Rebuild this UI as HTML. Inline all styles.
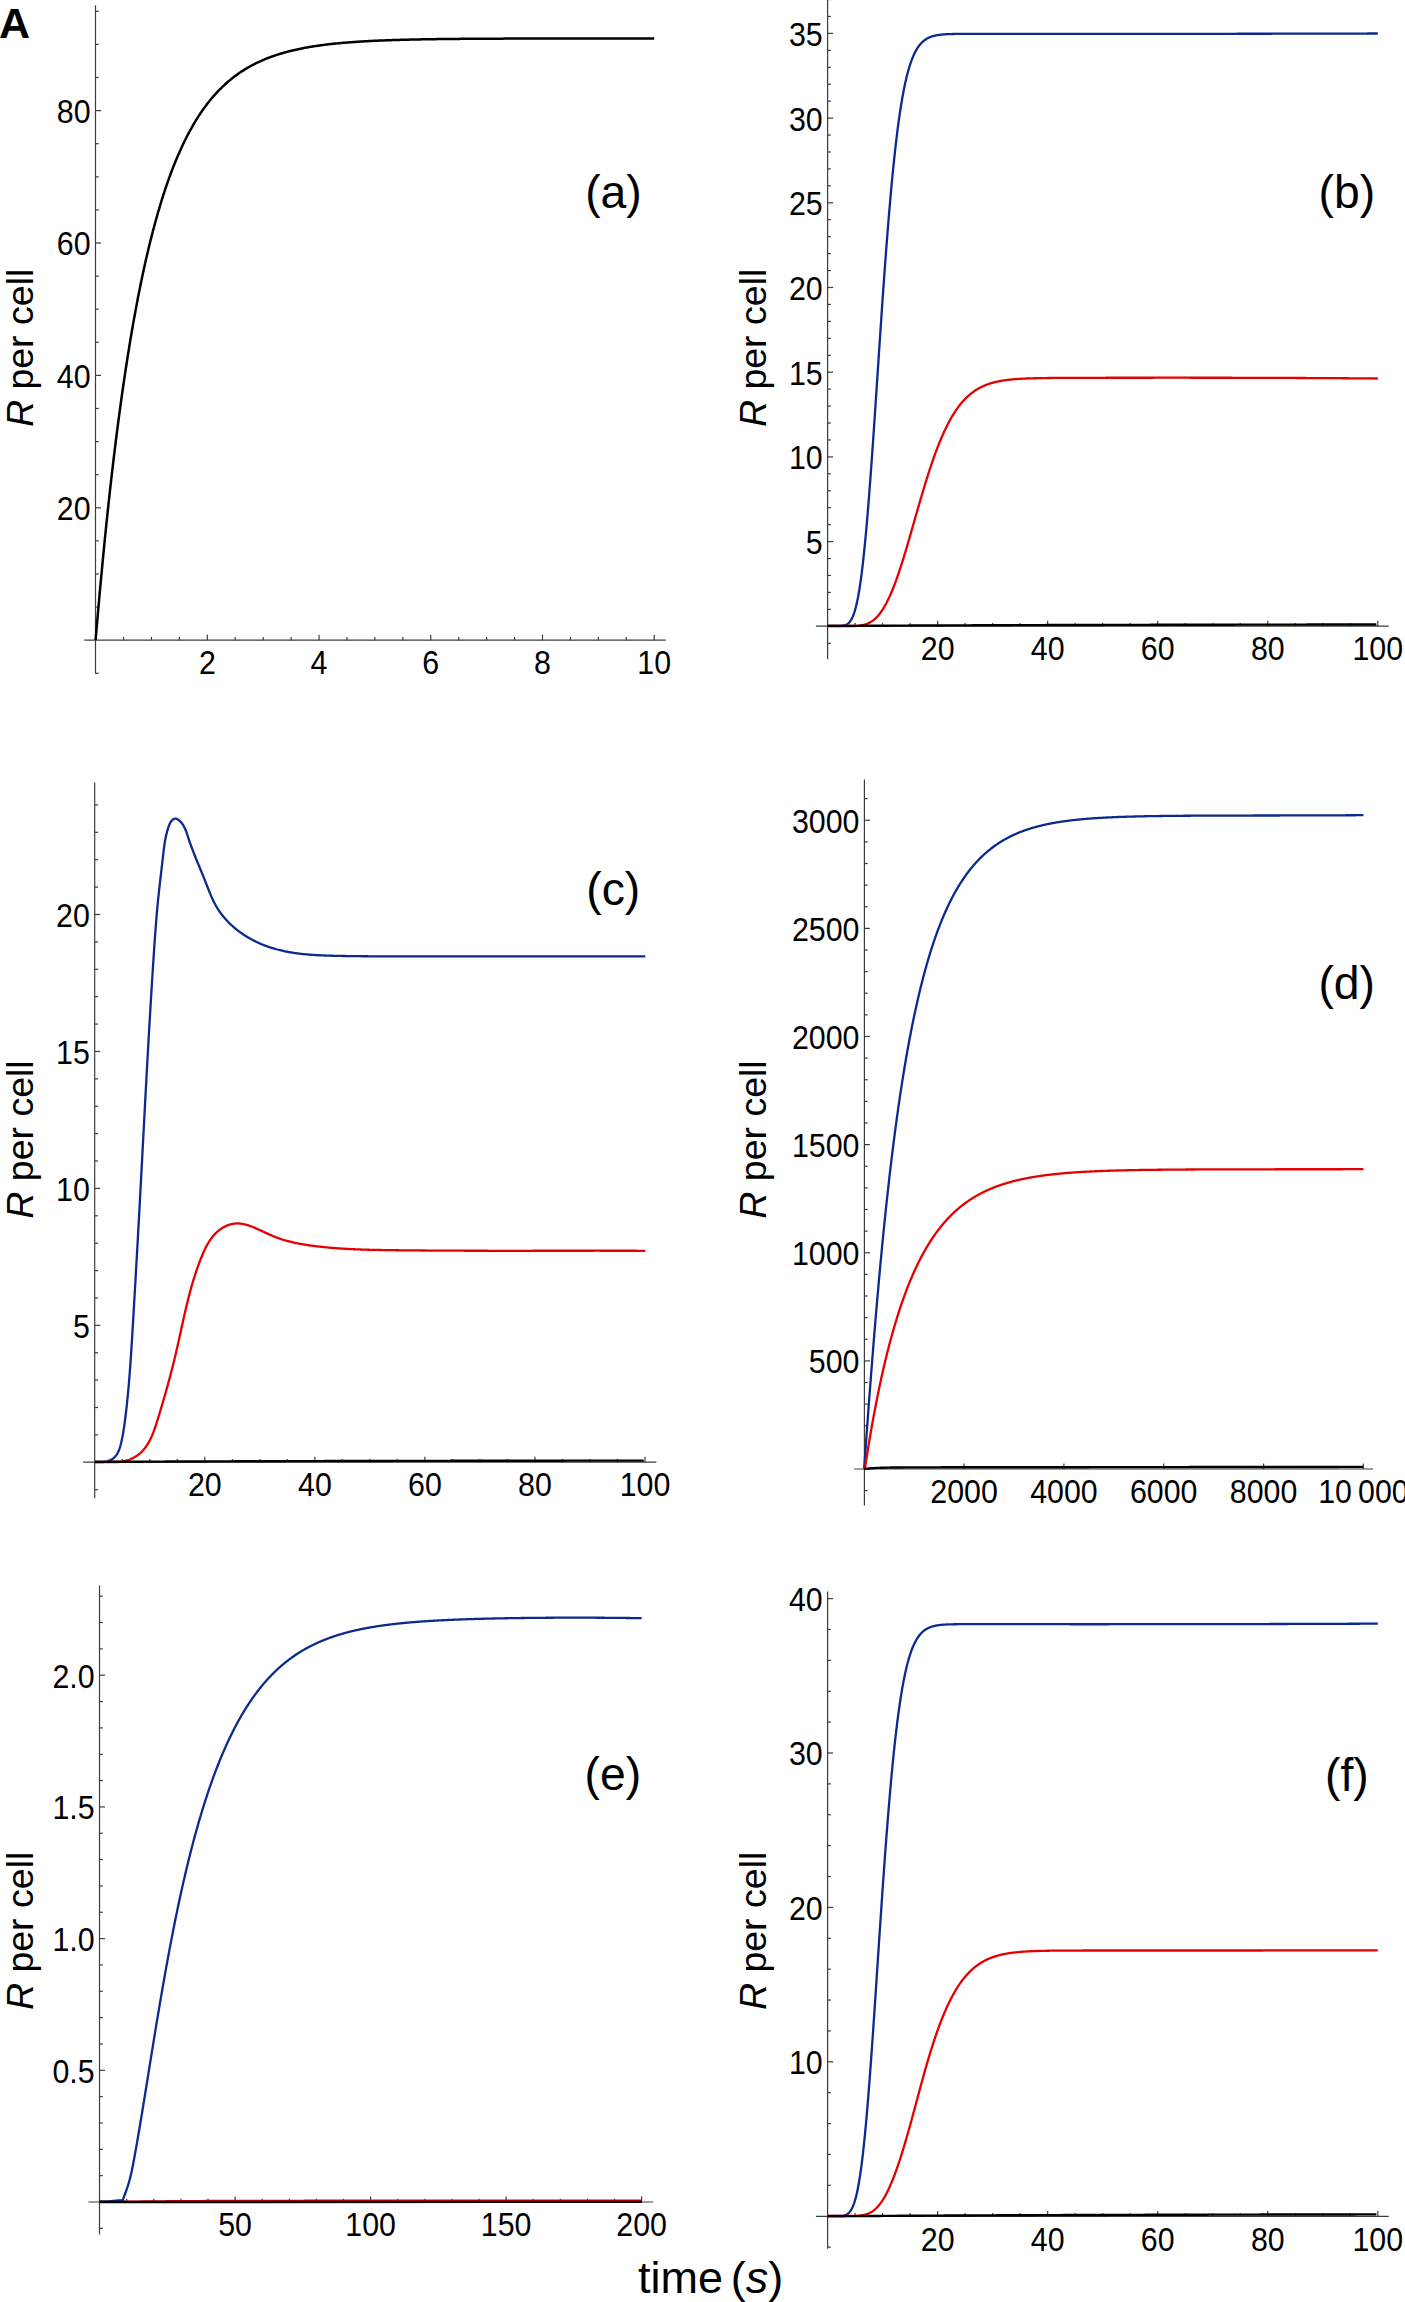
<!DOCTYPE html><html><head><meta charset="utf-8"><style>html,body{margin:0;padding:0;background:#fff;overflow:hidden}svg{display:block}text{fill:#000}</style></head><body><svg xmlns="http://www.w3.org/2000/svg" width="1405" height="2302" viewBox="0 0 1405 2302" font-family='"Liberation Sans", sans-serif'>
<rect width="1405" height="2302" fill="#fff"/>
<line x1="84.2" y1="640.2" x2="665.7" y2="640.2" stroke="#3c3c3c" stroke-width="1.2"/>
<line x1="95.5" y1="5.3" x2="95.5" y2="673.8" stroke="#3c3c3c" stroke-width="1.2"/>
<line x1="207.32" y1="640.2" x2="207.32" y2="634.7" stroke="#3c3c3c" stroke-width="1.2"/>
<line x1="319.04" y1="640.2" x2="319.04" y2="634.7" stroke="#3c3c3c" stroke-width="1.2"/>
<line x1="430.76" y1="640.2" x2="430.76" y2="634.7" stroke="#3c3c3c" stroke-width="1.2"/>
<line x1="542.48" y1="640.2" x2="542.48" y2="634.7" stroke="#3c3c3c" stroke-width="1.2"/>
<line x1="654.2" y1="640.2" x2="654.2" y2="634.7" stroke="#3c3c3c" stroke-width="1.2"/>
<line x1="123.53" y1="640.2" x2="123.53" y2="636.9" stroke="#3c3c3c" stroke-width="1.2"/>
<line x1="151.46" y1="640.2" x2="151.46" y2="636.9" stroke="#3c3c3c" stroke-width="1.2"/>
<line x1="179.39" y1="640.2" x2="179.39" y2="636.9" stroke="#3c3c3c" stroke-width="1.2"/>
<line x1="235.25" y1="640.2" x2="235.25" y2="636.9" stroke="#3c3c3c" stroke-width="1.2"/>
<line x1="263.18" y1="640.2" x2="263.18" y2="636.9" stroke="#3c3c3c" stroke-width="1.2"/>
<line x1="291.11" y1="640.2" x2="291.11" y2="636.9" stroke="#3c3c3c" stroke-width="1.2"/>
<line x1="346.97" y1="640.2" x2="346.97" y2="636.9" stroke="#3c3c3c" stroke-width="1.2"/>
<line x1="374.9" y1="640.2" x2="374.9" y2="636.9" stroke="#3c3c3c" stroke-width="1.2"/>
<line x1="402.83" y1="640.2" x2="402.83" y2="636.9" stroke="#3c3c3c" stroke-width="1.2"/>
<line x1="458.69" y1="640.2" x2="458.69" y2="636.9" stroke="#3c3c3c" stroke-width="1.2"/>
<line x1="486.62" y1="640.2" x2="486.62" y2="636.9" stroke="#3c3c3c" stroke-width="1.2"/>
<line x1="514.55" y1="640.2" x2="514.55" y2="636.9" stroke="#3c3c3c" stroke-width="1.2"/>
<line x1="570.41" y1="640.2" x2="570.41" y2="636.9" stroke="#3c3c3c" stroke-width="1.2"/>
<line x1="598.34" y1="640.2" x2="598.34" y2="636.9" stroke="#3c3c3c" stroke-width="1.2"/>
<line x1="626.27" y1="640.2" x2="626.27" y2="636.9" stroke="#3c3c3c" stroke-width="1.2"/>
<line x1="95.5" y1="507.8" x2="101" y2="507.8" stroke="#3c3c3c" stroke-width="1.2"/>
<line x1="95.5" y1="375.4" x2="101" y2="375.4" stroke="#3c3c3c" stroke-width="1.2"/>
<line x1="95.5" y1="243" x2="101" y2="243" stroke="#3c3c3c" stroke-width="1.2"/>
<line x1="95.5" y1="110.6" x2="101" y2="110.6" stroke="#3c3c3c" stroke-width="1.2"/>
<line x1="95.5" y1="673.3" x2="98.8" y2="673.3" stroke="#3c3c3c" stroke-width="1.2"/>
<line x1="95.5" y1="607.1" x2="98.8" y2="607.1" stroke="#3c3c3c" stroke-width="1.2"/>
<line x1="95.5" y1="574" x2="98.8" y2="574" stroke="#3c3c3c" stroke-width="1.2"/>
<line x1="95.5" y1="540.9" x2="98.8" y2="540.9" stroke="#3c3c3c" stroke-width="1.2"/>
<line x1="95.5" y1="474.7" x2="98.8" y2="474.7" stroke="#3c3c3c" stroke-width="1.2"/>
<line x1="95.5" y1="441.6" x2="98.8" y2="441.6" stroke="#3c3c3c" stroke-width="1.2"/>
<line x1="95.5" y1="408.5" x2="98.8" y2="408.5" stroke="#3c3c3c" stroke-width="1.2"/>
<line x1="95.5" y1="342.3" x2="98.8" y2="342.3" stroke="#3c3c3c" stroke-width="1.2"/>
<line x1="95.5" y1="309.2" x2="98.8" y2="309.2" stroke="#3c3c3c" stroke-width="1.2"/>
<line x1="95.5" y1="276.1" x2="98.8" y2="276.1" stroke="#3c3c3c" stroke-width="1.2"/>
<line x1="95.5" y1="209.9" x2="98.8" y2="209.9" stroke="#3c3c3c" stroke-width="1.2"/>
<line x1="95.5" y1="176.8" x2="98.8" y2="176.8" stroke="#3c3c3c" stroke-width="1.2"/>
<line x1="95.5" y1="143.7" x2="98.8" y2="143.7" stroke="#3c3c3c" stroke-width="1.2"/>
<line x1="95.5" y1="77.5" x2="98.8" y2="77.5" stroke="#3c3c3c" stroke-width="1.2"/>
<line x1="95.5" y1="44.4" x2="98.8" y2="44.4" stroke="#3c3c3c" stroke-width="1.2"/>
<line x1="95.5" y1="11.3" x2="98.8" y2="11.3" stroke="#3c3c3c" stroke-width="1.2"/>
<text transform="translate(207.32,674.3) scale(0.92,1)" font-size="33" text-anchor="middle">2</text>
<text transform="translate(319.04,674.3) scale(0.92,1)" font-size="33" text-anchor="middle">4</text>
<text transform="translate(430.76,674.3) scale(0.92,1)" font-size="33" text-anchor="middle">6</text>
<text transform="translate(542.48,674.3) scale(0.92,1)" font-size="33" text-anchor="middle">8</text>
<text transform="translate(654.2,674.3) scale(0.92,1)" font-size="33" text-anchor="middle">10</text>
<text transform="translate(90.6,520.2) scale(0.92,1)" font-size="33" text-anchor="end">20</text>
<text transform="translate(90.6,387.8) scale(0.92,1)" font-size="33" text-anchor="end">40</text>
<text transform="translate(90.6,255.4) scale(0.92,1)" font-size="33" text-anchor="end">60</text>
<text transform="translate(90.6,123) scale(0.92,1)" font-size="33" text-anchor="end">80</text>
<path d="M95.6,640.2 L96.72,626.96 L97.84,614.02 L98.96,601.35 L100.08,588.97 L101.2,576.86 L102.32,565.01 L103.44,553.43 L104.56,542.1 L105.67,531.02 L106.79,520.18 L107.91,509.59 L109.03,499.22 L110.15,489.09 L111.27,479.17 L112.39,469.48 L113.51,459.99 L114.63,450.72 L115.75,441.65 L116.87,432.78 L117.99,424.11 L119.11,415.62 L120.23,407.32 L121.35,399.21 L122.47,391.27 L123.59,383.51 L124.71,375.92 L125.82,368.5 L126.94,361.23 L128.06,354.13 L129.18,347.19 L130.3,340.4 L131.42,333.75 L132.54,327.26 L133.66,320.9 L134.78,314.69 L135.9,308.61 L137.02,302.67 L138.14,296.86 L139.26,291.17 L140.38,285.61 L141.5,280.17 L142.62,274.86 L143.74,269.66 L144.86,264.57 L145.97,259.59 L147.09,254.73 L148.21,249.97 L149.33,245.32 L150.45,240.77 L151.57,236.32 L152.69,231.96 L153.81,227.71 L154.93,223.54 L156.05,219.47 L157.17,215.49 L158.29,211.59 L159.41,207.78 L160.53,204.06 L161.65,200.42 L162.77,196.85 L163.89,193.37 L165.01,189.96 L166.12,186.63 L167.24,183.37 L168.36,180.18 L169.48,177.06 L170.6,174.01 L171.72,171.03 L172.84,168.11 L173.96,165.26 L175.08,162.47 L176.2,159.74 L177.32,157.07 L178.44,154.46 L179.56,151.91 L180.68,149.41 L181.8,146.97 L182.92,144.58 L184.04,142.25 L185.16,139.97 L186.27,137.73 L187.39,135.55 L188.51,133.41 L189.63,131.32 L190.75,129.28 L191.87,127.28 L192.99,125.33 L194.11,123.42 L195.23,121.55 L196.35,119.72 L197.47,117.93 L198.59,116.18 L199.71,114.47 L200.83,112.8 L201.95,111.16 L203.07,109.56 L204.19,108 L205.31,106.47 L206.42,104.97 L207.54,103.51 L208.66,102.08 L209.78,100.68 L210.9,99.31 L212.02,97.97 L213.14,96.66 L214.26,95.38 L215.38,94.13 L216.5,92.9 L217.62,91.7 L218.74,90.53 L219.86,89.39 L220.98,88.26 L222.1,87.17 L223.22,86.1 L224.34,85.05 L225.45,84.02 L226.57,83.02 L227.69,82.04 L228.81,81.08 L229.93,80.14 L231.05,79.23 L232.17,78.33 L233.29,77.45 L234.41,76.59 L235.53,75.75 L236.65,74.93 L237.77,74.13 L238.89,73.34 L240.01,72.58 L241.13,71.83 L242.25,71.09 L243.37,70.37 L244.49,69.67 L245.6,68.98 L246.72,68.31 L247.84,67.65 L248.96,67.01 L250.08,66.38 L251.2,65.77 L252.32,65.17 L253.44,64.58 L254.56,64 L255.68,63.44 L256.8,62.89 L257.92,62.35 L259.04,61.83 L260.16,61.31 L261.28,60.81 L262.4,60.32 L263.52,59.84 L264.64,59.37 L265.75,58.91 L266.87,58.46 L267.99,58.02 L269.11,57.59 L270.23,57.16 L271.35,56.75 L272.47,56.35 L273.59,55.96 L274.71,55.57 L275.83,55.19 L276.95,54.83 L278.07,54.46 L279.19,54.11 L280.31,53.77 L281.43,53.43 L282.55,53.1 L283.67,52.78 L284.79,52.46 L285.9,52.15 L287.02,51.85 L288.14,51.56 L289.26,51.27 L290.38,50.99 L291.5,50.71 L292.62,50.44 L293.74,50.18 L294.86,49.92 L295.98,49.67 L297.1,49.42 L298.22,49.18 L299.34,48.94 L300.46,48.71 L301.58,48.48 L302.7,48.26 L303.82,48.05 L304.94,47.84 L306.05,47.63 L307.17,47.43 L308.29,47.23 L309.41,47.04 L310.53,46.85 L311.65,46.66 L312.77,46.48 L313.89,46.31 L315.01,46.13 L316.13,45.96 L317.25,45.8 L318.37,45.64 L319.49,45.48 L320.61,45.32 L321.73,45.17 L322.85,45.02 L323.97,44.88 L325.08,44.74 L326.2,44.6 L327.32,44.46 L328.44,44.33 L329.56,44.2 L330.68,44.07 L331.8,43.95 L332.92,43.83 L334.04,43.71 L335.16,43.59 L336.28,43.48 L337.4,43.37 L338.52,43.26 L339.64,43.16 L340.76,43.05 L341.88,42.95 L343,42.85 L344.12,42.75 L345.23,42.66 L346.35,42.57 L347.47,42.48 L348.59,42.39 L349.71,42.3 L350.83,42.22 L351.95,42.13 L353.07,42.05 L354.19,41.97 L355.31,41.89 L356.43,41.82 L357.55,41.74 L358.67,41.67 L359.79,41.6 L360.91,41.53 L362.03,41.46 L363.15,41.4 L364.27,41.33 L365.38,41.27 L366.5,41.21 L367.62,41.15 L368.74,41.09 L369.86,41.03 L370.98,40.97 L372.1,40.92 L373.22,40.86 L374.34,40.81 L375.46,40.76 L376.58,40.7 L377.7,40.65 L378.82,40.61 L379.94,40.56 L381.06,40.51 L382.18,40.47 L383.3,40.42 L384.42,40.38 L385.53,40.34 L386.65,40.29 L387.77,40.25 L388.89,40.21 L390.01,40.17 L391.13,40.14 L392.25,40.1 L393.37,40.06 L394.49,40.03 L395.61,39.99 L396.73,39.96 L397.85,39.92 L398.97,39.89 L400.09,39.86 L401.21,39.83 L402.33,39.8 L403.45,39.77 L404.57,39.74 L405.68,39.71 L406.8,39.68 L407.92,39.66 L409.04,39.63 L410.16,39.6 L411.28,39.58 L412.4,39.55 L413.52,39.53 L414.64,39.5 L415.76,39.48 L416.88,39.46 L418,39.44 L419.12,39.41 L420.24,39.39 L421.36,39.37 L422.48,39.35 L423.6,39.33 L424.72,39.31 L425.83,39.29 L426.95,39.27 L428.07,39.26 L429.19,39.24 L430.31,39.22 L431.43,39.2 L432.55,39.19 L433.67,39.17 L434.79,39.15 L435.91,39.14 L437.03,39.12 L438.15,39.11 L439.27,39.09 L440.39,39.08 L441.51,39.06 L442.63,39.05 L443.75,39.04 L444.86,39.02 L445.98,39.01 L447.1,39 L448.22,38.99 L449.34,38.97 L450.46,38.96 L451.58,38.95 L452.7,38.94 L453.82,38.93 L454.94,38.92 L456.06,38.91 L457.18,38.9 L458.3,38.89 L459.42,38.88 L460.54,38.87 L461.66,38.86 L462.78,38.85 L463.9,38.84 L465.01,38.83 L466.13,38.82 L467.25,38.82 L468.37,38.81 L469.49,38.8 L470.61,38.79 L471.73,38.78 L472.85,38.78 L473.97,38.77 L475.09,38.76 L476.21,38.75 L477.33,38.75 L478.45,38.74 L479.57,38.73 L480.69,38.73 L481.81,38.72 L482.93,38.72 L484.05,38.71 L485.16,38.7 L486.28,38.7 L487.4,38.69 L488.52,38.69 L489.64,38.68 L490.76,38.68 L491.88,38.67 L493,38.67 L494.12,38.66 L495.24,38.66 L496.36,38.65 L497.48,38.65 L498.6,38.64 L499.72,38.64 L500.84,38.63 L501.96,38.63 L503.08,38.63 L504.2,38.62 L505.31,38.62 L506.43,38.61 L507.55,38.61 L508.67,38.61 L509.79,38.6 L510.91,38.6 L512.03,38.6 L513.15,38.59 L514.27,38.59 L515.39,38.59 L516.51,38.58 L517.63,38.58 L518.75,38.58 L519.87,38.57 L520.99,38.57 L522.11,38.57 L523.23,38.56 L524.35,38.56 L525.46,38.56 L526.58,38.56 L527.7,38.55 L528.82,38.55 L529.94,38.55 L531.06,38.55 L532.18,38.54 L533.3,38.54 L534.42,38.54 L535.54,38.54 L536.66,38.54 L537.78,38.53 L538.9,38.53 L540.02,38.53 L541.14,38.53 L542.26,38.53 L543.38,38.52 L544.49,38.52 L545.61,38.52 L546.73,38.52 L547.85,38.52 L548.97,38.52 L550.09,38.51 L551.21,38.51 L552.33,38.51 L553.45,38.51 L554.57,38.51 L555.69,38.51 L556.81,38.5 L557.93,38.5 L559.05,38.5 L560.17,38.5 L561.29,38.5 L562.41,38.5 L563.53,38.5 L564.64,38.5 L565.76,38.49 L566.88,38.49 L568,38.49 L569.12,38.49 L570.24,38.49 L571.36,38.49 L572.48,38.49 L573.6,38.49 L574.72,38.49 L575.84,38.49 L576.96,38.48 L578.08,38.48 L579.2,38.48 L580.32,38.48 L581.44,38.48 L582.56,38.48 L583.68,38.48 L584.79,38.48 L585.91,38.48 L587.03,38.48 L588.15,38.48 L589.27,38.48 L590.39,38.47 L591.51,38.47 L592.63,38.47 L593.75,38.47 L594.87,38.47 L595.99,38.47 L597.11,38.47 L598.23,38.47 L599.35,38.47 L600.47,38.47 L601.59,38.47 L602.71,38.47 L603.83,38.47 L604.94,38.47 L606.06,38.47 L607.18,38.47 L608.3,38.46 L609.42,38.46 L610.54,38.46 L611.66,38.46 L612.78,38.46 L613.9,38.46 L615.02,38.46 L616.14,38.46 L617.26,38.46 L618.38,38.46 L619.5,38.46 L620.62,38.46 L621.74,38.46 L622.86,38.46 L623.98,38.46 L625.09,38.46 L626.21,38.46 L627.33,38.46 L628.45,38.46 L629.57,38.46 L630.69,38.46 L631.81,38.46 L632.93,38.46 L634.05,38.46 L635.17,38.46 L636.29,38.45 L637.41,38.45 L638.53,38.45 L639.65,38.45 L640.77,38.45 L641.89,38.45 L643.01,38.45 L644.13,38.45 L645.24,38.45 L646.36,38.45 L647.48,38.45 L648.6,38.45 L649.72,38.45 L650.84,38.45 L651.96,38.45 L653.08,38.45 L654.2,38.45" fill="none" stroke="#000" stroke-width="2.5" stroke-linejoin="round" stroke-linecap="butt"/>
<text x="613.5" y="207.6" font-size="46.3" text-anchor="middle" >(a)</text>
<text transform="translate(32.5,347.9) rotate(-90)" font-size="37.5" text-anchor="middle"><tspan font-style="italic">R</tspan> per cell</text>
<line x1="815.9" y1="626.2" x2="1388.7" y2="626.2" stroke="#3c3c3c" stroke-width="1.2"/>
<line x1="827.6" y1="-1" x2="827.6" y2="659.2" stroke="#3c3c3c" stroke-width="1.2"/>
<line x1="937.64" y1="626.2" x2="937.64" y2="620.7" stroke="#3c3c3c" stroke-width="1.2"/>
<line x1="1047.68" y1="626.2" x2="1047.68" y2="620.7" stroke="#3c3c3c" stroke-width="1.2"/>
<line x1="1157.72" y1="626.2" x2="1157.72" y2="620.7" stroke="#3c3c3c" stroke-width="1.2"/>
<line x1="1267.76" y1="626.2" x2="1267.76" y2="620.7" stroke="#3c3c3c" stroke-width="1.2"/>
<line x1="1377.8" y1="626.2" x2="1377.8" y2="620.7" stroke="#3c3c3c" stroke-width="1.2"/>
<line x1="855.11" y1="626.2" x2="855.11" y2="622.9" stroke="#3c3c3c" stroke-width="1.2"/>
<line x1="882.62" y1="626.2" x2="882.62" y2="622.9" stroke="#3c3c3c" stroke-width="1.2"/>
<line x1="910.13" y1="626.2" x2="910.13" y2="622.9" stroke="#3c3c3c" stroke-width="1.2"/>
<line x1="965.15" y1="626.2" x2="965.15" y2="622.9" stroke="#3c3c3c" stroke-width="1.2"/>
<line x1="992.66" y1="626.2" x2="992.66" y2="622.9" stroke="#3c3c3c" stroke-width="1.2"/>
<line x1="1020.17" y1="626.2" x2="1020.17" y2="622.9" stroke="#3c3c3c" stroke-width="1.2"/>
<line x1="1075.19" y1="626.2" x2="1075.19" y2="622.9" stroke="#3c3c3c" stroke-width="1.2"/>
<line x1="1102.7" y1="626.2" x2="1102.7" y2="622.9" stroke="#3c3c3c" stroke-width="1.2"/>
<line x1="1130.21" y1="626.2" x2="1130.21" y2="622.9" stroke="#3c3c3c" stroke-width="1.2"/>
<line x1="1185.23" y1="626.2" x2="1185.23" y2="622.9" stroke="#3c3c3c" stroke-width="1.2"/>
<line x1="1212.74" y1="626.2" x2="1212.74" y2="622.9" stroke="#3c3c3c" stroke-width="1.2"/>
<line x1="1240.25" y1="626.2" x2="1240.25" y2="622.9" stroke="#3c3c3c" stroke-width="1.2"/>
<line x1="1295.27" y1="626.2" x2="1295.27" y2="622.9" stroke="#3c3c3c" stroke-width="1.2"/>
<line x1="1322.78" y1="626.2" x2="1322.78" y2="622.9" stroke="#3c3c3c" stroke-width="1.2"/>
<line x1="1350.29" y1="626.2" x2="1350.29" y2="622.9" stroke="#3c3c3c" stroke-width="1.2"/>
<line x1="827.6" y1="541.6" x2="833.1" y2="541.6" stroke="#3c3c3c" stroke-width="1.2"/>
<line x1="827.6" y1="456.9" x2="833.1" y2="456.9" stroke="#3c3c3c" stroke-width="1.2"/>
<line x1="827.6" y1="372.2" x2="833.1" y2="372.2" stroke="#3c3c3c" stroke-width="1.2"/>
<line x1="827.6" y1="287.5" x2="833.1" y2="287.5" stroke="#3c3c3c" stroke-width="1.2"/>
<line x1="827.6" y1="202.8" x2="833.1" y2="202.8" stroke="#3c3c3c" stroke-width="1.2"/>
<line x1="827.6" y1="118.1" x2="833.1" y2="118.1" stroke="#3c3c3c" stroke-width="1.2"/>
<line x1="827.6" y1="33.4" x2="833.1" y2="33.4" stroke="#3c3c3c" stroke-width="1.2"/>
<line x1="827.6" y1="643.24" x2="830.9" y2="643.24" stroke="#3c3c3c" stroke-width="1.2"/>
<line x1="827.6" y1="609.36" x2="830.9" y2="609.36" stroke="#3c3c3c" stroke-width="1.2"/>
<line x1="827.6" y1="592.42" x2="830.9" y2="592.42" stroke="#3c3c3c" stroke-width="1.2"/>
<line x1="827.6" y1="575.48" x2="830.9" y2="575.48" stroke="#3c3c3c" stroke-width="1.2"/>
<line x1="827.6" y1="558.54" x2="830.9" y2="558.54" stroke="#3c3c3c" stroke-width="1.2"/>
<line x1="827.6" y1="524.66" x2="830.9" y2="524.66" stroke="#3c3c3c" stroke-width="1.2"/>
<line x1="827.6" y1="507.72" x2="830.9" y2="507.72" stroke="#3c3c3c" stroke-width="1.2"/>
<line x1="827.6" y1="490.78" x2="830.9" y2="490.78" stroke="#3c3c3c" stroke-width="1.2"/>
<line x1="827.6" y1="473.84" x2="830.9" y2="473.84" stroke="#3c3c3c" stroke-width="1.2"/>
<line x1="827.6" y1="439.96" x2="830.9" y2="439.96" stroke="#3c3c3c" stroke-width="1.2"/>
<line x1="827.6" y1="423.02" x2="830.9" y2="423.02" stroke="#3c3c3c" stroke-width="1.2"/>
<line x1="827.6" y1="406.08" x2="830.9" y2="406.08" stroke="#3c3c3c" stroke-width="1.2"/>
<line x1="827.6" y1="389.14" x2="830.9" y2="389.14" stroke="#3c3c3c" stroke-width="1.2"/>
<line x1="827.6" y1="355.26" x2="830.9" y2="355.26" stroke="#3c3c3c" stroke-width="1.2"/>
<line x1="827.6" y1="338.32" x2="830.9" y2="338.32" stroke="#3c3c3c" stroke-width="1.2"/>
<line x1="827.6" y1="321.38" x2="830.9" y2="321.38" stroke="#3c3c3c" stroke-width="1.2"/>
<line x1="827.6" y1="304.44" x2="830.9" y2="304.44" stroke="#3c3c3c" stroke-width="1.2"/>
<line x1="827.6" y1="270.56" x2="830.9" y2="270.56" stroke="#3c3c3c" stroke-width="1.2"/>
<line x1="827.6" y1="253.62" x2="830.9" y2="253.62" stroke="#3c3c3c" stroke-width="1.2"/>
<line x1="827.6" y1="236.68" x2="830.9" y2="236.68" stroke="#3c3c3c" stroke-width="1.2"/>
<line x1="827.6" y1="219.74" x2="830.9" y2="219.74" stroke="#3c3c3c" stroke-width="1.2"/>
<line x1="827.6" y1="185.86" x2="830.9" y2="185.86" stroke="#3c3c3c" stroke-width="1.2"/>
<line x1="827.6" y1="168.92" x2="830.9" y2="168.92" stroke="#3c3c3c" stroke-width="1.2"/>
<line x1="827.6" y1="151.98" x2="830.9" y2="151.98" stroke="#3c3c3c" stroke-width="1.2"/>
<line x1="827.6" y1="135.04" x2="830.9" y2="135.04" stroke="#3c3c3c" stroke-width="1.2"/>
<line x1="827.6" y1="101.16" x2="830.9" y2="101.16" stroke="#3c3c3c" stroke-width="1.2"/>
<line x1="827.6" y1="84.22" x2="830.9" y2="84.22" stroke="#3c3c3c" stroke-width="1.2"/>
<line x1="827.6" y1="67.28" x2="830.9" y2="67.28" stroke="#3c3c3c" stroke-width="1.2"/>
<line x1="827.6" y1="50.34" x2="830.9" y2="50.34" stroke="#3c3c3c" stroke-width="1.2"/>
<line x1="827.6" y1="16.46" x2="830.9" y2="16.46" stroke="#3c3c3c" stroke-width="1.2"/>
<line x1="827.6" y1="-0.48" x2="830.9" y2="-0.48" stroke="#3c3c3c" stroke-width="1.2"/>
<text transform="translate(937.64,660.3) scale(0.92,1)" font-size="33" text-anchor="middle">20</text>
<text transform="translate(1047.68,660.3) scale(0.92,1)" font-size="33" text-anchor="middle">40</text>
<text transform="translate(1157.72,660.3) scale(0.92,1)" font-size="33" text-anchor="middle">60</text>
<text transform="translate(1267.76,660.3) scale(0.92,1)" font-size="33" text-anchor="middle">80</text>
<text transform="translate(1377.8,660.3) scale(0.92,1)" font-size="33" text-anchor="middle">100</text>
<text transform="translate(822.7,554) scale(0.92,1)" font-size="33" text-anchor="end">5</text>
<text transform="translate(822.7,469.3) scale(0.92,1)" font-size="33" text-anchor="end">10</text>
<text transform="translate(822.7,384.6) scale(0.92,1)" font-size="33" text-anchor="end">15</text>
<text transform="translate(822.7,299.9) scale(0.92,1)" font-size="33" text-anchor="end">20</text>
<text transform="translate(822.7,215.2) scale(0.92,1)" font-size="33" text-anchor="end">25</text>
<text transform="translate(822.7,130.5) scale(0.92,1)" font-size="33" text-anchor="end">30</text>
<text transform="translate(822.7,45.8) scale(0.92,1)" font-size="33" text-anchor="end">35</text>
<path d="M827.6,625.96 L827.97,625.96 L828.33,625.96 L828.7,625.96 L829.07,625.96 L829.44,625.96 L829.8,625.96 L830.17,625.96 L830.54,625.96 L830.9,625.96 L831.27,625.96 L831.64,625.96 L832,625.96 L832.37,625.96 L832.74,625.96 L833.11,625.96 L833.47,625.96 L833.84,625.96 L834.21,625.96 L834.57,625.96 L834.94,625.96 L835.31,625.96 L835.67,625.96 L836.04,625.95 L836.41,625.95 L836.77,625.95 L837.14,625.95 L837.51,625.94 L837.87,625.94 L838.24,625.93 L838.6,625.93 L838.97,625.92 L839.34,625.91 L839.7,625.9 L840.06,625.88 L840.43,625.86 L840.79,625.84 L841.16,625.82 L841.52,625.79 L841.88,625.76 L842.24,625.72 L842.6,625.68 L842.96,625.63 L843.32,625.57 L843.68,625.5 L844.04,625.43 L844.4,625.34 L844.76,625.24 L845.11,625.13 L845.47,625.01 L845.82,624.87 L846.17,624.72 L846.53,624.54 L846.88,624.35 L847.24,624.14 L847.59,623.9 L847.94,623.64 L848.3,623.36 L848.65,623.04 L849.01,622.69 L849.36,622.31 L849.72,621.89 L850.08,621.44 L850.44,620.94 L850.8,620.4 L851.16,619.82 L851.52,619.18 L851.88,618.5 L852.24,617.76 L852.61,616.97 L852.97,616.12 L853.33,615.21 L853.7,614.24 L854.06,613.2 L854.43,612.1 L854.79,610.93 L855.16,609.68 L855.52,608.36 L855.89,606.96 L856.25,605.48 L856.62,603.92 L856.98,602.28 L857.35,600.56 L857.72,598.74 L858.08,596.84 L858.45,594.85 L858.81,592.77 L859.18,590.59 L859.55,588.32 L859.91,585.96 L860.28,583.5 L860.65,580.94 L861.01,578.28 L861.38,575.53 L861.75,572.67 L862.11,569.72 L862.48,566.67 L862.85,563.52 L863.21,560.27 L863.58,556.92 L863.95,553.47 L864.31,549.93 L864.68,546.28 L865.05,542.55 L865.41,538.72 L865.78,534.79 L866.15,530.77 L866.52,526.67 L866.88,522.47 L867.25,518.19 L867.62,513.82 L867.99,509.37 L868.36,504.84 L868.73,500.23 L869.09,495.54 L869.46,490.78 L869.83,485.95 L870.2,481.05 L870.57,476.09 L870.94,471.06 L871.31,465.98 L871.68,460.83 L872.05,455.64 L872.42,450.39 L872.79,445.1 L873.16,439.76 L873.53,434.39 L873.9,428.97 L874.27,423.52 L874.64,418.04 L875.01,412.54 L875.38,407.01 L875.75,401.46 L876.12,395.89 L876.49,390.31 L876.86,384.72 L877.23,379.12 L877.6,373.52 L877.98,367.91 L878.35,362.31 L878.72,356.72 L879.09,351.13 L879.46,345.55 L879.83,339.99 L880.21,334.45 L880.58,328.93 L880.95,323.43 L881.32,317.96 L881.69,312.51 L882.06,307.1 L882.44,301.72 L882.81,296.37 L883.18,291.07 L883.55,285.8 L883.92,280.58 L884.3,275.4 L884.67,270.27 L885.04,265.18 L885.41,260.15 L885.78,255.17 L886.15,250.25 L886.53,245.38 L886.9,240.56 L887.27,235.8 L887.64,231.11 L888.01,226.47 L888.38,221.9 L888.75,217.39 L889.13,212.94 L889.5,208.56 L889.87,204.24 L890.24,199.99 L890.61,195.8 L890.98,191.68 L891.35,187.63 L891.72,183.65 L892.09,179.73 L892.46,175.89 L892.83,172.11 L893.21,168.4 L893.58,164.76 L893.95,161.19 L894.32,157.69 L894.69,154.25 L895.06,150.89 L895.43,147.59 L895.8,144.36 L896.17,141.2 L896.54,138.1 L896.91,135.07 L897.28,132.11 L897.64,129.22 L898.01,126.38 L898.38,123.62 L898.75,120.91 L899.12,118.27 L899.49,115.7 L899.86,113.18 L900.23,110.73 L900.6,108.33 L900.97,106 L901.34,103.72 L901.71,101.5 L902.07,99.34 L902.44,97.23 L902.81,95.18 L903.18,93.19 L903.55,91.25 L903.92,89.36 L904.29,87.52 L904.65,85.73 L905.02,83.99 L905.39,82.3 L905.76,80.66 L906.13,79.06 L906.5,77.52 L906.86,76.01 L907.23,74.55 L907.6,73.14 L907.97,71.76 L908.34,70.43 L908.7,69.14 L909.07,67.88 L909.44,66.67 L909.81,65.49 L910.18,64.35 L910.54,63.24 L910.91,62.17 L911.28,61.14 L911.65,60.14 L912.02,59.17 L912.38,58.23 L912.75,57.32 L913.12,56.44 L913.49,55.59 L913.85,54.77 L914.22,53.98 L914.59,53.21 L914.96,52.47 L915.32,51.76 L915.69,51.07 L916.06,50.4 L916.43,49.76 L916.79,49.14 L917.16,48.54 L917.53,47.96 L917.9,47.4 L918.26,46.87 L918.63,46.35 L919,45.85 L919.37,45.37 L919.73,44.91 L920.1,44.46 L920.47,44.03 L920.83,43.61 L921.2,43.22 L921.57,42.83 L921.94,42.46 L922.3,42.11 L922.67,41.77 L923.04,41.44 L923.4,41.12 L923.77,40.82 L924.14,40.52 L924.51,40.24 L924.87,39.97 L925.24,39.71 L925.61,39.46 L925.97,39.23 L926.34,39 L926.71,38.77 L927.08,38.56 L927.44,38.36 L927.81,38.16 L928.18,37.98 L928.54,37.8 L928.91,37.62 L929.28,37.46 L929.64,37.3 L930.01,37.15 L930.38,37 L930.74,36.86 L931.11,36.73 L931.48,36.6 L931.85,36.48 L932.21,36.36 L932.58,36.25 L932.95,36.14 L933.31,36.04 L933.68,35.94 L934.05,35.84 L934.41,35.75 L934.78,35.66 L935.15,35.58 L935.51,35.5 L935.88,35.43 L936.25,35.35 L936.62,35.28 L936.98,35.22 L937.35,35.15 L937.72,35.09 L938.08,35.04 L938.45,34.98 L938.82,34.93 L939.18,34.88 L939.55,34.83 L939.92,34.78 L940.29,34.74 L940.65,34.7 L941.02,34.66 L941.39,34.62 L941.75,34.58 L942.12,34.55 L942.49,34.51 L942.85,34.48 L943.22,34.45 L943.59,34.42 L943.95,34.39 L944.32,34.37 L944.69,34.34 L945.06,34.32 L945.42,34.3 L945.79,34.27 L946.16,34.25 L946.52,34.23 L946.89,34.22 L947.26,34.2 L947.62,34.18 L947.99,34.16 L948.36,34.15 L948.73,34.13 L949.09,34.12 L949.46,34.11 L949.83,34.09 L950.19,34.08 L950.56,34.07 L950.93,34.06 L951.29,34.05 L951.66,34.04 L952.03,34.03 L952.4,34.02 L952.76,34.01 L953.13,34.01 L953.5,34 L953.86,33.99 L954.23,33.98 L954.6,33.98 L954.96,33.97 L955.33,33.97 L955.7,33.96 L956.07,33.95 L956.43,33.95 L956.8,33.94 L957.17,33.94 L957.53,33.94 L957.9,33.93 L958.27,33.93 L958.64,33.92 L959,33.92 L959.37,33.92 L959.74,33.91 L960.1,33.91 L960.47,33.91 L960.84,33.91 L961.2,33.9 L961.57,33.9 L961.94,33.9 L962.31,33.9 L962.67,33.9 L963.04,33.89 L963.41,33.89 L963.77,33.89 L964.14,33.89 L964.51,33.89 L964.87,33.89 L965.24,33.88 L965.61,33.88 L965.98,33.88 L966.34,33.88 L966.71,33.88 L967.08,33.88 L967.44,33.88 L967.81,33.88 L968.18,33.88 L968.55,33.88 L968.91,33.87 L969.28,33.87 L969.65,33.87 L970.01,33.87 L970.38,33.87 L970.75,33.87 L971.11,33.87 L971.48,33.87 L971.85,33.87 L972.22,33.87 L972.58,33.87 L972.95,33.87 L973.32,33.87 L973.68,33.87 L974.05,33.87 L974.42,33.87 L974.78,33.87 L975.15,33.87 L975.52,33.87 L975.89,33.87 L976.25,33.87 L976.62,33.87 L976.99,33.87 L977.35,33.87 L977.72,33.87 L978.09,33.87 L978.46,33.87 L978.82,33.87 L979.19,33.87 L979.56,33.87 L979.92,33.87 L980.29,33.87 L980.66,33.87 L981.02,33.87 L981.39,33.87 L981.76,33.87 L982.13,33.87 L982.49,33.87 L982.86,33.87 L983.23,33.87 L983.59,33.87 L983.96,33.87 L984.33,33.87 L984.7,33.87 L985.06,33.87 L985.43,33.87 L985.8,33.87 L986.16,33.87 L986.53,33.87 L986.9,33.87 L987.26,33.87 L987.63,33.87 L988,33.87 L988.37,33.87 L988.73,33.87 L989.1,33.87 L989.47,33.87 L989.83,33.87 L990.2,33.87 L990.57,33.87 L990.93,33.87 L991.3,33.87 L991.67,33.87 L992.04,33.87 L992.4,33.87 L992.77,33.87 L993.14,33.87 L993.5,33.87 L993.87,33.87 L994.24,33.87 L994.61,33.87 L994.97,33.87 L995.34,33.87 L995.71,33.87 L996.07,33.87 L996.44,33.87 L996.81,33.87 L997.17,33.87 L997.54,33.87 L997.91,33.87 L998.28,33.87 L998.64,33.87 L999.01,33.87 L999.38,33.87 L999.74,33.87 L1000.11,33.87 L1000.48,33.87 L1000.85,33.87 L1001.21,33.87 L1001.58,33.87 L1001.95,33.87 L1002.31,33.87 L1002.68,33.87 L1003.05,33.87 L1003.41,33.87 L1003.78,33.87 L1004.15,33.87 L1004.52,33.87 L1004.88,33.87 L1005.25,33.87 L1005.62,33.87 L1005.98,33.87 L1006.35,33.87 L1006.72,33.87 L1007.08,33.87 L1007.45,33.87 L1007.82,33.87 L1008.19,33.87 L1008.55,33.87 L1008.92,33.87 L1009.29,33.87 L1009.65,33.87 L1010.02,33.87 L1010.39,33.87 L1010.76,33.87 L1011.12,33.87 L1011.49,33.87 L1011.86,33.88 L1012.22,33.88 L1012.59,33.88 L1012.96,33.88 L1013.32,33.88 L1013.69,33.88 L1014.06,33.88 L1014.43,33.88 L1014.79,33.88 L1015.16,33.88 L1015.53,33.88 L1015.89,33.88 L1016.26,33.88 L1016.63,33.88 L1017,33.88 L1017.36,33.88 L1017.73,33.88 L1018.1,33.88 L1018.46,33.88 L1018.83,33.88 L1019.2,33.88 L1019.56,33.88 L1019.93,33.88 L1020.3,33.88 L1020.67,33.88 L1021.03,33.88 L1021.4,33.88 L1021.77,33.88 L1022.13,33.88 L1022.5,33.88 L1022.87,33.88 L1023.23,33.88 L1023.6,33.88 L1023.97,33.88 L1024.34,33.88 L1024.7,33.88 L1025.07,33.88 L1025.44,33.88 L1025.8,33.88 L1026.17,33.88 L1026.54,33.88 L1026.91,33.88 L1027.27,33.88 L1027.64,33.88 L1028.01,33.88 L1028.37,33.88 L1028.74,33.88 L1029.11,33.88 L1029.47,33.88 L1029.84,33.88 L1030.21,33.88 L1030.58,33.88 L1030.94,33.88 L1031.31,33.88 L1031.68,33.88 L1032.04,33.88 L1032.41,33.88 L1032.78,33.88 L1033.15,33.88 L1033.51,33.88 L1033.88,33.88 L1034.25,33.88 L1034.61,33.88 L1034.98,33.88 L1035.35,33.88 L1035.71,33.88 L1036.08,33.88 L1036.45,33.88 L1036.82,33.88 L1037.18,33.88 L1037.55,33.88 L1037.92,33.88 L1038.28,33.88 L1038.65,33.88 L1039.02,33.88 L1039.38,33.88 L1039.75,33.88 L1040.12,33.88 L1040.49,33.88 L1040.85,33.88 L1041.22,33.88 L1041.59,33.88 L1041.95,33.88 L1042.32,33.88 L1042.69,33.88 L1043.06,33.88 L1043.42,33.88 L1043.79,33.88 L1044.16,33.88 L1044.52,33.88 L1044.89,33.88 L1045.26,33.88 L1045.62,33.88 L1045.99,33.88 L1046.36,33.88 L1046.73,33.88 L1047.09,33.88 L1047.46,33.88 L1047.83,33.88 L1048.19,33.88 L1048.56,33.88 L1048.93,33.88 L1049.29,33.88 L1049.66,33.88 L1050.03,33.88 L1050.4,33.88 L1050.76,33.88 L1051.13,33.88 L1051.5,33.88 L1051.86,33.88 L1052.23,33.88 L1052.6,33.88 L1052.97,33.88 L1053.33,33.88 L1053.7,33.88 L1054.07,33.88 L1054.43,33.88 L1054.8,33.88 L1055.17,33.88 L1055.53,33.88 L1055.9,33.88 L1056.27,33.88 L1056.64,33.88 L1057,33.88 L1057.37,33.88 L1057.74,33.88 L1058.1,33.88 L1058.47,33.88 L1058.84,33.88 L1059.21,33.88 L1059.57,33.88 L1059.94,33.88 L1060.31,33.88 L1060.67,33.88 L1061.04,33.88 L1061.41,33.88 L1061.77,33.88 L1062.14,33.88 L1062.51,33.88 L1062.88,33.88 L1063.24,33.88 L1063.61,33.88 L1063.98,33.88 L1064.34,33.88 L1064.71,33.88 L1065.08,33.88 L1065.44,33.88 L1065.81,33.88 L1066.18,33.88 L1066.55,33.88 L1066.91,33.88 L1067.28,33.88 L1067.65,33.88 L1068.01,33.88 L1068.38,33.88 L1068.75,33.88 L1069.12,33.88 L1069.48,33.88 L1069.85,33.88 L1070.22,33.88 L1070.58,33.88 L1070.95,33.88 L1071.32,33.88 L1071.68,33.88 L1072.05,33.88 L1072.42,33.88 L1072.79,33.88 L1073.15,33.88 L1073.52,33.88 L1073.89,33.88 L1074.25,33.88 L1074.62,33.88 L1074.99,33.88 L1075.36,33.88 L1075.72,33.88 L1076.09,33.88 L1076.46,33.88 L1076.82,33.88 L1077.19,33.88 L1077.56,33.88 L1077.92,33.88 L1078.29,33.88 L1078.66,33.88 L1079.03,33.88 L1079.39,33.88 L1079.76,33.88 L1080.13,33.88 L1080.49,33.88 L1080.86,33.88 L1081.23,33.88 L1081.59,33.88 L1081.96,33.88 L1082.33,33.88 L1082.7,33.88 L1083.06,33.88 L1083.43,33.88 L1083.8,33.88 L1084.16,33.88 L1084.53,33.88 L1084.9,33.88 L1085.27,33.88 L1085.63,33.88 L1086,33.88 L1086.37,33.88 L1086.73,33.88 L1087.1,33.88 L1087.47,33.88 L1087.83,33.88 L1088.2,33.88 L1088.57,33.88 L1088.94,33.88 L1089.3,33.88 L1089.67,33.88 L1090.04,33.88 L1090.4,33.88 L1090.77,33.88 L1091.14,33.88 L1091.51,33.88 L1091.87,33.88 L1092.24,33.88 L1092.61,33.88 L1092.97,33.88 L1093.34,33.88 L1093.71,33.88 L1094.07,33.88 L1094.44,33.88 L1094.81,33.88 L1095.18,33.88 L1095.54,33.88 L1095.91,33.88 L1096.28,33.88 L1096.64,33.88 L1097.01,33.88 L1097.38,33.88 L1097.74,33.88 L1098.11,33.88 L1098.48,33.88 L1098.85,33.88 L1099.21,33.88 L1099.58,33.88 L1099.95,33.88 L1100.31,33.88 L1100.68,33.88 L1101.05,33.88 L1101.42,33.88 L1101.78,33.88 L1102.15,33.88 L1102.52,33.88 L1102.88,33.88 L1103.25,33.88 L1103.62,33.88 L1103.98,33.88 L1104.35,33.88 L1104.72,33.88 L1105.09,33.87 L1105.45,33.87 L1105.82,33.87 L1106.19,33.87 L1106.55,33.87 L1106.92,33.87 L1107.29,33.87 L1107.66,33.87 L1108.02,33.87 L1108.39,33.87 L1108.76,33.87 L1109.12,33.87 L1109.49,33.87 L1109.86,33.87 L1110.22,33.87 L1110.59,33.87 L1110.96,33.87 L1111.33,33.87 L1111.69,33.87 L1112.06,33.87 L1112.43,33.87 L1112.79,33.87 L1113.16,33.87 L1113.53,33.87 L1113.89,33.87 L1114.26,33.87 L1114.63,33.87 L1115,33.87 L1115.36,33.87 L1115.73,33.87 L1116.1,33.87 L1116.46,33.87 L1116.83,33.87 L1117.2,33.87 L1117.57,33.87 L1117.93,33.87 L1118.3,33.87 L1118.67,33.87 L1119.03,33.87 L1119.4,33.87 L1119.77,33.87 L1120.13,33.87 L1120.5,33.87 L1120.87,33.87 L1121.24,33.87 L1121.6,33.87 L1121.97,33.87 L1122.34,33.87 L1122.7,33.87 L1123.07,33.87 L1123.44,33.87 L1123.81,33.87 L1124.17,33.87 L1124.54,33.87 L1124.91,33.87 L1125.27,33.87 L1125.64,33.87 L1126.01,33.87 L1126.37,33.87 L1126.74,33.87 L1127.11,33.87 L1127.48,33.87 L1127.84,33.87 L1128.21,33.87 L1128.58,33.87 L1128.94,33.87 L1129.31,33.87 L1129.68,33.87 L1130.04,33.87 L1130.41,33.87 L1130.78,33.87 L1131.15,33.87 L1131.51,33.87 L1131.88,33.87 L1132.25,33.86 L1132.61,33.86 L1132.98,33.86 L1133.35,33.86 L1133.72,33.86 L1134.08,33.86 L1134.45,33.86 L1134.82,33.86 L1135.18,33.86 L1135.55,33.86 L1135.92,33.86 L1136.28,33.86 L1136.65,33.86 L1137.02,33.86 L1137.39,33.86 L1137.75,33.86 L1138.12,33.86 L1138.49,33.86 L1138.85,33.86 L1139.22,33.86 L1139.59,33.86 L1139.96,33.86 L1140.32,33.86 L1140.69,33.86 L1141.06,33.86 L1141.42,33.86 L1141.79,33.86 L1142.16,33.86 L1142.52,33.86 L1142.89,33.86 L1143.26,33.86 L1143.63,33.86 L1143.99,33.86 L1144.36,33.86 L1144.73,33.86 L1145.09,33.86 L1145.46,33.86 L1145.83,33.86 L1146.19,33.86 L1146.56,33.86 L1146.93,33.86 L1147.3,33.86 L1147.66,33.86 L1148.03,33.86 L1148.4,33.86 L1148.76,33.86 L1149.13,33.86 L1149.5,33.86 L1149.87,33.86 L1150.23,33.86 L1150.6,33.86 L1150.97,33.85 L1151.33,33.85 L1151.7,33.85 L1152.07,33.85 L1152.43,33.85 L1152.8,33.85 L1153.17,33.85 L1153.54,33.85 L1153.9,33.85 L1154.27,33.85 L1154.64,33.85 L1155,33.85 L1155.37,33.85 L1155.74,33.85 L1156.11,33.85 L1156.47,33.85 L1156.84,33.85 L1157.21,33.85 L1157.57,33.85 L1157.94,33.85 L1158.31,33.85 L1158.67,33.85 L1159.04,33.85 L1159.41,33.85 L1159.78,33.85 L1160.14,33.85 L1160.51,33.85 L1160.88,33.85 L1161.24,33.85 L1161.61,33.85 L1161.98,33.85 L1162.34,33.85 L1162.71,33.85 L1163.08,33.85 L1163.45,33.85 L1163.81,33.85 L1164.18,33.85 L1164.55,33.85 L1164.91,33.85 L1165.28,33.85 L1165.65,33.85 L1166.02,33.85 L1166.38,33.84 L1166.75,33.84 L1167.12,33.84 L1167.48,33.84 L1167.85,33.84 L1168.22,33.84 L1168.58,33.84 L1168.95,33.84 L1169.32,33.84 L1169.69,33.84 L1170.05,33.84 L1170.42,33.84 L1170.79,33.84 L1171.15,33.84 L1171.52,33.84 L1171.89,33.84 L1172.25,33.84 L1172.62,33.84 L1172.99,33.84 L1173.36,33.84 L1173.72,33.84 L1174.09,33.84 L1174.46,33.84 L1174.82,33.84 L1175.19,33.84 L1175.56,33.84 L1175.93,33.84 L1176.29,33.84 L1176.66,33.84 L1177.03,33.84 L1177.39,33.84 L1177.76,33.84 L1178.13,33.84 L1178.49,33.84 L1178.86,33.84 L1179.23,33.84 L1179.6,33.83 L1179.96,33.83 L1180.33,33.83 L1180.7,33.83 L1181.06,33.83 L1181.43,33.83 L1181.8,33.83 L1182.17,33.83 L1182.53,33.83 L1182.9,33.83 L1183.27,33.83 L1183.63,33.83 L1184,33.83 L1184.37,33.83 L1184.73,33.83 L1185.1,33.83 L1185.47,33.83 L1185.84,33.83 L1186.2,33.83 L1186.57,33.83 L1186.94,33.83 L1187.3,33.83 L1187.67,33.83 L1188.04,33.83 L1188.4,33.83 L1188.77,33.83 L1189.14,33.83 L1189.51,33.83 L1189.87,33.83 L1190.24,33.83 L1190.61,33.83 L1190.97,33.83 L1191.34,33.82 L1191.71,33.82 L1192.08,33.82 L1192.44,33.82 L1192.81,33.82 L1193.18,33.82 L1193.54,33.82 L1193.91,33.82 L1194.28,33.82 L1194.64,33.82 L1195.01,33.82 L1195.38,33.82 L1195.75,33.82 L1196.11,33.82 L1196.48,33.82 L1196.85,33.82 L1197.21,33.82 L1197.58,33.82 L1197.95,33.82 L1198.32,33.82 L1198.68,33.82 L1199.05,33.82 L1199.42,33.82 L1199.78,33.82 L1200.15,33.82 L1200.52,33.82 L1200.88,33.82 L1201.25,33.82 L1201.62,33.81 L1201.99,33.81 L1202.35,33.81 L1202.72,33.81 L1203.09,33.81 L1203.45,33.81 L1203.82,33.81 L1204.19,33.81 L1204.55,33.81 L1204.92,33.81 L1205.29,33.81 L1205.66,33.81 L1206.02,33.81 L1206.39,33.81 L1206.76,33.81 L1207.12,33.81 L1207.49,33.81 L1207.86,33.81 L1208.23,33.81 L1208.59,33.81 L1208.96,33.81 L1209.33,33.81 L1209.69,33.81 L1210.06,33.81 L1210.43,33.81 L1210.79,33.81 L1211.16,33.81 L1211.53,33.8 L1211.9,33.8 L1212.26,33.8 L1212.63,33.8 L1213,33.8 L1213.36,33.8 L1213.73,33.8 L1214.1,33.8 L1214.47,33.8 L1214.83,33.8 L1215.2,33.8 L1215.57,33.8 L1215.93,33.8 L1216.3,33.8 L1216.67,33.8 L1217.03,33.8 L1217.4,33.8 L1217.77,33.8 L1218.14,33.8 L1218.5,33.8 L1218.87,33.8 L1219.24,33.8 L1219.6,33.8 L1219.97,33.8 L1220.34,33.8 L1220.7,33.79 L1221.07,33.79 L1221.44,33.79 L1221.81,33.79 L1222.17,33.79 L1222.54,33.79 L1222.91,33.79 L1223.27,33.79 L1223.64,33.79 L1224.01,33.79 L1224.38,33.79 L1224.74,33.79 L1225.11,33.79 L1225.48,33.79 L1225.84,33.79 L1226.21,33.79 L1226.58,33.79 L1226.94,33.79 L1227.31,33.79 L1227.68,33.79 L1228.05,33.79 L1228.41,33.79 L1228.78,33.79 L1229.15,33.78 L1229.51,33.78 L1229.88,33.78 L1230.25,33.78 L1230.62,33.78 L1230.98,33.78 L1231.35,33.78 L1231.72,33.78 L1232.08,33.78 L1232.45,33.78 L1232.82,33.78 L1233.18,33.78 L1233.55,33.78 L1233.92,33.78 L1234.29,33.78 L1234.65,33.78 L1235.02,33.78 L1235.39,33.78 L1235.75,33.78 L1236.12,33.78 L1236.49,33.78 L1236.85,33.77 L1237.22,33.77 L1237.59,33.77 L1237.96,33.77 L1238.32,33.77 L1238.69,33.77 L1239.06,33.77 L1239.42,33.77 L1239.79,33.77 L1240.16,33.77 L1240.53,33.77 L1240.89,33.77 L1241.26,33.77 L1241.63,33.77 L1241.99,33.77 L1242.36,33.77 L1242.73,33.77 L1243.09,33.77 L1243.46,33.77 L1243.83,33.77 L1244.2,33.77 L1244.56,33.76 L1244.93,33.76 L1245.3,33.76 L1245.66,33.76 L1246.03,33.76 L1246.4,33.76 L1246.77,33.76 L1247.13,33.76 L1247.5,33.76 L1247.87,33.76 L1248.23,33.76 L1248.6,33.76 L1248.97,33.76 L1249.33,33.76 L1249.7,33.76 L1250.07,33.76 L1250.44,33.76 L1250.8,33.76 L1251.17,33.76 L1251.54,33.75 L1251.9,33.75 L1252.27,33.75 L1252.64,33.75 L1253,33.75 L1253.37,33.75 L1253.74,33.75 L1254.11,33.75 L1254.47,33.75 L1254.84,33.75 L1255.21,33.75 L1255.57,33.75 L1255.94,33.75 L1256.31,33.75 L1256.68,33.75 L1257.04,33.75 L1257.41,33.75 L1257.78,33.75 L1258.14,33.75 L1258.51,33.74 L1258.88,33.74 L1259.24,33.74 L1259.61,33.74 L1259.98,33.74 L1260.35,33.74 L1260.71,33.74 L1261.08,33.74 L1261.45,33.74 L1261.81,33.74 L1262.18,33.74 L1262.55,33.74 L1262.92,33.74 L1263.28,33.74 L1263.65,33.74 L1264.02,33.74 L1264.38,33.74 L1264.75,33.74 L1265.12,33.73 L1265.48,33.73 L1265.85,33.73 L1266.22,33.73 L1266.59,33.73 L1266.95,33.73 L1267.32,33.73 L1267.69,33.73 L1268.05,33.73 L1268.42,33.73 L1268.79,33.73 L1269.15,33.73 L1269.52,33.73 L1269.89,33.73 L1270.26,33.73 L1270.62,33.73 L1270.99,33.73 L1271.36,33.73 L1271.72,33.72 L1272.09,33.72 L1272.46,33.72 L1272.83,33.72 L1273.19,33.72 L1273.56,33.72 L1273.93,33.72 L1274.29,33.72 L1274.66,33.72 L1275.03,33.72 L1275.39,33.72 L1275.76,33.72 L1276.13,33.72 L1276.5,33.72 L1276.86,33.72 L1277.23,33.72 L1277.6,33.71 L1277.96,33.71 L1278.33,33.71 L1278.7,33.71 L1279.06,33.71 L1279.43,33.71 L1279.8,33.71 L1280.17,33.71 L1280.53,33.71 L1280.9,33.71 L1281.27,33.71 L1281.63,33.71 L1282,33.71 L1282.37,33.71 L1282.74,33.71 L1283.1,33.71 L1283.47,33.7 L1283.84,33.7 L1284.2,33.7 L1284.57,33.7 L1284.94,33.7 L1285.3,33.7 L1285.67,33.7 L1286.04,33.7 L1286.41,33.7 L1286.77,33.7 L1287.14,33.7 L1287.51,33.7 L1287.87,33.7 L1288.24,33.7 L1288.61,33.7 L1288.98,33.7 L1289.34,33.69 L1289.71,33.69 L1290.08,33.69 L1290.44,33.69 L1290.81,33.69 L1291.18,33.69 L1291.54,33.69 L1291.91,33.69 L1292.28,33.69 L1292.65,33.69 L1293.01,33.69 L1293.38,33.69 L1293.75,33.69 L1294.11,33.69 L1294.48,33.69 L1294.85,33.68 L1295.21,33.68 L1295.58,33.68 L1295.95,33.68 L1296.32,33.68 L1296.68,33.68 L1297.05,33.68 L1297.42,33.68 L1297.78,33.68 L1298.15,33.68 L1298.52,33.68 L1298.89,33.68 L1299.25,33.68 L1299.62,33.68 L1299.99,33.68 L1300.35,33.67 L1300.72,33.67 L1301.09,33.67 L1301.45,33.67 L1301.82,33.67 L1302.19,33.67 L1302.56,33.67 L1302.92,33.67 L1303.29,33.67 L1303.66,33.67 L1304.02,33.67 L1304.39,33.67 L1304.76,33.67 L1305.13,33.67 L1305.49,33.66 L1305.86,33.66 L1306.23,33.66 L1306.59,33.66 L1306.96,33.66 L1307.33,33.66 L1307.69,33.66 L1308.06,33.66 L1308.43,33.66 L1308.8,33.66 L1309.16,33.66 L1309.53,33.66 L1309.9,33.66 L1310.26,33.66 L1310.63,33.65 L1311,33.65 L1311.36,33.65 L1311.73,33.65 L1312.1,33.65 L1312.47,33.65 L1312.83,33.65 L1313.2,33.65 L1313.57,33.65 L1313.93,33.65 L1314.3,33.65 L1314.67,33.65 L1315.04,33.65 L1315.4,33.65 L1315.77,33.64 L1316.14,33.64 L1316.5,33.64 L1316.87,33.64 L1317.24,33.64 L1317.6,33.64 L1317.97,33.64 L1318.34,33.64 L1318.71,33.64 L1319.07,33.64 L1319.44,33.64 L1319.81,33.64 L1320.17,33.64 L1320.54,33.63 L1320.91,33.63 L1321.28,33.63 L1321.64,33.63 L1322.01,33.63 L1322.38,33.63 L1322.74,33.63 L1323.11,33.63 L1323.48,33.63 L1323.84,33.63 L1324.21,33.63 L1324.58,33.63 L1324.95,33.63 L1325.31,33.62 L1325.68,33.62 L1326.05,33.62 L1326.41,33.62 L1326.78,33.62 L1327.15,33.62 L1327.51,33.62 L1327.88,33.62 L1328.25,33.62 L1328.62,33.62 L1328.98,33.62 L1329.35,33.62 L1329.72,33.61 L1330.08,33.61 L1330.45,33.61 L1330.82,33.61 L1331.19,33.61 L1331.55,33.61 L1331.92,33.61 L1332.29,33.61 L1332.65,33.61 L1333.02,33.61 L1333.39,33.61 L1333.75,33.61 L1334.12,33.61 L1334.49,33.6 L1334.86,33.6 L1335.22,33.6 L1335.59,33.6 L1335.96,33.6 L1336.32,33.6 L1336.69,33.6 L1337.06,33.6 L1337.43,33.6 L1337.79,33.6 L1338.16,33.6 L1338.53,33.6 L1338.89,33.59 L1339.26,33.59 L1339.63,33.59 L1339.99,33.59 L1340.36,33.59 L1340.73,33.59 L1341.1,33.59 L1341.46,33.59 L1341.83,33.59 L1342.2,33.59 L1342.56,33.59 L1342.93,33.59 L1343.3,33.58 L1343.66,33.58 L1344.03,33.58 L1344.4,33.58 L1344.77,33.58 L1345.13,33.58 L1345.5,33.58 L1345.87,33.58 L1346.23,33.58 L1346.6,33.58 L1346.97,33.58 L1347.34,33.57 L1347.7,33.57 L1348.07,33.57 L1348.44,33.57 L1348.8,33.57 L1349.17,33.57 L1349.54,33.57 L1349.9,33.57 L1350.27,33.57 L1350.64,33.57 L1351.01,33.57 L1351.37,33.57 L1351.74,33.56 L1352.11,33.56 L1352.47,33.56 L1352.84,33.56 L1353.21,33.56 L1353.58,33.56 L1353.94,33.56 L1354.31,33.56 L1354.68,33.56 L1355.04,33.56 L1355.41,33.56 L1355.78,33.55 L1356.14,33.55 L1356.51,33.55 L1356.88,33.55 L1357.25,33.55 L1357.61,33.55 L1357.98,33.55 L1358.35,33.55 L1358.71,33.55 L1359.08,33.55 L1359.45,33.55 L1359.81,33.54 L1360.18,33.54 L1360.55,33.54 L1360.92,33.54 L1361.28,33.54 L1361.65,33.54 L1362.02,33.54 L1362.38,33.54 L1362.75,33.54 L1363.12,33.54 L1363.49,33.54 L1363.85,33.53 L1364.22,33.53 L1364.59,33.53 L1364.95,33.53 L1365.32,33.53 L1365.69,33.53 L1366.05,33.53 L1366.42,33.53 L1366.79,33.53 L1367.16,33.53 L1367.52,33.52 L1367.89,33.52 L1368.26,33.52 L1368.62,33.52 L1368.99,33.52 L1369.36,33.52 L1369.73,33.52 L1370.09,33.52 L1370.46,33.52 L1370.83,33.52 L1371.19,33.52 L1371.56,33.51 L1371.93,33.51 L1372.29,33.51 L1372.66,33.51 L1373.03,33.51 L1373.4,33.51 L1373.76,33.51 L1374.13,33.51 L1374.5,33.51 L1374.86,33.51 L1375.23,33.5 L1375.6,33.5 L1375.96,33.5 L1376.33,33.5 L1376.7,33.5 L1377.07,33.5 L1377.43,33.5 L1377.8,33.5" fill="none" stroke="#0b2a8f" stroke-width="2.3" stroke-linejoin="round" stroke-linecap="butt"/>
<path d="M827.6,625.81 L827.97,625.81 L828.33,625.82 L828.7,625.82 L829.07,625.83 L829.44,625.84 L829.8,625.84 L830.17,625.85 L830.54,625.86 L830.9,625.86 L831.27,625.87 L831.64,625.87 L832,625.88 L832.37,625.89 L832.74,625.89 L833.11,625.9 L833.47,625.9 L833.84,625.91 L834.21,625.92 L834.57,625.92 L834.94,625.93 L835.31,625.93 L835.67,625.94 L836.04,625.94 L836.41,625.95 L836.78,625.96 L837.14,625.96 L837.51,625.97 L837.88,625.97 L838.24,625.98 L838.61,625.98 L838.98,625.99 L839.35,625.99 L839.71,626 L840.08,626 L840.45,626 L840.81,626 L841.18,626 L841.55,626 L841.91,626 L842.28,626 L842.65,626 L843.02,626 L843.38,626 L843.75,626 L844.12,626 L844.48,626 L844.85,626 L845.22,626 L845.58,626 L845.95,626 L846.32,626 L846.69,626 L847.05,626 L847.42,626 L847.79,626 L848.15,626 L848.52,626 L848.89,626 L849.25,626 L849.62,626 L849.99,626 L850.35,626 L850.72,626 L851.09,626 L851.45,626 L851.82,626 L852.19,626 L852.55,626 L852.92,626 L853.29,626 L853.66,626 L854.02,626 L854.39,626 L854.76,625.99 L855.12,625.98 L855.49,625.96 L855.86,625.94 L856.22,625.92 L856.59,625.89 L856.96,625.87 L857.32,625.84 L857.69,625.81 L858.06,625.78 L858.43,625.74 L858.79,625.7 L859.16,625.66 L859.53,625.62 L859.89,625.57 L860.26,625.52 L860.63,625.47 L861,625.41 L861.36,625.35 L861.73,625.28 L862.1,625.21 L862.47,625.14 L862.83,625.06 L863.2,624.98 L863.57,624.89 L863.94,624.8 L864.31,624.7 L864.67,624.6 L865.04,624.49 L865.41,624.37 L865.78,624.25 L866.15,624.13 L866.52,624 L866.89,623.86 L867.25,623.71 L867.62,623.56 L867.99,623.4 L868.36,623.24 L868.73,623.06 L869.1,622.88 L869.47,622.69 L869.84,622.49 L870.21,622.29 L870.58,622.08 L870.95,621.85 L871.32,621.62 L871.69,621.38 L872.06,621.14 L872.43,620.88 L872.8,620.61 L873.17,620.33 L873.54,620.05 L873.91,619.75 L874.28,619.44 L874.66,619.13 L875.03,618.8 L875.4,618.46 L875.77,618.11 L876.14,617.75 L876.51,617.38 L876.88,617 L877.25,616.6 L877.63,616.2 L878,615.78 L878.37,615.35 L878.74,614.91 L879.11,614.46 L879.48,614 L879.86,613.52 L880.23,613.04 L880.6,612.53 L880.97,612.02 L881.34,611.5 L881.71,610.96 L882.09,610.41 L882.46,609.84 L882.83,609.27 L883.2,608.68 L883.57,608.08 L883.95,607.46 L884.32,606.84 L884.69,606.2 L885.06,605.54 L885.43,604.88 L885.8,604.2 L886.18,603.51 L886.55,602.8 L886.92,602.09 L887.29,601.35 L887.66,600.61 L888.03,599.86 L888.41,599.09 L888.78,598.3 L889.15,597.51 L889.52,596.7 L889.89,595.88 L890.26,595.05 L890.63,594.21 L891,593.35 L891.38,592.48 L891.75,591.6 L892.12,590.71 L892.49,589.8 L892.86,588.88 L893.23,587.95 L893.6,587.01 L893.97,586.06 L894.34,585.1 L894.71,584.12 L895.08,583.14 L895.45,582.14 L895.82,581.14 L896.19,580.12 L896.56,579.09 L896.93,578.05 L897.3,577 L897.67,575.94 L898.04,574.88 L898.41,573.8 L898.78,572.71 L899.15,571.61 L899.52,570.51 L899.89,569.39 L900.26,568.27 L900.63,567.14 L901,566 L901.36,564.85 L901.73,563.7 L902.1,562.54 L902.47,561.37 L902.84,560.19 L903.21,559.01 L903.57,557.82 L903.94,556.62 L904.31,555.42 L904.68,554.21 L905.05,552.99 L905.41,551.77 L905.78,550.55 L906.15,549.31 L906.52,548.08 L906.88,546.84 L907.25,545.59 L907.62,544.35 L907.98,543.09 L908.35,541.84 L908.72,540.58 L909.08,539.31 L909.45,538.05 L909.82,536.78 L910.18,535.51 L910.55,534.24 L910.92,532.96 L911.28,531.68 L911.65,530.4 L912.02,529.12 L912.38,527.84 L912.75,526.56 L913.11,525.28 L913.48,524 L913.85,522.71 L914.21,521.43 L914.58,520.15 L914.94,518.86 L915.31,517.58 L915.68,516.3 L916.04,515.02 L916.41,513.74 L916.77,512.46 L917.14,511.19 L917.5,509.92 L917.87,508.64 L918.24,507.37 L918.6,506.11 L918.97,504.84 L919.33,503.58 L919.7,502.32 L920.06,501.07 L920.43,499.82 L920.79,498.57 L921.16,497.33 L921.52,496.09 L921.89,494.85 L922.25,493.62 L922.62,492.39 L922.98,491.17 L923.35,489.95 L923.71,488.74 L924.08,487.53 L924.44,486.32 L924.81,485.13 L925.17,483.93 L925.54,482.75 L925.9,481.57 L926.27,480.39 L926.63,479.22 L927,478.06 L927.36,476.9 L927.73,475.75 L928.09,474.61 L928.46,473.47 L928.82,472.34 L929.19,471.21 L929.55,470.1 L929.92,468.98 L930.28,467.88 L930.65,466.79 L931.01,465.7 L931.38,464.61 L931.74,463.54 L932.11,462.47 L932.47,461.41 L932.84,460.36 L933.2,459.32 L933.57,458.28 L933.93,457.25 L934.29,456.23 L934.66,455.22 L935.02,454.21 L935.39,453.22 L935.75,452.23 L936.12,451.25 L936.48,450.27 L936.85,449.31 L937.21,448.35 L937.58,447.4 L937.94,446.46 L938.31,445.53 L938.67,444.61 L939.04,443.7 L939.4,442.79 L939.77,441.89 L940.13,441 L940.5,440.12 L940.86,439.25 L941.23,438.38 L941.59,437.53 L941.95,436.68 L942.32,435.84 L942.68,435.01 L943.05,434.18 L943.41,433.37 L943.78,432.56 L944.14,431.77 L944.51,430.98 L944.87,430.2 L945.24,429.43 L945.6,428.66 L945.97,427.91 L946.33,427.16 L946.7,426.42 L947.06,425.69 L947.43,424.97 L947.79,424.25 L948.16,423.55 L948.52,422.85 L948.89,422.16 L949.25,421.48 L949.62,420.8 L949.98,420.14 L950.35,419.48 L950.71,418.83 L951.08,418.18 L951.44,417.55 L951.81,416.92 L952.17,416.3 L952.54,415.69 L952.9,415.09 L953.27,414.49 L953.63,413.91 L954,413.32 L954.36,412.75 L954.73,412.18 L955.09,411.63 L955.46,411.07 L955.82,410.53 L956.19,409.99 L956.55,409.46 L956.92,408.94 L957.28,408.43 L957.65,407.92 L958.02,407.41 L958.38,406.92 L958.75,406.43 L959.11,405.95 L959.48,405.48 L959.84,405.01 L960.21,404.55 L960.57,404.09 L960.94,403.64 L961.3,403.2 L961.67,402.76 L962.03,402.33 L962.4,401.91 L962.76,401.49 L963.13,401.08 L963.5,400.68 L963.86,400.28 L964.23,399.89 L964.59,399.5 L964.96,399.12 L965.32,398.74 L965.69,398.37 L966.05,398.01 L966.42,397.65 L966.78,397.29 L967.15,396.95 L967.52,396.6 L967.88,396.27 L968.25,395.93 L968.61,395.61 L968.98,395.29 L969.34,394.97 L969.71,394.66 L970.07,394.35 L970.44,394.05 L970.81,393.75 L971.17,393.46 L971.54,393.17 L971.9,392.89 L972.27,392.61 L972.64,392.34 L973,392.07 L973.37,391.8 L973.73,391.54 L974.1,391.28 L974.46,391.03 L974.83,390.78 L975.2,390.54 L975.56,390.3 L975.93,390.06 L976.29,389.83 L976.66,389.6 L977.03,389.38 L977.39,389.16 L977.76,388.94 L978.12,388.73 L978.49,388.52 L978.86,388.32 L979.22,388.12 L979.59,387.92 L979.95,387.72 L980.32,387.53 L980.69,387.34 L981.05,387.16 L981.42,386.98 L981.79,386.8 L982.15,386.62 L982.52,386.45 L982.88,386.28 L983.25,386.12 L983.62,385.95 L983.98,385.79 L984.35,385.63 L984.72,385.48 L985.08,385.33 L985.45,385.18 L985.81,385.03 L986.18,384.89 L986.55,384.75 L986.91,384.61 L987.28,384.48 L987.65,384.34 L988.01,384.21 L988.38,384.08 L988.75,383.96 L989.11,383.83 L989.48,383.71 L989.85,383.59 L990.21,383.48 L990.58,383.36 L990.95,383.25 L991.31,383.14 L991.68,383.03 L992.04,382.92 L992.41,382.82 L992.78,382.72 L993.14,382.62 L993.51,382.52 L993.88,382.42 L994.24,382.33 L994.61,382.24 L994.98,382.15 L995.34,382.06 L995.71,381.97 L996.08,381.88 L996.45,381.8 L996.81,381.72 L997.18,381.64 L997.55,381.56 L997.91,381.48 L998.28,381.4 L998.65,381.33 L999.01,381.26 L999.38,381.18 L999.75,381.11 L1000.11,381.05 L1000.48,380.98 L1000.85,380.91 L1001.21,380.85 L1001.58,380.78 L1001.95,380.72 L1002.31,380.66 L1002.68,380.6 L1003.05,380.54 L1003.41,380.48 L1003.78,380.43 L1004.15,380.37 L1004.52,380.32 L1004.88,380.27 L1005.25,380.21 L1005.62,380.16 L1005.98,380.11 L1006.35,380.07 L1006.72,380.02 L1007.08,379.97 L1007.45,379.93 L1007.82,379.88 L1008.18,379.84 L1008.55,379.79 L1008.92,379.75 L1009.29,379.71 L1009.65,379.67 L1010.02,379.63 L1010.39,379.59 L1010.75,379.56 L1011.12,379.52 L1011.49,379.48 L1011.85,379.45 L1012.22,379.41 L1012.59,379.38 L1012.96,379.34 L1013.32,379.31 L1013.69,379.28 L1014.06,379.25 L1014.42,379.22 L1014.79,379.19 L1015.16,379.16 L1015.52,379.13 L1015.89,379.1 L1016.26,379.07 L1016.63,379.05 L1016.99,379.02 L1017.36,379 L1017.73,378.97 L1018.09,378.95 L1018.46,378.92 L1018.83,378.9 L1019.2,378.88 L1019.56,378.85 L1019.93,378.83 L1020.3,378.81 L1020.66,378.79 L1021.03,378.77 L1021.4,378.75 L1021.76,378.73 L1022.13,378.71 L1022.5,378.69 L1022.87,378.67 L1023.23,378.65 L1023.6,378.63 L1023.97,378.62 L1024.33,378.6 L1024.7,378.58 L1025.07,378.57 L1025.43,378.55 L1025.8,378.53 L1026.17,378.52 L1026.54,378.5 L1026.9,378.49 L1027.27,378.48 L1027.64,378.46 L1028,378.45 L1028.37,378.43 L1028.74,378.42 L1029.11,378.41 L1029.47,378.4 L1029.84,378.38 L1030.21,378.37 L1030.57,378.36 L1030.94,378.35 L1031.31,378.34 L1031.68,378.33 L1032.04,378.32 L1032.41,378.3 L1032.78,378.29 L1033.14,378.28 L1033.51,378.27 L1033.88,378.26 L1034.24,378.26 L1034.61,378.25 L1034.98,378.24 L1035.35,378.23 L1035.71,378.22 L1036.08,378.21 L1036.45,378.2 L1036.81,378.19 L1037.18,378.19 L1037.55,378.18 L1037.92,378.17 L1038.28,378.16 L1038.65,378.16 L1039.02,378.15 L1039.38,378.14 L1039.75,378.14 L1040.12,378.13 L1040.48,378.12 L1040.85,378.12 L1041.22,378.11 L1041.59,378.1 L1041.95,378.1 L1042.32,378.09 L1042.69,378.09 L1043.05,378.08 L1043.42,378.07 L1043.79,378.07 L1044.16,378.06 L1044.52,378.06 L1044.89,378.05 L1045.26,378.05 L1045.62,378.04 L1045.99,378.04 L1046.36,378.03 L1046.72,378.03 L1047.09,378.03 L1047.46,378.02 L1047.83,378.02 L1048.19,378.01 L1048.56,378.01 L1048.93,378 L1049.29,378 L1049.66,378 L1050.03,377.99 L1050.4,377.99 L1050.76,377.98 L1051.13,377.98 L1051.5,377.98 L1051.86,377.97 L1052.23,377.97 L1052.6,377.97 L1052.96,377.96 L1053.33,377.96 L1053.7,377.96 L1054.07,377.95 L1054.43,377.95 L1054.8,377.95 L1055.17,377.95 L1055.53,377.94 L1055.9,377.94 L1056.27,377.94 L1056.64,377.93 L1057,377.93 L1057.37,377.93 L1057.74,377.93 L1058.1,377.92 L1058.47,377.92 L1058.84,377.92 L1059.2,377.92 L1059.57,377.91 L1059.94,377.91 L1060.31,377.91 L1060.67,377.91 L1061.04,377.91 L1061.41,377.9 L1061.77,377.9 L1062.14,377.9 L1062.51,377.9 L1062.88,377.9 L1063.24,377.89 L1063.61,377.89 L1063.98,377.89 L1064.34,377.89 L1064.71,377.89 L1065.08,377.88 L1065.44,377.88 L1065.81,377.88 L1066.18,377.88 L1066.55,377.88 L1066.91,377.88 L1067.28,377.87 L1067.65,377.87 L1068.01,377.87 L1068.38,377.87 L1068.75,377.87 L1069.12,377.87 L1069.48,377.86 L1069.85,377.86 L1070.22,377.86 L1070.58,377.86 L1070.95,377.86 L1071.32,377.86 L1071.68,377.86 L1072.05,377.85 L1072.42,377.85 L1072.79,377.85 L1073.15,377.85 L1073.52,377.85 L1073.89,377.85 L1074.25,377.85 L1074.62,377.85 L1074.99,377.84 L1075.35,377.84 L1075.72,377.84 L1076.09,377.84 L1076.46,377.84 L1076.82,377.84 L1077.19,377.84 L1077.56,377.84 L1077.92,377.84 L1078.29,377.83 L1078.66,377.83 L1079.03,377.83 L1079.39,377.83 L1079.76,377.83 L1080.13,377.83 L1080.49,377.83 L1080.86,377.83 L1081.23,377.83 L1081.59,377.82 L1081.96,377.82 L1082.33,377.82 L1082.7,377.82 L1083.06,377.82 L1083.43,377.82 L1083.8,377.82 L1084.16,377.82 L1084.53,377.82 L1084.9,377.82 L1085.27,377.82 L1085.63,377.81 L1086,377.81 L1086.37,377.81 L1086.73,377.81 L1087.1,377.81 L1087.47,377.81 L1087.83,377.81 L1088.2,377.81 L1088.57,377.81 L1088.94,377.81 L1089.3,377.81 L1089.67,377.8 L1090.04,377.8 L1090.4,377.8 L1090.77,377.8 L1091.14,377.8 L1091.51,377.8 L1091.87,377.8 L1092.24,377.8 L1092.61,377.8 L1092.97,377.8 L1093.34,377.8 L1093.71,377.8 L1094.07,377.8 L1094.44,377.79 L1094.81,377.79 L1095.18,377.79 L1095.54,377.79 L1095.91,377.79 L1096.28,377.79 L1096.64,377.79 L1097.01,377.79 L1097.38,377.79 L1097.74,377.79 L1098.11,377.79 L1098.48,377.79 L1098.85,377.79 L1099.21,377.79 L1099.58,377.79 L1099.95,377.78 L1100.31,377.78 L1100.68,377.78 L1101.05,377.78 L1101.42,377.78 L1101.78,377.78 L1102.15,377.78 L1102.52,377.78 L1102.88,377.78 L1103.25,377.78 L1103.62,377.78 L1103.98,377.78 L1104.35,377.78 L1104.72,377.78 L1105.09,377.78 L1105.45,377.78 L1105.82,377.77 L1106.19,377.77 L1106.55,377.77 L1106.92,377.77 L1107.29,377.77 L1107.66,377.77 L1108.02,377.77 L1108.39,377.77 L1108.76,377.77 L1109.12,377.77 L1109.49,377.77 L1109.86,377.77 L1110.22,377.77 L1110.59,377.77 L1110.96,377.77 L1111.33,377.77 L1111.69,377.77 L1112.06,377.76 L1112.43,377.76 L1112.79,377.76 L1113.16,377.76 L1113.53,377.76 L1113.89,377.76 L1114.26,377.76 L1114.63,377.76 L1115,377.76 L1115.36,377.76 L1115.73,377.76 L1116.1,377.76 L1116.46,377.76 L1116.83,377.76 L1117.2,377.76 L1117.57,377.76 L1117.93,377.76 L1118.3,377.76 L1118.67,377.76 L1119.03,377.76 L1119.4,377.75 L1119.77,377.75 L1120.13,377.75 L1120.5,377.75 L1120.87,377.75 L1121.24,377.75 L1121.6,377.75 L1121.97,377.75 L1122.34,377.75 L1122.7,377.75 L1123.07,377.75 L1123.44,377.75 L1123.81,377.75 L1124.17,377.75 L1124.54,377.75 L1124.91,377.75 L1125.27,377.75 L1125.64,377.75 L1126.01,377.75 L1126.37,377.75 L1126.74,377.75 L1127.11,377.75 L1127.48,377.75 L1127.84,377.75 L1128.21,377.74 L1128.58,377.74 L1128.94,377.74 L1129.31,377.74 L1129.68,377.74 L1130.04,377.74 L1130.41,377.74 L1130.78,377.74 L1131.15,377.74 L1131.51,377.74 L1131.88,377.74 L1132.25,377.74 L1132.61,377.74 L1132.98,377.74 L1133.35,377.74 L1133.72,377.74 L1134.08,377.74 L1134.45,377.74 L1134.82,377.74 L1135.18,377.74 L1135.55,377.74 L1135.92,377.74 L1136.28,377.74 L1136.65,377.74 L1137.02,377.74 L1137.39,377.74 L1137.75,377.74 L1138.12,377.74 L1138.49,377.73 L1138.85,377.73 L1139.22,377.73 L1139.59,377.73 L1139.96,377.73 L1140.32,377.73 L1140.69,377.73 L1141.06,377.73 L1141.42,377.73 L1141.79,377.73 L1142.16,377.73 L1142.52,377.73 L1142.89,377.73 L1143.26,377.73 L1143.63,377.73 L1143.99,377.73 L1144.36,377.73 L1144.73,377.73 L1145.09,377.73 L1145.46,377.73 L1145.83,377.73 L1146.19,377.73 L1146.56,377.73 L1146.93,377.73 L1147.3,377.73 L1147.66,377.73 L1148.03,377.73 L1148.4,377.73 L1148.76,377.73 L1149.13,377.73 L1149.5,377.73 L1149.87,377.73 L1150.23,377.73 L1150.6,377.73 L1150.97,377.73 L1151.33,377.73 L1151.7,377.73 L1152.07,377.73 L1152.43,377.73 L1152.8,377.73 L1153.17,377.73 L1153.54,377.72 L1153.9,377.72 L1154.27,377.72 L1154.64,377.72 L1155,377.72 L1155.37,377.72 L1155.74,377.72 L1156.11,377.72 L1156.47,377.72 L1156.84,377.72 L1157.21,377.72 L1157.57,377.72 L1157.94,377.72 L1158.31,377.72 L1158.67,377.72 L1159.04,377.72 L1159.41,377.72 L1159.78,377.72 L1160.14,377.72 L1160.51,377.72 L1160.88,377.72 L1161.24,377.72 L1161.61,377.72 L1161.98,377.72 L1162.34,377.72 L1162.71,377.72 L1163.08,377.72 L1163.45,377.72 L1163.81,377.72 L1164.18,377.72 L1164.55,377.72 L1164.91,377.72 L1165.28,377.72 L1165.65,377.72 L1166.02,377.72 L1166.38,377.72 L1166.75,377.72 L1167.12,377.72 L1167.48,377.72 L1167.85,377.72 L1168.22,377.72 L1168.58,377.72 L1168.95,377.72 L1169.32,377.72 L1169.69,377.72 L1170.05,377.72 L1170.42,377.72 L1170.79,377.72 L1171.15,377.72 L1171.52,377.72 L1171.89,377.72 L1172.25,377.72 L1172.62,377.72 L1172.99,377.72 L1173.36,377.72 L1173.72,377.72 L1174.09,377.72 L1174.46,377.72 L1174.82,377.72 L1175.19,377.72 L1175.56,377.72 L1175.93,377.72 L1176.29,377.72 L1176.66,377.72 L1177.03,377.72 L1177.39,377.72 L1177.76,377.72 L1178.13,377.72 L1178.49,377.72 L1178.86,377.72 L1179.23,377.72 L1179.6,377.72 L1179.96,377.72 L1180.33,377.72 L1180.7,377.72 L1181.06,377.72 L1181.43,377.72 L1181.8,377.72 L1182.17,377.72 L1182.53,377.72 L1182.9,377.72 L1183.27,377.72 L1183.63,377.72 L1184,377.72 L1184.37,377.72 L1184.73,377.72 L1185.1,377.72 L1185.47,377.72 L1185.84,377.72 L1186.2,377.72 L1186.57,377.72 L1186.94,377.72 L1187.3,377.72 L1187.67,377.72 L1188.04,377.72 L1188.4,377.72 L1188.77,377.72 L1189.14,377.72 L1189.51,377.72 L1189.87,377.73 L1190.24,377.73 L1190.61,377.73 L1190.97,377.73 L1191.34,377.73 L1191.71,377.73 L1192.08,377.73 L1192.44,377.73 L1192.81,377.73 L1193.18,377.73 L1193.54,377.73 L1193.91,377.73 L1194.28,377.73 L1194.64,377.73 L1195.01,377.73 L1195.38,377.73 L1195.75,377.73 L1196.11,377.73 L1196.48,377.73 L1196.85,377.73 L1197.21,377.73 L1197.58,377.73 L1197.95,377.73 L1198.32,377.73 L1198.68,377.73 L1199.05,377.73 L1199.42,377.73 L1199.78,377.73 L1200.15,377.73 L1200.52,377.73 L1200.88,377.73 L1201.25,377.73 L1201.62,377.73 L1201.99,377.73 L1202.35,377.73 L1202.72,377.73 L1203.09,377.73 L1203.45,377.73 L1203.82,377.74 L1204.19,377.74 L1204.55,377.74 L1204.92,377.74 L1205.29,377.74 L1205.66,377.74 L1206.02,377.74 L1206.39,377.74 L1206.76,377.74 L1207.12,377.74 L1207.49,377.74 L1207.86,377.74 L1208.23,377.74 L1208.59,377.74 L1208.96,377.74 L1209.33,377.74 L1209.69,377.74 L1210.06,377.74 L1210.43,377.74 L1210.79,377.74 L1211.16,377.74 L1211.53,377.74 L1211.9,377.74 L1212.26,377.74 L1212.63,377.74 L1213,377.75 L1213.36,377.75 L1213.73,377.75 L1214.1,377.75 L1214.47,377.75 L1214.83,377.75 L1215.2,377.75 L1215.57,377.75 L1215.93,377.75 L1216.3,377.75 L1216.67,377.75 L1217.03,377.75 L1217.4,377.75 L1217.77,377.75 L1218.14,377.75 L1218.5,377.75 L1218.87,377.75 L1219.24,377.75 L1219.6,377.75 L1219.97,377.75 L1220.34,377.76 L1220.7,377.76 L1221.07,377.76 L1221.44,377.76 L1221.81,377.76 L1222.17,377.76 L1222.54,377.76 L1222.91,377.76 L1223.27,377.76 L1223.64,377.76 L1224.01,377.76 L1224.38,377.76 L1224.74,377.76 L1225.11,377.76 L1225.48,377.76 L1225.84,377.76 L1226.21,377.76 L1226.58,377.76 L1226.94,377.77 L1227.31,377.77 L1227.68,377.77 L1228.05,377.77 L1228.41,377.77 L1228.78,377.77 L1229.15,377.77 L1229.51,377.77 L1229.88,377.77 L1230.25,377.77 L1230.62,377.77 L1230.98,377.77 L1231.35,377.77 L1231.72,377.77 L1232.08,377.77 L1232.45,377.78 L1232.82,377.78 L1233.18,377.78 L1233.55,377.78 L1233.92,377.78 L1234.29,377.78 L1234.65,377.78 L1235.02,377.78 L1235.39,377.78 L1235.75,377.78 L1236.12,377.78 L1236.49,377.78 L1236.85,377.78 L1237.22,377.78 L1237.59,377.79 L1237.96,377.79 L1238.32,377.79 L1238.69,377.79 L1239.06,377.79 L1239.42,377.79 L1239.79,377.79 L1240.16,377.79 L1240.53,377.79 L1240.89,377.79 L1241.26,377.79 L1241.63,377.79 L1241.99,377.8 L1242.36,377.8 L1242.73,377.8 L1243.09,377.8 L1243.46,377.8 L1243.83,377.8 L1244.2,377.8 L1244.56,377.8 L1244.93,377.8 L1245.3,377.8 L1245.66,377.8 L1246.03,377.8 L1246.4,377.81 L1246.77,377.81 L1247.13,377.81 L1247.5,377.81 L1247.87,377.81 L1248.23,377.81 L1248.6,377.81 L1248.97,377.81 L1249.33,377.81 L1249.7,377.81 L1250.07,377.81 L1250.44,377.82 L1250.8,377.82 L1251.17,377.82 L1251.54,377.82 L1251.9,377.82 L1252.27,377.82 L1252.64,377.82 L1253,377.82 L1253.37,377.82 L1253.74,377.82 L1254.11,377.83 L1254.47,377.83 L1254.84,377.83 L1255.21,377.83 L1255.57,377.83 L1255.94,377.83 L1256.31,377.83 L1256.68,377.83 L1257.04,377.83 L1257.41,377.83 L1257.78,377.84 L1258.14,377.84 L1258.51,377.84 L1258.88,377.84 L1259.24,377.84 L1259.61,377.84 L1259.98,377.84 L1260.35,377.84 L1260.71,377.84 L1261.08,377.85 L1261.45,377.85 L1261.81,377.85 L1262.18,377.85 L1262.55,377.85 L1262.92,377.85 L1263.28,377.85 L1263.65,377.85 L1264.02,377.85 L1264.38,377.86 L1264.75,377.86 L1265.12,377.86 L1265.48,377.86 L1265.85,377.86 L1266.22,377.86 L1266.59,377.86 L1266.95,377.86 L1267.32,377.86 L1267.69,377.87 L1268.05,377.87 L1268.42,377.87 L1268.79,377.87 L1269.15,377.87 L1269.52,377.87 L1269.89,377.87 L1270.26,377.87 L1270.62,377.88 L1270.99,377.88 L1271.36,377.88 L1271.72,377.88 L1272.09,377.88 L1272.46,377.88 L1272.83,377.88 L1273.19,377.88 L1273.56,377.89 L1273.93,377.89 L1274.29,377.89 L1274.66,377.89 L1275.03,377.89 L1275.39,377.89 L1275.76,377.89 L1276.13,377.89 L1276.5,377.9 L1276.86,377.9 L1277.23,377.9 L1277.6,377.9 L1277.96,377.9 L1278.33,377.9 L1278.7,377.9 L1279.06,377.91 L1279.43,377.91 L1279.8,377.91 L1280.17,377.91 L1280.53,377.91 L1280.9,377.91 L1281.27,377.91 L1281.63,377.91 L1282,377.92 L1282.37,377.92 L1282.74,377.92 L1283.1,377.92 L1283.47,377.92 L1283.84,377.92 L1284.2,377.92 L1284.57,377.93 L1284.94,377.93 L1285.3,377.93 L1285.67,377.93 L1286.04,377.93 L1286.41,377.93 L1286.77,377.94 L1287.14,377.94 L1287.51,377.94 L1287.87,377.94 L1288.24,377.94 L1288.61,377.94 L1288.98,377.94 L1289.34,377.95 L1289.71,377.95 L1290.08,377.95 L1290.44,377.95 L1290.81,377.95 L1291.18,377.95 L1291.54,377.95 L1291.91,377.96 L1292.28,377.96 L1292.65,377.96 L1293.01,377.96 L1293.38,377.96 L1293.75,377.96 L1294.11,377.97 L1294.48,377.97 L1294.85,377.97 L1295.21,377.97 L1295.58,377.97 L1295.95,377.97 L1296.32,377.98 L1296.68,377.98 L1297.05,377.98 L1297.42,377.98 L1297.78,377.98 L1298.15,377.98 L1298.52,377.99 L1298.89,377.99 L1299.25,377.99 L1299.62,377.99 L1299.99,377.99 L1300.35,377.99 L1300.72,378 L1301.09,378 L1301.45,378 L1301.82,378 L1302.19,378 L1302.56,378 L1302.92,378.01 L1303.29,378.01 L1303.66,378.01 L1304.02,378.01 L1304.39,378.01 L1304.76,378.01 L1305.13,378.02 L1305.49,378.02 L1305.86,378.02 L1306.23,378.02 L1306.59,378.02 L1306.96,378.03 L1307.33,378.03 L1307.69,378.03 L1308.06,378.03 L1308.43,378.03 L1308.8,378.03 L1309.16,378.04 L1309.53,378.04 L1309.9,378.04 L1310.26,378.04 L1310.63,378.04 L1311,378.05 L1311.36,378.05 L1311.73,378.05 L1312.1,378.05 L1312.47,378.05 L1312.83,378.06 L1313.2,378.06 L1313.57,378.06 L1313.93,378.06 L1314.3,378.06 L1314.67,378.07 L1315.04,378.07 L1315.4,378.07 L1315.77,378.07 L1316.14,378.07 L1316.5,378.08 L1316.87,378.08 L1317.24,378.08 L1317.6,378.08 L1317.97,378.08 L1318.34,378.09 L1318.71,378.09 L1319.07,378.09 L1319.44,378.09 L1319.81,378.09 L1320.17,378.1 L1320.54,378.1 L1320.91,378.1 L1321.28,378.1 L1321.64,378.1 L1322.01,378.11 L1322.38,378.11 L1322.74,378.11 L1323.11,378.11 L1323.48,378.11 L1323.84,378.12 L1324.21,378.12 L1324.58,378.12 L1324.95,378.12 L1325.31,378.12 L1325.68,378.13 L1326.05,378.13 L1326.41,378.13 L1326.78,378.13 L1327.15,378.14 L1327.51,378.14 L1327.88,378.14 L1328.25,378.14 L1328.62,378.14 L1328.98,378.15 L1329.35,378.15 L1329.72,378.15 L1330.08,378.15 L1330.45,378.16 L1330.82,378.16 L1331.19,378.16 L1331.55,378.16 L1331.92,378.16 L1332.29,378.17 L1332.65,378.17 L1333.02,378.17 L1333.39,378.17 L1333.75,378.18 L1334.12,378.18 L1334.49,378.18 L1334.86,378.18 L1335.22,378.18 L1335.59,378.19 L1335.96,378.19 L1336.32,378.19 L1336.69,378.19 L1337.06,378.2 L1337.43,378.2 L1337.79,378.2 L1338.16,378.2 L1338.53,378.21 L1338.89,378.21 L1339.26,378.21 L1339.63,378.21 L1339.99,378.22 L1340.36,378.22 L1340.73,378.22 L1341.1,378.22 L1341.46,378.22 L1341.83,378.23 L1342.2,378.23 L1342.56,378.23 L1342.93,378.23 L1343.3,378.24 L1343.66,378.24 L1344.03,378.24 L1344.4,378.24 L1344.77,378.25 L1345.13,378.25 L1345.5,378.25 L1345.87,378.25 L1346.23,378.26 L1346.6,378.26 L1346.97,378.26 L1347.34,378.26 L1347.7,378.27 L1348.07,378.27 L1348.44,378.27 L1348.8,378.27 L1349.17,378.28 L1349.54,378.28 L1349.9,378.28 L1350.27,378.29 L1350.64,378.29 L1351.01,378.29 L1351.37,378.29 L1351.74,378.3 L1352.11,378.3 L1352.47,378.3 L1352.84,378.3 L1353.21,378.31 L1353.58,378.31 L1353.94,378.31 L1354.31,378.31 L1354.68,378.32 L1355.04,378.32 L1355.41,378.32 L1355.78,378.33 L1356.14,378.33 L1356.51,378.33 L1356.88,378.33 L1357.25,378.34 L1357.61,378.34 L1357.98,378.34 L1358.35,378.34 L1358.71,378.35 L1359.08,378.35 L1359.45,378.35 L1359.81,378.36 L1360.18,378.36 L1360.55,378.36 L1360.92,378.36 L1361.28,378.37 L1361.65,378.37 L1362.02,378.37 L1362.38,378.37 L1362.75,378.38 L1363.12,378.38 L1363.49,378.38 L1363.85,378.39 L1364.22,378.39 L1364.59,378.39 L1364.95,378.4 L1365.32,378.4 L1365.69,378.4 L1366.05,378.4 L1366.42,378.41 L1366.79,378.41 L1367.16,378.41 L1367.52,378.42 L1367.89,378.42 L1368.26,378.42 L1368.62,378.42 L1368.99,378.43 L1369.36,378.43 L1369.73,378.43 L1370.09,378.44 L1370.46,378.44 L1370.83,378.44 L1371.19,378.45 L1371.56,378.45 L1371.93,378.45 L1372.29,378.45 L1372.66,378.46 L1373.03,378.46 L1373.4,378.46 L1373.76,378.47 L1374.13,378.47 L1374.5,378.47 L1374.86,378.48 L1375.23,378.48 L1375.6,378.48 L1375.96,378.48 L1376.33,378.49 L1376.7,378.49 L1377.07,378.49 L1377.43,378.5 L1377.8,378.5" fill="none" stroke="#e60000" stroke-width="2.3" stroke-linejoin="round" stroke-linecap="butt"/>
<path d="M827.6,626 L830.34,625.98 L833.09,625.97 L835.83,625.95 L838.58,625.94 L841.32,625.92 L844.06,625.9 L846.81,625.89 L849.55,625.87 L852.29,625.86 L855.04,625.84 L857.78,625.83 L860.52,625.81 L863.27,625.8 L866.01,625.79 L868.76,625.77 L871.5,625.76 L874.24,625.74 L876.99,625.73 L879.73,625.72 L882.48,625.7 L885.22,625.69 L887.96,625.68 L890.71,625.66 L893.45,625.65 L896.19,625.64 L898.94,625.62 L901.68,625.61 L904.43,625.6 L907.17,625.59 L909.91,625.57 L912.66,625.56 L915.4,625.55 L918.14,625.54 L920.89,625.52 L923.63,625.51 L926.38,625.5 L929.12,625.49 L931.86,625.48 L934.61,625.47 L937.35,625.45 L940.09,625.44 L942.84,625.43 L945.58,625.42 L948.33,625.41 L951.07,625.4 L953.81,625.39 L956.56,625.38 L959.3,625.37 L962.04,625.36 L964.79,625.35 L967.53,625.34 L970.27,625.33 L973.02,625.32 L975.76,625.31 L978.51,625.3 L981.25,625.29 L983.99,625.28 L986.74,625.27 L989.48,625.26 L992.23,625.25 L994.97,625.24 L997.71,625.23 L1000.46,625.22 L1003.2,625.21 L1005.94,625.2 L1008.69,625.19 L1011.43,625.18 L1014.17,625.17 L1016.92,625.17 L1019.66,625.16 L1022.41,625.15 L1025.15,625.14 L1027.89,625.13 L1030.64,625.12 L1033.38,625.11 L1036.12,625.11 L1038.87,625.1 L1041.61,625.09 L1044.36,625.08 L1047.1,625.07 L1049.84,625.07 L1052.59,625.06 L1055.33,625.05 L1058.08,625.04 L1060.82,625.04 L1063.56,625.03 L1066.31,625.02 L1069.05,625.01 L1071.79,625.01 L1074.54,625 L1077.28,624.99 L1080.03,624.99 L1082.77,624.98 L1085.51,624.97 L1088.26,624.96 L1091,624.96 L1093.74,624.95 L1096.49,624.94 L1099.23,624.94 L1101.97,624.93 L1104.72,624.92 L1107.46,624.92 L1110.21,624.91 L1112.95,624.91 L1115.69,624.9 L1118.44,624.89 L1121.18,624.89 L1123.92,624.88 L1126.67,624.87 L1129.41,624.87 L1132.16,624.86 L1134.9,624.86 L1137.64,624.85 L1140.39,624.84 L1143.13,624.84 L1145.88,624.83 L1148.62,624.83 L1151.36,624.82 L1154.11,624.82 L1156.85,624.81 L1159.59,624.81 L1162.34,624.8 L1165.08,624.79 L1167.83,624.79 L1170.57,624.78 L1173.31,624.78 L1176.06,624.77 L1178.8,624.77 L1181.54,624.76 L1184.29,624.76 L1187.03,624.75 L1189.78,624.75 L1192.52,624.74 L1195.26,624.74 L1198.01,624.73 L1200.75,624.73 L1203.49,624.72 L1206.24,624.72 L1208.98,624.72 L1211.72,624.71 L1214.47,624.71 L1217.21,624.7 L1219.96,624.7 L1222.7,624.69 L1225.44,624.69 L1228.19,624.68 L1230.93,624.68 L1233.67,624.68 L1236.42,624.67 L1239.16,624.67 L1241.91,624.66 L1244.65,624.66 L1247.39,624.65 L1250.14,624.65 L1252.88,624.65 L1255.62,624.64 L1258.37,624.64 L1261.11,624.64 L1263.86,624.63 L1266.6,624.63 L1269.34,624.62 L1272.09,624.62 L1274.83,624.62 L1277.58,624.61 L1280.32,624.61 L1283.06,624.61 L1285.81,624.6 L1288.55,624.6 L1291.29,624.59 L1294.04,624.59 L1296.78,624.59 L1299.53,624.58 L1302.27,624.58 L1305.01,624.58 L1307.76,624.57 L1310.5,624.57 L1313.24,624.57 L1315.99,624.56 L1318.73,624.56 L1321.47,624.56 L1324.22,624.55 L1326.96,624.55 L1329.71,624.55 L1332.45,624.55 L1335.19,624.54 L1337.94,624.54 L1340.68,624.54 L1343.42,624.53 L1346.17,624.53 L1348.91,624.53 L1351.66,624.52 L1354.4,624.52 L1357.14,624.52 L1359.89,624.52 L1362.63,624.51 L1365.38,624.51 L1368.12,624.51 L1370.86,624.51 L1373.61,624.5 L1376.35,624.5" fill="none" stroke="#000" stroke-width="2.4" stroke-linejoin="round" stroke-linecap="butt"/>
<text x="1346.9" y="207.6" font-size="46.3" text-anchor="middle" >(b)</text>
<text transform="translate(766.2,347.9) rotate(-90)" font-size="37.5" text-anchor="middle"><tspan font-style="italic">R</tspan> per cell</text>
<line x1="83.1" y1="1462.2" x2="656.4" y2="1462.2" stroke="#3c3c3c" stroke-width="1.2"/>
<line x1="94.7" y1="782.4" x2="94.7" y2="1498.2" stroke="#3c3c3c" stroke-width="1.2"/>
<line x1="204.84" y1="1462.2" x2="204.84" y2="1456.7" stroke="#3c3c3c" stroke-width="1.2"/>
<line x1="314.88" y1="1462.2" x2="314.88" y2="1456.7" stroke="#3c3c3c" stroke-width="1.2"/>
<line x1="424.92" y1="1462.2" x2="424.92" y2="1456.7" stroke="#3c3c3c" stroke-width="1.2"/>
<line x1="534.96" y1="1462.2" x2="534.96" y2="1456.7" stroke="#3c3c3c" stroke-width="1.2"/>
<line x1="645" y1="1462.2" x2="645" y2="1456.7" stroke="#3c3c3c" stroke-width="1.2"/>
<line x1="122.31" y1="1462.2" x2="122.31" y2="1458.9" stroke="#3c3c3c" stroke-width="1.2"/>
<line x1="149.82" y1="1462.2" x2="149.82" y2="1458.9" stroke="#3c3c3c" stroke-width="1.2"/>
<line x1="177.33" y1="1462.2" x2="177.33" y2="1458.9" stroke="#3c3c3c" stroke-width="1.2"/>
<line x1="232.35" y1="1462.2" x2="232.35" y2="1458.9" stroke="#3c3c3c" stroke-width="1.2"/>
<line x1="259.86" y1="1462.2" x2="259.86" y2="1458.9" stroke="#3c3c3c" stroke-width="1.2"/>
<line x1="287.37" y1="1462.2" x2="287.37" y2="1458.9" stroke="#3c3c3c" stroke-width="1.2"/>
<line x1="342.39" y1="1462.2" x2="342.39" y2="1458.9" stroke="#3c3c3c" stroke-width="1.2"/>
<line x1="369.9" y1="1462.2" x2="369.9" y2="1458.9" stroke="#3c3c3c" stroke-width="1.2"/>
<line x1="397.41" y1="1462.2" x2="397.41" y2="1458.9" stroke="#3c3c3c" stroke-width="1.2"/>
<line x1="452.43" y1="1462.2" x2="452.43" y2="1458.9" stroke="#3c3c3c" stroke-width="1.2"/>
<line x1="479.94" y1="1462.2" x2="479.94" y2="1458.9" stroke="#3c3c3c" stroke-width="1.2"/>
<line x1="507.45" y1="1462.2" x2="507.45" y2="1458.9" stroke="#3c3c3c" stroke-width="1.2"/>
<line x1="562.47" y1="1462.2" x2="562.47" y2="1458.9" stroke="#3c3c3c" stroke-width="1.2"/>
<line x1="589.98" y1="1462.2" x2="589.98" y2="1458.9" stroke="#3c3c3c" stroke-width="1.2"/>
<line x1="617.49" y1="1462.2" x2="617.49" y2="1458.9" stroke="#3c3c3c" stroke-width="1.2"/>
<line x1="94.7" y1="1325.35" x2="100.2" y2="1325.35" stroke="#3c3c3c" stroke-width="1.2"/>
<line x1="94.7" y1="1188.4" x2="100.2" y2="1188.4" stroke="#3c3c3c" stroke-width="1.2"/>
<line x1="94.7" y1="1051.45" x2="100.2" y2="1051.45" stroke="#3c3c3c" stroke-width="1.2"/>
<line x1="94.7" y1="914.5" x2="100.2" y2="914.5" stroke="#3c3c3c" stroke-width="1.2"/>
<line x1="94.7" y1="1489.69" x2="98" y2="1489.69" stroke="#3c3c3c" stroke-width="1.2"/>
<line x1="94.7" y1="1434.91" x2="98" y2="1434.91" stroke="#3c3c3c" stroke-width="1.2"/>
<line x1="94.7" y1="1407.52" x2="98" y2="1407.52" stroke="#3c3c3c" stroke-width="1.2"/>
<line x1="94.7" y1="1380.13" x2="98" y2="1380.13" stroke="#3c3c3c" stroke-width="1.2"/>
<line x1="94.7" y1="1352.74" x2="98" y2="1352.74" stroke="#3c3c3c" stroke-width="1.2"/>
<line x1="94.7" y1="1297.96" x2="98" y2="1297.96" stroke="#3c3c3c" stroke-width="1.2"/>
<line x1="94.7" y1="1270.57" x2="98" y2="1270.57" stroke="#3c3c3c" stroke-width="1.2"/>
<line x1="94.7" y1="1243.18" x2="98" y2="1243.18" stroke="#3c3c3c" stroke-width="1.2"/>
<line x1="94.7" y1="1215.79" x2="98" y2="1215.79" stroke="#3c3c3c" stroke-width="1.2"/>
<line x1="94.7" y1="1161.01" x2="98" y2="1161.01" stroke="#3c3c3c" stroke-width="1.2"/>
<line x1="94.7" y1="1133.62" x2="98" y2="1133.62" stroke="#3c3c3c" stroke-width="1.2"/>
<line x1="94.7" y1="1106.23" x2="98" y2="1106.23" stroke="#3c3c3c" stroke-width="1.2"/>
<line x1="94.7" y1="1078.84" x2="98" y2="1078.84" stroke="#3c3c3c" stroke-width="1.2"/>
<line x1="94.7" y1="1024.06" x2="98" y2="1024.06" stroke="#3c3c3c" stroke-width="1.2"/>
<line x1="94.7" y1="996.67" x2="98" y2="996.67" stroke="#3c3c3c" stroke-width="1.2"/>
<line x1="94.7" y1="969.28" x2="98" y2="969.28" stroke="#3c3c3c" stroke-width="1.2"/>
<line x1="94.7" y1="941.89" x2="98" y2="941.89" stroke="#3c3c3c" stroke-width="1.2"/>
<line x1="94.7" y1="887.11" x2="98" y2="887.11" stroke="#3c3c3c" stroke-width="1.2"/>
<line x1="94.7" y1="859.72" x2="98" y2="859.72" stroke="#3c3c3c" stroke-width="1.2"/>
<line x1="94.7" y1="832.33" x2="98" y2="832.33" stroke="#3c3c3c" stroke-width="1.2"/>
<line x1="94.7" y1="804.94" x2="98" y2="804.94" stroke="#3c3c3c" stroke-width="1.2"/>
<text transform="translate(204.84,1496.3) scale(0.92,1)" font-size="33" text-anchor="middle">20</text>
<text transform="translate(314.88,1496.3) scale(0.92,1)" font-size="33" text-anchor="middle">40</text>
<text transform="translate(424.92,1496.3) scale(0.92,1)" font-size="33" text-anchor="middle">60</text>
<text transform="translate(534.96,1496.3) scale(0.92,1)" font-size="33" text-anchor="middle">80</text>
<text transform="translate(645,1496.3) scale(0.92,1)" font-size="33" text-anchor="middle">100</text>
<text transform="translate(89.8,1337.75) scale(0.92,1)" font-size="33" text-anchor="end">5</text>
<text transform="translate(89.8,1200.8) scale(0.92,1)" font-size="33" text-anchor="end">10</text>
<text transform="translate(89.8,1063.85) scale(0.92,1)" font-size="33" text-anchor="end">15</text>
<text transform="translate(89.8,926.9) scale(0.92,1)" font-size="33" text-anchor="end">20</text>
<path d="M94.8,1462 L95.73,1462 L96.69,1462 L97.67,1462 L98.68,1462 L99.69,1462 L100.72,1462 L101.75,1462 L102.79,1462 L103.82,1461.92 L104.85,1461.75 L105.87,1461.54 L106.88,1461.3 L107.86,1461.02 L108.82,1460.7 L109.76,1460.34 L110.66,1459.93 L111.53,1459.49 L112.36,1458.99 L113.14,1458.45 L113.88,1457.87 L114.58,1457.23 L115.22,1456.55 L115.83,1455.84 L116.4,1455.08 L116.93,1454.29 L117.43,1453.46 L117.89,1452.61 L118.32,1451.73 L118.72,1450.82 L119.1,1449.89 L119.45,1448.94 L119.77,1447.97 L120.08,1446.99 L120.36,1445.99 L120.63,1444.99 L120.89,1443.97 L121.13,1442.96 L121.36,1441.94 L121.59,1440.92 L121.8,1439.9 L122.01,1438.89 L122.22,1437.88 L122.42,1436.87 L122.61,1435.87 L122.79,1434.87 L122.97,1433.86 L123.15,1432.87 L123.32,1431.87 L123.48,1430.87 L123.65,1429.88 L123.8,1428.89 L123.95,1427.89 L124.1,1426.9 L124.25,1425.91 L124.39,1424.92 L124.53,1423.94 L124.66,1422.95 L124.8,1421.96 L124.93,1420.98 L125.06,1419.99 L125.18,1419 L125.31,1418.02 L125.43,1417.03 L125.55,1416.04 L125.67,1415.06 L125.79,1414.07 L125.91,1413.08 L126.02,1412.09 L126.14,1411.1 L126.25,1410.11 L126.36,1409.12 L126.47,1408.14 L126.58,1407.15 L126.69,1406.16 L126.8,1405.16 L126.91,1404.17 L127.01,1403.18 L127.12,1402.19 L127.22,1401.2 L127.32,1400.21 L127.42,1399.22 L127.52,1398.22 L127.62,1397.23 L127.72,1396.24 L127.81,1395.24 L127.91,1394.25 L128,1393.26 L128.1,1392.26 L128.19,1391.27 L128.28,1390.27 L128.37,1389.28 L128.46,1388.28 L128.55,1387.29 L128.64,1386.29 L128.72,1385.3 L128.81,1384.3 L128.89,1383.31 L128.98,1382.31 L129.06,1381.31 L129.14,1380.32 L129.23,1379.32 L129.31,1378.32 L129.39,1377.33 L129.47,1376.33 L129.55,1375.33 L129.62,1374.33 L129.7,1373.34 L129.78,1372.34 L129.85,1371.34 L129.93,1370.34 L130,1369.34 L130.08,1368.34 L130.15,1367.35 L130.22,1366.35 L130.29,1365.35 L130.36,1364.35 L130.44,1363.35 L130.51,1362.35 L130.58,1361.35 L130.64,1360.35 L130.71,1359.35 L130.78,1358.35 L130.85,1357.35 L130.92,1356.35 L130.98,1355.35 L131.05,1354.35 L131.11,1353.35 L131.18,1352.35 L131.25,1351.35 L131.31,1350.35 L131.37,1349.35 L131.44,1348.35 L131.5,1347.35 L131.56,1346.35 L131.63,1345.35 L131.69,1344.35 L131.75,1343.35 L131.81,1342.34 L131.88,1341.34 L131.94,1340.34 L132,1339.34 L132.06,1338.34 L132.12,1337.34 L132.18,1336.34 L132.24,1335.34 L132.3,1334.34 L132.36,1333.34 L132.42,1332.33 L132.48,1331.33 L132.54,1330.33 L132.6,1329.33 L132.66,1328.33 L132.72,1327.33 L132.78,1326.33 L132.84,1325.33 L132.9,1324.33 L132.96,1323.33 L133.02,1322.33 L133.08,1321.33 L133.14,1320.33 L133.19,1319.32 L133.25,1318.32 L133.31,1317.32 L133.37,1316.32 L133.43,1315.32 L133.49,1314.32 L133.55,1313.32 L133.61,1312.32 L133.67,1311.32 L133.73,1310.32 L133.78,1309.32 L133.84,1308.32 L133.9,1307.32 L133.96,1306.32 L134.02,1305.32 L134.08,1304.32 L134.14,1303.32 L134.19,1302.32 L134.25,1301.32 L134.31,1300.32 L134.37,1299.32 L134.43,1298.32 L134.48,1297.32 L134.54,1296.32 L134.6,1295.32 L134.66,1294.32 L134.72,1293.32 L134.77,1292.32 L134.83,1291.32 L134.89,1290.32 L134.95,1289.32 L135.01,1288.32 L135.06,1287.32 L135.12,1286.32 L135.18,1285.32 L135.24,1284.32 L135.29,1283.32 L135.35,1282.32 L135.41,1281.32 L135.47,1280.32 L135.52,1279.32 L135.58,1278.32 L135.64,1277.32 L135.7,1276.32 L135.75,1275.32 L135.81,1274.32 L135.87,1273.32 L135.92,1272.32 L135.98,1271.32 L136.04,1270.32 L136.09,1269.33 L136.15,1268.33 L136.21,1267.33 L136.27,1266.33 L136.32,1265.33 L136.38,1264.33 L136.44,1263.33 L136.49,1262.33 L136.55,1261.33 L136.6,1260.33 L136.66,1259.33 L136.72,1258.33 L136.77,1257.33 L136.83,1256.33 L136.89,1255.33 L136.94,1254.33 L137,1253.33 L137.06,1252.33 L137.11,1251.33 L137.17,1250.34 L137.22,1249.34 L137.28,1248.34 L137.34,1247.34 L137.39,1246.34 L137.45,1245.34 L137.5,1244.34 L137.56,1243.34 L137.61,1242.34 L137.67,1241.34 L137.73,1240.34 L137.78,1239.34 L137.84,1238.34 L137.89,1237.34 L137.95,1236.34 L138,1235.34 L138.06,1234.34 L138.11,1233.34 L138.17,1232.35 L138.22,1231.35 L138.28,1230.35 L138.33,1229.35 L138.39,1228.35 L138.45,1227.35 L138.5,1226.35 L138.56,1225.35 L138.61,1224.35 L138.67,1223.35 L138.72,1222.35 L138.77,1221.35 L138.83,1220.35 L138.88,1219.35 L138.94,1218.35 L138.99,1217.35 L139.05,1216.35 L139.1,1215.35 L139.16,1214.35 L139.21,1213.36 L139.27,1212.36 L139.32,1211.36 L139.38,1210.36 L139.43,1209.36 L139.48,1208.36 L139.54,1207.36 L139.59,1206.36 L139.65,1205.36 L139.7,1204.36 L139.75,1203.36 L139.81,1202.36 L139.86,1201.36 L139.92,1200.36 L139.97,1199.36 L140.02,1198.36 L140.08,1197.36 L140.13,1196.36 L140.19,1195.36 L140.24,1194.36 L140.29,1193.36 L140.35,1192.36 L140.4,1191.36 L140.45,1190.36 L140.51,1189.36 L140.56,1188.36 L140.62,1187.36 L140.67,1186.36 L140.72,1185.36 L140.78,1184.36 L140.83,1183.36 L140.88,1182.36 L140.94,1181.36 L140.99,1180.36 L141.04,1179.36 L141.1,1178.36 L141.15,1177.36 L141.2,1176.36 L141.26,1175.36 L141.31,1174.36 L141.36,1173.36 L141.41,1172.36 L141.47,1171.36 L141.52,1170.36 L141.57,1169.36 L141.63,1168.36 L141.68,1167.36 L141.73,1166.36 L141.79,1165.36 L141.84,1164.36 L141.89,1163.36 L141.95,1162.36 L142,1161.36 L142.05,1160.36 L142.1,1159.36 L142.16,1158.36 L142.21,1157.36 L142.26,1156.36 L142.32,1155.36 L142.37,1154.36 L142.42,1153.36 L142.47,1152.36 L142.53,1151.36 L142.58,1150.36 L142.63,1149.36 L142.69,1148.36 L142.74,1147.36 L142.79,1146.36 L142.85,1145.36 L142.9,1144.35 L142.95,1143.35 L143,1142.35 L143.06,1141.35 L143.11,1140.35 L143.16,1139.35 L143.22,1138.35 L143.27,1137.35 L143.32,1136.35 L143.37,1135.35 L143.43,1134.35 L143.48,1133.35 L143.53,1132.35 L143.59,1131.35 L143.64,1130.35 L143.69,1129.35 L143.75,1128.35 L143.8,1127.35 L143.85,1126.35 L143.9,1125.35 L143.96,1124.35 L144.01,1123.35 L144.06,1122.35 L144.12,1121.35 L144.17,1120.35 L144.22,1119.35 L144.28,1118.35 L144.33,1117.35 L144.38,1116.34 L144.44,1115.34 L144.49,1114.34 L144.54,1113.34 L144.6,1112.34 L144.65,1111.34 L144.7,1110.34 L144.76,1109.34 L144.81,1108.34 L144.86,1107.34 L144.92,1106.34 L144.97,1105.34 L145.02,1104.34 L145.08,1103.34 L145.13,1102.34 L145.18,1101.34 L145.24,1100.34 L145.29,1099.34 L145.34,1098.34 L145.4,1097.34 L145.45,1096.34 L145.51,1095.34 L145.56,1094.34 L145.61,1093.34 L145.67,1092.34 L145.72,1091.34 L145.78,1090.34 L145.83,1089.33 L145.88,1088.33 L145.94,1087.33 L145.99,1086.33 L146.05,1085.33 L146.1,1084.33 L146.15,1083.33 L146.21,1082.33 L146.26,1081.33 L146.32,1080.33 L146.37,1079.33 L146.43,1078.33 L146.48,1077.33 L146.54,1076.33 L146.59,1075.33 L146.64,1074.33 L146.7,1073.33 L146.75,1072.33 L146.81,1071.33 L146.86,1070.33 L146.92,1069.33 L146.97,1068.33 L147.03,1067.33 L147.08,1066.33 L147.14,1065.33 L147.2,1064.33 L147.25,1063.33 L147.31,1062.33 L147.36,1061.33 L147.42,1060.33 L147.47,1059.33 L147.53,1058.33 L147.58,1057.33 L147.64,1056.33 L147.7,1055.33 L147.75,1054.33 L147.81,1053.33 L147.86,1052.33 L147.92,1051.33 L147.98,1050.33 L148.03,1049.33 L148.09,1048.33 L148.14,1047.33 L148.2,1046.33 L148.26,1045.33 L148.31,1044.33 L148.37,1043.33 L148.43,1042.33 L148.48,1041.33 L148.54,1040.33 L148.6,1039.33 L148.65,1038.33 L148.71,1037.33 L148.77,1036.33 L148.83,1035.33 L148.88,1034.33 L148.94,1033.33 L149,1032.33 L149.06,1031.33 L149.11,1030.33 L149.17,1029.33 L149.23,1028.33 L149.29,1027.33 L149.35,1026.33 L149.4,1025.33 L149.46,1024.33 L149.52,1023.33 L149.58,1022.33 L149.64,1021.33 L149.7,1020.33 L149.75,1019.34 L149.81,1018.34 L149.87,1017.34 L149.93,1016.34 L149.99,1015.34 L150.05,1014.34 L150.11,1013.34 L150.17,1012.34 L150.23,1011.34 L150.29,1010.34 L150.35,1009.34 L150.4,1008.34 L150.46,1007.34 L150.52,1006.34 L150.58,1005.34 L150.64,1004.34 L150.7,1003.34 L150.76,1002.35 L150.83,1001.35 L150.89,1000.35 L150.95,999.35 L151.01,998.35 L151.07,997.35 L151.13,996.35 L151.19,995.35 L151.25,994.35 L151.31,993.35 L151.37,992.35 L151.43,991.36 L151.5,990.36 L151.56,989.36 L151.62,988.36 L151.68,987.36 L151.74,986.36 L151.81,985.36 L151.87,984.36 L151.93,983.36 L151.99,982.37 L152.06,981.37 L152.12,980.37 L152.18,979.37 L152.24,978.37 L152.31,977.37 L152.37,976.37 L152.43,975.38 L152.5,974.38 L152.56,973.38 L152.62,972.38 L152.69,971.38 L152.75,970.38 L152.82,969.38 L152.88,968.39 L152.94,967.39 L153.01,966.39 L153.07,965.39 L153.14,964.39 L153.2,963.39 L153.27,962.4 L153.33,961.4 L153.4,960.4 L153.46,959.4 L153.53,958.4 L153.59,957.4 L153.66,956.41 L153.73,955.41 L153.79,954.41 L153.86,953.41 L153.93,952.41 L153.99,951.42 L154.06,950.42 L154.12,949.42 L154.19,948.42 L154.26,947.43 L154.33,946.43 L154.39,945.43 L154.46,944.43 L154.53,943.43 L154.6,942.44 L154.67,941.44 L154.74,940.44 L154.81,939.44 L154.88,938.44 L154.95,937.45 L155.02,936.45 L155.09,935.45 L155.16,934.45 L155.23,933.45 L155.3,932.46 L155.38,931.46 L155.45,930.46 L155.53,929.46 L155.6,928.46 L155.68,927.46 L155.75,926.46 L155.83,925.46 L155.91,924.46 L155.99,923.46 L156.06,922.47 L156.14,921.47 L156.22,920.47 L156.31,919.47 L156.39,918.47 L156.47,917.47 L156.56,916.47 L156.64,915.46 L156.73,914.46 L156.81,913.46 L156.9,912.46 L156.99,911.46 L157.08,910.46 L157.17,909.46 L157.26,908.45 L157.35,907.45 L157.45,906.45 L157.54,905.45 L157.64,904.44 L157.73,903.44 L157.83,902.44 L157.93,901.43 L158.03,900.43 L158.13,899.42 L158.24,898.42 L158.34,897.42 L158.44,896.41 L158.55,895.41 L158.66,894.4 L158.76,893.4 L158.87,892.39 L158.98,891.39 L159.09,890.38 L159.2,889.38 L159.31,888.38 L159.43,887.37 L159.54,886.37 L159.65,885.37 L159.76,884.37 L159.88,883.37 L159.99,882.37 L160.11,881.37 L160.22,880.37 L160.34,879.37 L160.45,878.37 L160.57,877.38 L160.68,876.38 L160.8,875.39 L160.92,874.4 L161.03,873.4 L161.15,872.41 L161.26,871.42 L161.38,870.44 L161.49,869.45 L161.61,868.46 L161.72,867.48 L161.84,866.5 L161.95,865.52 L162.06,864.54 L162.18,863.56 L162.29,862.58 L162.4,861.61 L162.51,860.64 L162.62,859.67 L162.73,858.7 L162.84,857.73 L162.95,856.77 L163.06,855.8 L163.16,854.84 L163.27,853.88 L163.38,852.93 L163.48,851.97 L163.59,851.01 L163.7,850.06 L163.82,849.1 L163.94,848.15 L164.06,847.19 L164.19,846.23 L164.32,845.27 L164.46,844.31 L164.61,843.34 L164.76,842.37 L164.92,841.4 L165.09,840.42 L165.27,839.44 L165.47,838.46 L165.67,837.47 L165.88,836.48 L166.11,835.48 L166.35,834.47 L166.6,833.46 L166.87,832.44 L167.15,831.41 L167.44,830.38 L167.76,829.33 L168.09,828.28 L168.44,827.22 L168.8,826.15 L169.19,825.09 L169.62,824.05 L170.09,823.05 L170.62,822.11 L171.2,821.24 L171.86,820.46 L172.58,819.8 L173.35,819.27 L174.16,818.89 L174.99,818.68 L175.84,818.68 L176.68,818.87 L177.52,819.23 L178.34,819.73 L179.13,820.35 L179.89,821.03 L180.61,821.76 L181.28,822.53 L181.91,823.32 L182.51,824.14 L183.06,824.98 L183.59,825.85 L184.08,826.74 L184.54,827.65 L184.98,828.58 L185.39,829.52 L185.79,830.48 L186.16,831.45 L186.52,832.42 L186.87,833.41 L187.2,834.4 L187.53,835.39 L187.86,836.39 L188.18,837.38 L188.5,838.37 L188.82,839.36 L189.15,840.34 L189.48,841.32 L189.81,842.29 L190.15,843.26 L190.48,844.22 L190.83,845.18 L191.17,846.13 L191.52,847.08 L191.87,848.02 L192.22,848.96 L192.57,849.9 L192.93,850.84 L193.29,851.77 L193.65,852.7 L194.01,853.62 L194.38,854.54 L194.74,855.46 L195.11,856.38 L195.48,857.3 L195.85,858.21 L196.22,859.13 L196.59,860.04 L196.97,860.95 L197.34,861.85 L197.71,862.76 L198.09,863.67 L198.47,864.58 L198.84,865.48 L199.22,866.39 L199.59,867.29 L199.97,868.2 L200.35,869.11 L200.72,870.01 L201.1,870.92 L201.47,871.83 L201.85,872.74 L202.22,873.65 L202.59,874.56 L202.96,875.47 L203.33,876.39 L203.7,877.31 L204.07,878.23 L204.44,879.15 L204.8,880.08 L205.17,881 L205.53,881.93 L205.89,882.86 L206.25,883.8 L206.62,884.73 L206.98,885.67 L207.34,886.61 L207.71,887.54 L208.08,888.48 L208.45,889.42 L208.82,890.35 L209.19,891.29 L209.57,892.22 L209.96,893.15 L210.34,894.08 L210.74,895.01 L211.13,895.93 L211.54,896.86 L211.95,897.77 L212.37,898.69 L212.79,899.6 L213.22,900.51 L213.66,901.41 L214.11,902.31 L214.57,903.2 L215.03,904.08 L215.51,904.96 L215.99,905.84 L216.49,906.71 L217,907.57 L217.52,908.42 L218.05,909.26 L218.59,910.1 L219.14,910.93 L219.71,911.76 L220.28,912.57 L220.87,913.38 L221.47,914.18 L222.07,914.97 L222.69,915.76 L223.32,916.54 L223.95,917.31 L224.6,918.07 L225.26,918.82 L225.92,919.57 L226.6,920.31 L227.28,921.04 L227.98,921.76 L228.68,922.48 L229.39,923.19 L230.11,923.89 L230.84,924.58 L231.58,925.26 L232.32,925.94 L233.07,926.61 L233.83,927.27 L234.6,927.92 L235.38,928.57 L236.16,929.2 L236.95,929.83 L237.74,930.45 L238.55,931.06 L239.36,931.67 L240.17,932.26 L241,932.85 L241.83,933.43 L242.66,934 L243.5,934.57 L244.35,935.12 L245.2,935.67 L246.06,936.21 L246.92,936.74 L247.79,937.26 L248.66,937.77 L249.54,938.28 L250.42,938.78 L251.31,939.26 L252.2,939.74 L253.09,940.22 L253.99,940.68 L254.89,941.13 L255.8,941.58 L256.71,942.02 L257.62,942.45 L258.54,942.87 L259.46,943.28 L260.38,943.68 L261.3,944.08 L262.23,944.46 L263.16,944.84 L264.09,945.21 L265.02,945.57 L265.96,945.92 L266.9,946.26 L267.84,946.6 L268.78,946.92 L269.72,947.24 L270.67,947.55 L271.62,947.85 L272.57,948.15 L273.52,948.44 L274.47,948.72 L275.43,948.99 L276.39,949.25 L277.34,949.51 L278.3,949.76 L279.27,950 L280.23,950.24 L281.2,950.47 L282.16,950.69 L283.13,950.91 L284.1,951.12 L285.07,951.32 L286.04,951.52 L287.02,951.71 L287.99,951.89 L288.97,952.07 L289.95,952.25 L290.93,952.41 L291.91,952.58 L292.89,952.73 L293.87,952.88 L294.86,953.03 L295.84,953.17 L296.83,953.31 L297.82,953.44 L298.81,953.56 L299.8,953.68 L300.79,953.8 L301.78,953.91 L302.77,954.02 L303.76,954.12 L304.76,954.22 L305.75,954.32 L306.75,954.41 L307.74,954.5 L308.74,954.58 L309.74,954.66 L310.74,954.74 L311.74,954.81 L312.74,954.88 L313.74,954.95 L314.74,955.01 L315.74,955.07 L316.74,955.13 L317.74,955.18 L318.75,955.23 L319.75,955.28 L320.75,955.33 L321.76,955.38 L322.76,955.42 L323.76,955.46 L324.77,955.5 L325.77,955.54 L326.78,955.57 L327.78,955.61 L328.79,955.64 L329.79,955.67 L330.8,955.7 L331.8,955.73 L332.81,955.75 L333.81,955.78 L334.82,955.8 L335.82,955.83 L336.83,955.85 L337.83,955.87 L338.83,955.9 L339.84,955.92 L340.84,955.94 L341.85,955.96 L342.85,955.98 L343.85,956 L344.86,956.01 L345.86,956.03 L346.86,956.05 L347.87,956.06 L348.87,956.08 L349.87,956.09 L350.88,956.11 L351.88,956.12 L352.88,956.14 L353.88,956.15 L354.89,956.16 L355.89,956.17 L356.89,956.18 L357.89,956.19 L358.9,956.2 L359.9,956.21 L360.9,956.22 L361.9,956.23 L362.91,956.24 L363.91,956.25 L364.91,956.26 L365.91,956.26 L366.91,956.27 L367.91,956.27 L368.92,956.28 L369.92,956.29 L370.92,956.29 L371.92,956.3 L372.92,956.3 L373.92,956.31 L374.92,956.31 L375.92,956.31 L376.93,956.32 L377.93,956.32 L378.93,956.32 L379.93,956.32 L380.93,956.33 L381.93,956.33 L382.93,956.33 L383.93,956.33 L384.93,956.33 L385.94,956.34 L386.94,956.34 L387.94,956.34 L388.94,956.34 L389.94,956.34 L390.94,956.34 L391.94,956.34 L392.94,956.34 L393.94,956.34 L394.94,956.34 L395.94,956.34 L396.94,956.34 L397.95,956.35 L398.95,956.35 L399.95,956.35 L400.95,956.35 L401.95,956.35 L402.95,956.35 L403.95,956.35 L404.95,956.35 L405.95,956.35 L406.95,956.35 L407.95,956.35 L408.96,956.35 L409.96,956.35 L410.96,956.35 L411.96,956.35 L412.96,956.35 L413.96,956.35 L414.96,956.35 L415.96,956.35 L416.96,956.35 L417.96,956.35 L418.97,956.35 L419.97,956.35 L420.97,956.35 L421.97,956.36 L422.97,956.36 L423.97,956.36 L424.97,956.36 L425.97,956.36 L426.97,956.36 L427.98,956.36 L428.98,956.36 L429.98,956.36 L430.98,956.36 L431.98,956.36 L432.98,956.36 L433.98,956.36 L434.98,956.36 L435.99,956.36 L436.99,956.36 L437.99,956.36 L438.99,956.36 L439.99,956.36 L440.99,956.36 L441.99,956.36 L442.99,956.36 L444,956.37 L445,956.37 L446,956.37 L447,956.37 L448,956.37 L449,956.37 L450,956.37 L451,956.37 L452.01,956.37 L453.01,956.37 L454.01,956.37 L455.01,956.37 L456.01,956.37 L457.01,956.37 L458.01,956.37 L459.02,956.37 L460.02,956.37 L461.02,956.37 L462.02,956.37 L463.02,956.37 L464.02,956.37 L465.02,956.38 L466.03,956.38 L467.03,956.38 L468.03,956.38 L469.03,956.38 L470.03,956.38 L471.03,956.38 L472.03,956.38 L473.04,956.38 L474.04,956.38 L475.04,956.38 L476.04,956.38 L477.04,956.38 L478.04,956.38 L479.05,956.38 L480.05,956.38 L481.05,956.38 L482.05,956.38 L483.05,956.38 L484.05,956.38 L485.05,956.38 L486.06,956.38 L487.06,956.39 L488.06,956.39 L489.06,956.39 L490.06,956.39 L491.06,956.39 L492.07,956.39 L493.07,956.39 L494.07,956.39 L495.07,956.39 L496.07,956.39 L497.07,956.39 L498.08,956.39 L499.08,956.39 L500.08,956.39 L501.08,956.39 L502.08,956.39 L503.08,956.39 L504.08,956.39 L505.09,956.39 L506.09,956.39 L507.09,956.39 L508.09,956.39 L509.09,956.39 L510.09,956.39 L511.1,956.4 L512.1,956.4 L513.1,956.4 L514.1,956.4 L515.1,956.4 L516.1,956.4 L517.11,956.4 L518.11,956.4 L519.11,956.4 L520.11,956.4 L521.11,956.4 L522.11,956.4 L523.12,956.4 L524.12,956.4 L525.12,956.4 L526.12,956.4 L527.12,956.4 L528.12,956.4 L529.13,956.4 L530.13,956.4 L531.13,956.4 L532.13,956.4 L533.13,956.4 L534.13,956.4 L535.14,956.4 L536.14,956.4 L537.14,956.4 L538.14,956.4 L539.14,956.4 L540.14,956.4 L541.15,956.41 L542.15,956.41 L543.15,956.41 L544.15,956.41 L545.15,956.41 L546.15,956.41 L547.16,956.41 L548.16,956.41 L549.16,956.41 L550.16,956.41 L551.16,956.41 L552.16,956.41 L553.17,956.41 L554.17,956.41 L555.17,956.41 L556.17,956.41 L557.17,956.41 L558.17,956.41 L559.18,956.41 L560.18,956.41 L561.18,956.41 L562.18,956.41 L563.18,956.41 L564.18,956.41 L565.19,956.41 L566.19,956.41 L567.19,956.41 L568.19,956.41 L569.19,956.41 L570.19,956.41 L571.2,956.41 L572.2,956.41 L573.2,956.41 L574.2,956.41 L575.2,956.41 L576.2,956.41 L577.21,956.41 L578.21,956.41 L579.21,956.41 L580.21,956.41 L581.21,956.41 L582.21,956.41 L583.21,956.41 L584.22,956.41 L585.22,956.41 L586.22,956.41 L587.22,956.41 L588.22,956.41 L589.22,956.41 L590.23,956.41 L591.23,956.41 L592.23,956.41 L593.23,956.41 L594.23,956.41 L595.23,956.41 L596.23,956.41 L597.24,956.41 L598.24,956.41 L599.24,956.41 L600.24,956.41 L601.24,956.41 L602.24,956.41 L603.24,956.41 L604.25,956.41 L605.25,956.41 L606.25,956.41 L607.25,956.41 L608.25,956.41 L609.25,956.41 L610.25,956.41 L611.26,956.41 L612.26,956.41 L613.26,956.41 L614.26,956.41 L615.26,956.41 L616.26,956.41 L617.26,956.41 L618.27,956.41 L619.27,956.41 L620.27,956.41 L621.27,956.41 L622.27,956.41 L623.27,956.41 L624.27,956.41 L625.28,956.41 L626.28,956.41 L627.28,956.41 L628.28,956.41 L629.28,956.41 L630.28,956.41 L631.28,956.41 L632.28,956.41 L633.29,956.4 L634.29,956.4 L635.29,956.4 L636.29,956.4 L637.29,956.4 L638.29,956.4 L639.29,956.4 L640.29,956.4 L641.3,956.4 L642.3,956.4 L643.3,956.4 L644.3,956.4 L645.3,956.4" fill="none" stroke="#0b2a8f" stroke-width="2.3" stroke-linejoin="round" stroke-linecap="butt"/>
<path d="M94.8,1462 L95.72,1462 L96.66,1462 L97.61,1462 L98.56,1462 L99.53,1462 L100.51,1462 L101.5,1462 L102.49,1462 L103.49,1462 L104.5,1462 L105.52,1462 L106.53,1462 L107.56,1462 L108.59,1462 L109.62,1462 L110.65,1462 L111.69,1462 L112.72,1462 L113.76,1462 L114.79,1462 L115.83,1462 L116.86,1462 L117.89,1462 L118.92,1461.97 L119.94,1461.86 L120.96,1461.73 L121.98,1461.58 L122.98,1461.4 L123.98,1461.2 L124.98,1460.98 L125.96,1460.73 L126.94,1460.45 L127.91,1460.15 L128.86,1459.82 L129.81,1459.46 L130.74,1459.08 L131.66,1458.67 L132.56,1458.25 L133.45,1457.79 L134.33,1457.32 L135.19,1456.82 L136.03,1456.3 L136.85,1455.76 L137.65,1455.2 L138.43,1454.62 L139.19,1454.02 L139.93,1453.4 L140.65,1452.76 L141.35,1452.1 L142.03,1451.42 L142.69,1450.73 L143.33,1450.02 L143.96,1449.29 L144.57,1448.55 L145.16,1447.79 L145.73,1447.02 L146.29,1446.23 L146.83,1445.43 L147.36,1444.62 L147.88,1443.79 L148.37,1442.95 L148.86,1442.1 L149.33,1441.24 L149.79,1440.37 L150.24,1439.48 L150.68,1438.59 L151.1,1437.69 L151.52,1436.77 L151.92,1435.85 L152.32,1434.93 L152.71,1433.99 L153.08,1433.05 L153.45,1432.1 L153.81,1431.15 L154.17,1430.19 L154.51,1429.22 L154.85,1428.25 L155.19,1427.28 L155.52,1426.3 L155.84,1425.33 L156.16,1424.34 L156.48,1423.36 L156.79,1422.38 L157.1,1421.39 L157.41,1420.4 L157.71,1419.42 L158.02,1418.43 L158.32,1417.45 L158.62,1416.47 L158.92,1415.48 L159.22,1414.5 L159.52,1413.52 L159.81,1412.54 L160.11,1411.56 L160.4,1410.59 L160.7,1409.61 L160.99,1408.63 L161.28,1407.66 L161.57,1406.68 L161.86,1405.71 L162.15,1404.74 L162.43,1403.76 L162.72,1402.79 L163,1401.82 L163.29,1400.85 L163.57,1399.88 L163.85,1398.91 L164.13,1397.94 L164.41,1396.98 L164.69,1396.01 L164.96,1395.04 L165.24,1394.08 L165.51,1393.11 L165.79,1392.15 L166.06,1391.18 L166.33,1390.22 L166.6,1389.25 L166.87,1388.29 L167.13,1387.33 L167.4,1386.36 L167.66,1385.4 L167.93,1384.44 L168.19,1383.48 L168.45,1382.52 L168.71,1381.55 L168.97,1380.59 L169.23,1379.63 L169.49,1378.67 L169.74,1377.71 L170,1376.75 L170.25,1375.79 L170.51,1374.83 L170.76,1373.87 L171.01,1372.91 L171.26,1371.95 L171.5,1370.99 L171.75,1370.03 L172,1369.07 L172.24,1368.11 L172.48,1367.15 L172.73,1366.19 L172.97,1365.23 L173.21,1364.27 L173.45,1363.31 L173.68,1362.35 L173.92,1361.38 L174.16,1360.42 L174.39,1359.46 L174.62,1358.5 L174.86,1357.54 L175.09,1356.57 L175.32,1355.61 L175.54,1354.65 L175.77,1353.68 L176,1352.72 L176.22,1351.76 L176.45,1350.79 L176.67,1349.83 L176.89,1348.86 L177.11,1347.89 L177.33,1346.93 L177.55,1345.96 L177.77,1344.99 L177.98,1344.03 L178.2,1343.06 L178.42,1342.09 L178.63,1341.12 L178.85,1340.15 L179.06,1339.18 L179.28,1338.21 L179.49,1337.24 L179.7,1336.27 L179.91,1335.3 L180.13,1334.33 L180.34,1333.36 L180.55,1332.39 L180.77,1331.42 L180.98,1330.45 L181.19,1329.47 L181.4,1328.5 L181.62,1327.53 L181.83,1326.56 L182.04,1325.58 L182.26,1324.61 L182.47,1323.64 L182.69,1322.66 L182.9,1321.69 L183.12,1320.72 L183.33,1319.74 L183.55,1318.77 L183.77,1317.8 L183.99,1316.82 L184.21,1315.85 L184.43,1314.87 L184.65,1313.9 L184.87,1312.93 L185.1,1311.95 L185.32,1310.98 L185.55,1310 L185.78,1309.03 L186.01,1308.05 L186.24,1307.08 L186.47,1306.11 L186.7,1305.13 L186.94,1304.16 L187.18,1303.18 L187.41,1302.21 L187.65,1301.24 L187.9,1300.26 L188.14,1299.29 L188.39,1298.32 L188.63,1297.34 L188.88,1296.37 L189.14,1295.4 L189.39,1294.42 L189.65,1293.45 L189.91,1292.48 L190.17,1291.51 L190.43,1290.53 L190.7,1289.56 L190.97,1288.59 L191.24,1287.62 L191.51,1286.65 L191.79,1285.68 L192.07,1284.7 L192.35,1283.73 L192.63,1282.76 L192.92,1281.79 L193.21,1280.82 L193.5,1279.86 L193.8,1278.89 L194.1,1277.92 L194.4,1276.95 L194.71,1275.98 L195.02,1275.01 L195.33,1274.05 L195.65,1273.08 L195.97,1272.11 L196.29,1271.15 L196.62,1270.18 L196.95,1269.22 L197.28,1268.25 L197.62,1267.29 L197.96,1266.32 L198.31,1265.36 L198.66,1264.4 L199.01,1263.43 L199.37,1262.47 L199.73,1261.51 L200.1,1260.55 L200.47,1259.59 L200.84,1258.63 L201.22,1257.67 L201.61,1256.72 L202,1255.76 L202.4,1254.81 L202.8,1253.87 L203.21,1252.92 L203.63,1251.99 L204.05,1251.05 L204.48,1250.13 L204.92,1249.21 L205.37,1248.29 L205.83,1247.38 L206.3,1246.49 L206.78,1245.6 L207.27,1244.71 L207.76,1243.84 L208.27,1242.98 L208.79,1242.13 L209.33,1241.29 L209.87,1240.46 L210.43,1239.64 L211,1238.84 L211.58,1238.04 L212.17,1237.27 L212.78,1236.5 L213.41,1235.75 L214.05,1235.02 L214.7,1234.3 L215.37,1233.6 L216.05,1232.91 L216.75,1232.25 L217.47,1231.6 L218.21,1230.96 L218.96,1230.35 L219.73,1229.76 L220.51,1229.18 L221.32,1228.63 L222.14,1228.1 L222.98,1227.59 L223.83,1227.11 L224.7,1226.65 L225.58,1226.22 L226.47,1225.81 L227.37,1225.43 L228.29,1225.08 L229.21,1224.77 L230.15,1224.48 L231.09,1224.22 L232.03,1224 L232.99,1223.82 L233.95,1223.67 L234.91,1223.55 L235.88,1223.48 L236.85,1223.44 L237.82,1223.44 L238.79,1223.48 L239.77,1223.55 L240.74,1223.65 L241.72,1223.78 L242.7,1223.95 L243.68,1224.14 L244.66,1224.36 L245.63,1224.61 L246.61,1224.87 L247.59,1225.16 L248.57,1225.47 L249.55,1225.8 L250.52,1226.15 L251.49,1226.51 L252.47,1226.89 L253.44,1227.28 L254.4,1227.68 L255.37,1228.09 L256.33,1228.51 L257.29,1228.93 L258.25,1229.37 L259.2,1229.8 L260.14,1230.24 L261.09,1230.67 L262.03,1231.11 L262.96,1231.54 L263.89,1231.98 L264.82,1232.41 L265.75,1232.83 L266.67,1233.26 L267.59,1233.67 L268.51,1234.09 L269.43,1234.5 L270.35,1234.91 L271.27,1235.31 L272.18,1235.7 L273.1,1236.09 L274.02,1236.47 L274.94,1236.84 L275.86,1237.21 L276.79,1237.57 L277.72,1237.92 L278.65,1238.26 L279.58,1238.59 L280.52,1238.92 L281.46,1239.23 L282.4,1239.54 L283.35,1239.83 L284.3,1240.12 L285.25,1240.41 L286.21,1240.68 L287.17,1240.95 L288.13,1241.21 L289.09,1241.46 L290.06,1241.7 L291.03,1241.94 L292,1242.17 L292.97,1242.4 L293.94,1242.61 L294.92,1242.83 L295.9,1243.03 L296.88,1243.23 L297.86,1243.43 L298.84,1243.62 L299.83,1243.8 L300.81,1243.98 L301.8,1244.15 L302.79,1244.32 L303.78,1244.49 L304.77,1244.65 L305.76,1244.81 L306.75,1244.96 L307.74,1245.11 L308.74,1245.25 L309.73,1245.39 L310.72,1245.53 L311.72,1245.67 L312.71,1245.8 L313.71,1245.93 L314.71,1246.06 L315.7,1246.18 L316.7,1246.3 L317.69,1246.42 L318.69,1246.54 L319.68,1246.65 L320.68,1246.76 L321.68,1246.87 L322.67,1246.98 L323.67,1247.08 L324.67,1247.18 L325.67,1247.28 L326.66,1247.38 L327.66,1247.48 L328.66,1247.57 L329.66,1247.66 L330.65,1247.75 L331.65,1247.83 L332.65,1247.91 L333.65,1248 L334.65,1248.07 L335.65,1248.15 L336.64,1248.23 L337.64,1248.3 L338.64,1248.37 L339.64,1248.44 L340.64,1248.51 L341.64,1248.57 L342.64,1248.64 L343.64,1248.7 L344.64,1248.76 L345.64,1248.82 L346.64,1248.88 L347.64,1248.93 L348.64,1248.98 L349.64,1249.04 L350.64,1249.09 L351.64,1249.13 L352.64,1249.18 L353.64,1249.23 L354.64,1249.27 L355.64,1249.31 L356.65,1249.36 L357.65,1249.4 L358.65,1249.43 L359.65,1249.47 L360.65,1249.51 L361.65,1249.54 L362.65,1249.58 L363.65,1249.61 L364.66,1249.64 L365.66,1249.67 L366.66,1249.7 L367.66,1249.73 L368.66,1249.76 L369.67,1249.78 L370.67,1249.81 L371.67,1249.83 L372.67,1249.86 L373.67,1249.88 L374.68,1249.9 L375.68,1249.92 L376.68,1249.94 L377.68,1249.96 L378.68,1249.98 L379.69,1250 L380.69,1250.02 L381.69,1250.03 L382.69,1250.05 L383.7,1250.07 L384.7,1250.08 L385.7,1250.1 L386.7,1250.11 L387.71,1250.13 L388.71,1250.14 L389.71,1250.15 L390.71,1250.17 L391.72,1250.18 L392.72,1250.19 L393.72,1250.21 L394.72,1250.22 L395.73,1250.23 L396.73,1250.24 L397.73,1250.25 L398.73,1250.27 L399.74,1250.28 L400.74,1250.29 L401.74,1250.3 L402.74,1250.31 L403.75,1250.32 L404.75,1250.33 L405.75,1250.34 L406.75,1250.35 L407.76,1250.36 L408.76,1250.37 L409.76,1250.38 L410.76,1250.39 L411.77,1250.4 L412.77,1250.41 L413.77,1250.42 L414.77,1250.43 L415.78,1250.44 L416.78,1250.45 L417.78,1250.46 L418.78,1250.47 L419.78,1250.48 L420.79,1250.48 L421.79,1250.49 L422.79,1250.5 L423.79,1250.51 L424.8,1250.52 L425.8,1250.52 L426.8,1250.53 L427.8,1250.54 L428.81,1250.55 L429.81,1250.55 L430.81,1250.56 L431.81,1250.57 L432.82,1250.57 L433.82,1250.58 L434.82,1250.59 L435.82,1250.59 L436.83,1250.6 L437.83,1250.61 L438.83,1250.61 L439.83,1250.62 L440.83,1250.62 L441.84,1250.63 L442.84,1250.63 L443.84,1250.64 L444.84,1250.64 L445.85,1250.65 L446.85,1250.65 L447.85,1250.66 L448.85,1250.66 L449.86,1250.67 L450.86,1250.67 L451.86,1250.68 L452.86,1250.68 L453.86,1250.69 L454.87,1250.69 L455.87,1250.69 L456.87,1250.7 L457.87,1250.7 L458.88,1250.71 L459.88,1250.71 L460.88,1250.71 L461.88,1250.72 L462.89,1250.72 L463.89,1250.72 L464.89,1250.73 L465.89,1250.73 L466.89,1250.73 L467.9,1250.73 L468.9,1250.74 L469.9,1250.74 L470.9,1250.74 L471.91,1250.75 L472.91,1250.75 L473.91,1250.75 L474.91,1250.75 L475.92,1250.75 L476.92,1250.76 L477.92,1250.76 L478.92,1250.76 L479.92,1250.76 L480.93,1250.76 L481.93,1250.77 L482.93,1250.77 L483.93,1250.77 L484.94,1250.77 L485.94,1250.77 L486.94,1250.77 L487.94,1250.77 L488.94,1250.78 L489.95,1250.78 L490.95,1250.78 L491.95,1250.78 L492.95,1250.78 L493.96,1250.78 L494.96,1250.78 L495.96,1250.78 L496.96,1250.78 L497.96,1250.78 L498.97,1250.78 L499.97,1250.78 L500.97,1250.78 L501.97,1250.78 L502.98,1250.79 L503.98,1250.79 L504.98,1250.79 L505.98,1250.79 L506.98,1250.79 L507.99,1250.79 L508.99,1250.79 L509.99,1250.79 L510.99,1250.79 L512,1250.79 L513,1250.79 L514,1250.79 L515,1250.78 L516,1250.78 L517.01,1250.78 L518.01,1250.78 L519.01,1250.78 L520.01,1250.78 L521.02,1250.78 L522.02,1250.78 L523.02,1250.78 L524.02,1250.78 L525.02,1250.78 L526.03,1250.78 L527.03,1250.78 L528.03,1250.78 L529.03,1250.78 L530.04,1250.78 L531.04,1250.78 L532.04,1250.78 L533.04,1250.77 L534.04,1250.77 L535.05,1250.77 L536.05,1250.77 L537.05,1250.77 L538.05,1250.77 L539.06,1250.77 L540.06,1250.77 L541.06,1250.77 L542.06,1250.77 L543.06,1250.77 L544.07,1250.76 L545.07,1250.76 L546.07,1250.76 L547.07,1250.76 L548.08,1250.76 L549.08,1250.76 L550.08,1250.76 L551.08,1250.76 L552.08,1250.76 L553.09,1250.75 L554.09,1250.75 L555.09,1250.75 L556.09,1250.75 L557.1,1250.75 L558.1,1250.75 L559.1,1250.75 L560.1,1250.75 L561.1,1250.75 L562.11,1250.75 L563.11,1250.74 L564.11,1250.74 L565.11,1250.74 L566.12,1250.74 L567.12,1250.74 L568.12,1250.74 L569.12,1250.74 L570.12,1250.74 L571.13,1250.74 L572.13,1250.74 L573.13,1250.74 L574.13,1250.73 L575.14,1250.73 L576.14,1250.73 L577.14,1250.73 L578.14,1250.73 L579.15,1250.73 L580.15,1250.73 L581.15,1250.73 L582.15,1250.73 L583.15,1250.73 L584.16,1250.73 L585.16,1250.73 L586.16,1250.73 L587.16,1250.73 L588.17,1250.73 L589.17,1250.73 L590.17,1250.73 L591.17,1250.73 L592.17,1250.73 L593.18,1250.73 L594.18,1250.72 L595.18,1250.72 L596.18,1250.72 L597.19,1250.72 L598.19,1250.72 L599.19,1250.72 L600.19,1250.73 L601.2,1250.73 L602.2,1250.73 L603.2,1250.73 L604.2,1250.73 L605.2,1250.73 L606.21,1250.73 L607.21,1250.73 L608.21,1250.73 L609.21,1250.73 L610.22,1250.73 L611.22,1250.73 L612.22,1250.73 L613.22,1250.73 L614.23,1250.73 L615.23,1250.73 L616.23,1250.74 L617.23,1250.74 L618.24,1250.74 L619.24,1250.74 L620.24,1250.74 L621.24,1250.74 L622.24,1250.74 L623.25,1250.74 L624.25,1250.75 L625.25,1250.75 L626.25,1250.75 L627.26,1250.75 L628.26,1250.75 L629.26,1250.76 L630.26,1250.76 L631.27,1250.76 L632.27,1250.76 L633.27,1250.76 L634.27,1250.77 L635.28,1250.77 L636.28,1250.77 L637.28,1250.78 L638.28,1250.78 L639.29,1250.78 L640.29,1250.78 L641.29,1250.79 L642.29,1250.79 L643.3,1250.79 L644.3,1250.8 L645.3,1250.8" fill="none" stroke="#e60000" stroke-width="2.3" stroke-linejoin="round" stroke-linecap="butt"/>
<path d="M95,1461.9 L97.74,1461.89 L100.49,1461.87 L103.23,1461.86 L105.97,1461.84 L108.72,1461.83 L111.46,1461.82 L114.21,1461.8 L116.95,1461.79 L119.69,1461.78 L122.44,1461.77 L125.18,1461.75 L127.92,1461.74 L130.67,1461.73 L133.41,1461.71 L136.16,1461.7 L138.9,1461.69 L141.64,1461.68 L144.39,1461.67 L147.13,1461.65 L149.88,1461.64 L152.62,1461.63 L155.36,1461.62 L158.11,1461.61 L160.85,1461.6 L163.59,1461.58 L166.34,1461.57 L169.08,1461.56 L171.82,1461.55 L174.57,1461.54 L177.31,1461.53 L180.06,1461.52 L182.8,1461.51 L185.54,1461.5 L188.29,1461.49 L191.03,1461.48 L193.77,1461.47 L196.52,1461.46 L199.26,1461.45 L202.01,1461.44 L204.75,1461.43 L207.49,1461.42 L210.24,1461.41 L212.98,1461.4 L215.72,1461.39 L218.47,1461.38 L221.21,1461.37 L223.96,1461.36 L226.7,1461.35 L229.44,1461.34 L232.19,1461.33 L234.93,1461.32 L237.67,1461.32 L240.42,1461.31 L243.16,1461.3 L245.91,1461.29 L248.65,1461.28 L251.39,1461.27 L254.14,1461.26 L256.88,1461.26 L259.62,1461.25 L262.37,1461.24 L265.11,1461.23 L267.86,1461.22 L270.6,1461.22 L273.34,1461.21 L276.09,1461.2 L278.83,1461.19 L281.57,1461.18 L284.32,1461.18 L287.06,1461.17 L289.81,1461.16 L292.55,1461.15 L295.29,1461.15 L298.04,1461.14 L300.78,1461.13 L303.52,1461.13 L306.27,1461.12 L309.01,1461.11 L311.76,1461.1 L314.5,1461.1 L317.24,1461.09 L319.99,1461.08 L322.73,1461.08 L325.48,1461.07 L328.22,1461.06 L330.96,1461.06 L333.71,1461.05 L336.45,1461.05 L339.19,1461.04 L341.94,1461.03 L344.68,1461.03 L347.42,1461.02 L350.17,1461.01 L352.91,1461.01 L355.66,1461 L358.4,1461 L361.14,1460.99 L363.89,1460.98 L366.63,1460.98 L369.38,1460.97 L372.12,1460.97 L374.86,1460.96 L377.61,1460.96 L380.35,1460.95 L383.09,1460.95 L385.84,1460.94 L388.58,1460.93 L391.32,1460.93 L394.07,1460.92 L396.81,1460.92 L399.56,1460.91 L402.3,1460.91 L405.04,1460.9 L407.79,1460.9 L410.53,1460.89 L413.27,1460.89 L416.02,1460.88 L418.76,1460.88 L421.51,1460.87 L424.25,1460.87 L426.99,1460.86 L429.74,1460.86 L432.48,1460.86 L435.22,1460.85 L437.97,1460.85 L440.71,1460.84 L443.46,1460.84 L446.2,1460.83 L448.94,1460.83 L451.69,1460.82 L454.43,1460.82 L457.18,1460.82 L459.92,1460.81 L462.66,1460.81 L465.41,1460.8 L468.15,1460.8 L470.89,1460.79 L473.64,1460.79 L476.38,1460.79 L479.12,1460.78 L481.87,1460.78 L484.61,1460.77 L487.36,1460.77 L490.1,1460.77 L492.84,1460.76 L495.59,1460.76 L498.33,1460.76 L501.07,1460.75 L503.82,1460.75 L506.56,1460.74 L509.31,1460.74 L512.05,1460.74 L514.79,1460.73 L517.54,1460.73 L520.28,1460.73 L523.02,1460.72 L525.77,1460.72 L528.51,1460.72 L531.26,1460.71 L534,1460.71 L536.74,1460.71 L539.49,1460.7 L542.23,1460.7 L544.97,1460.7 L547.72,1460.69 L550.46,1460.69 L553.21,1460.69 L555.95,1460.69 L558.69,1460.68 L561.44,1460.68 L564.18,1460.68 L566.92,1460.67 L569.67,1460.67 L572.41,1460.67 L575.16,1460.66 L577.9,1460.66 L580.64,1460.66 L583.39,1460.66 L586.13,1460.65 L588.88,1460.65 L591.62,1460.65 L594.36,1460.64 L597.11,1460.64 L599.85,1460.64 L602.59,1460.64 L605.34,1460.63 L608.08,1460.63 L610.82,1460.63 L613.57,1460.63 L616.31,1460.62 L619.06,1460.62 L621.8,1460.62 L624.54,1460.62 L627.29,1460.61 L630.03,1460.61 L632.77,1460.61 L635.52,1460.61 L638.26,1460.6 L641.01,1460.6 L643.75,1460.6" fill="none" stroke="#000" stroke-width="2.4" stroke-linejoin="round" stroke-linecap="butt"/>
<text x="613.3" y="904.8" font-size="46.3" text-anchor="middle" >(c)</text>
<text transform="translate(32.5,1139.5) rotate(-90)" font-size="37.5" text-anchor="middle"><tspan font-style="italic">R</tspan> per cell</text>
<line x1="854.1" y1="1469" x2="1373" y2="1469" stroke="#3c3c3c" stroke-width="1.2"/>
<line x1="864.4" y1="779.6" x2="864.4" y2="1505.6" stroke="#3c3c3c" stroke-width="1.2"/>
<line x1="964.05" y1="1469" x2="964.05" y2="1463.5" stroke="#3c3c3c" stroke-width="1.2"/>
<line x1="1063.9" y1="1469" x2="1063.9" y2="1463.5" stroke="#3c3c3c" stroke-width="1.2"/>
<line x1="1163.75" y1="1469" x2="1163.75" y2="1463.5" stroke="#3c3c3c" stroke-width="1.2"/>
<line x1="1263.6" y1="1469" x2="1263.6" y2="1463.5" stroke="#3c3c3c" stroke-width="1.2"/>
<line x1="1363.45" y1="1469" x2="1363.45" y2="1463.5" stroke="#3c3c3c" stroke-width="1.2"/>
<line x1="864.4" y1="1360.88" x2="869.9" y2="1360.88" stroke="#3c3c3c" stroke-width="1.2"/>
<line x1="864.4" y1="1252.75" x2="869.9" y2="1252.75" stroke="#3c3c3c" stroke-width="1.2"/>
<line x1="864.4" y1="1144.62" x2="869.9" y2="1144.62" stroke="#3c3c3c" stroke-width="1.2"/>
<line x1="864.4" y1="1036.5" x2="869.9" y2="1036.5" stroke="#3c3c3c" stroke-width="1.2"/>
<line x1="864.4" y1="928.38" x2="869.9" y2="928.38" stroke="#3c3c3c" stroke-width="1.2"/>
<line x1="864.4" y1="820.25" x2="869.9" y2="820.25" stroke="#3c3c3c" stroke-width="1.2"/>
<line x1="864.4" y1="1490.62" x2="867.7" y2="1490.62" stroke="#3c3c3c" stroke-width="1.2"/>
<line x1="864.4" y1="1447.38" x2="867.7" y2="1447.38" stroke="#3c3c3c" stroke-width="1.2"/>
<line x1="864.4" y1="1425.75" x2="867.7" y2="1425.75" stroke="#3c3c3c" stroke-width="1.2"/>
<line x1="864.4" y1="1404.12" x2="867.7" y2="1404.12" stroke="#3c3c3c" stroke-width="1.2"/>
<line x1="864.4" y1="1382.5" x2="867.7" y2="1382.5" stroke="#3c3c3c" stroke-width="1.2"/>
<line x1="864.4" y1="1339.25" x2="867.7" y2="1339.25" stroke="#3c3c3c" stroke-width="1.2"/>
<line x1="864.4" y1="1317.62" x2="867.7" y2="1317.62" stroke="#3c3c3c" stroke-width="1.2"/>
<line x1="864.4" y1="1296" x2="867.7" y2="1296" stroke="#3c3c3c" stroke-width="1.2"/>
<line x1="864.4" y1="1274.38" x2="867.7" y2="1274.38" stroke="#3c3c3c" stroke-width="1.2"/>
<line x1="864.4" y1="1231.12" x2="867.7" y2="1231.12" stroke="#3c3c3c" stroke-width="1.2"/>
<line x1="864.4" y1="1209.5" x2="867.7" y2="1209.5" stroke="#3c3c3c" stroke-width="1.2"/>
<line x1="864.4" y1="1187.88" x2="867.7" y2="1187.88" stroke="#3c3c3c" stroke-width="1.2"/>
<line x1="864.4" y1="1166.25" x2="867.7" y2="1166.25" stroke="#3c3c3c" stroke-width="1.2"/>
<line x1="864.4" y1="1123" x2="867.7" y2="1123" stroke="#3c3c3c" stroke-width="1.2"/>
<line x1="864.4" y1="1101.38" x2="867.7" y2="1101.38" stroke="#3c3c3c" stroke-width="1.2"/>
<line x1="864.4" y1="1079.75" x2="867.7" y2="1079.75" stroke="#3c3c3c" stroke-width="1.2"/>
<line x1="864.4" y1="1058.12" x2="867.7" y2="1058.12" stroke="#3c3c3c" stroke-width="1.2"/>
<line x1="864.4" y1="1014.88" x2="867.7" y2="1014.88" stroke="#3c3c3c" stroke-width="1.2"/>
<line x1="864.4" y1="993.25" x2="867.7" y2="993.25" stroke="#3c3c3c" stroke-width="1.2"/>
<line x1="864.4" y1="971.62" x2="867.7" y2="971.62" stroke="#3c3c3c" stroke-width="1.2"/>
<line x1="864.4" y1="950" x2="867.7" y2="950" stroke="#3c3c3c" stroke-width="1.2"/>
<line x1="864.4" y1="906.75" x2="867.7" y2="906.75" stroke="#3c3c3c" stroke-width="1.2"/>
<line x1="864.4" y1="885.12" x2="867.7" y2="885.12" stroke="#3c3c3c" stroke-width="1.2"/>
<line x1="864.4" y1="863.5" x2="867.7" y2="863.5" stroke="#3c3c3c" stroke-width="1.2"/>
<line x1="864.4" y1="841.88" x2="867.7" y2="841.88" stroke="#3c3c3c" stroke-width="1.2"/>
<line x1="864.4" y1="798.62" x2="867.7" y2="798.62" stroke="#3c3c3c" stroke-width="1.2"/>
<text transform="translate(964.05,1503.1) scale(0.92,1)" font-size="33" text-anchor="middle">2000</text>
<text transform="translate(1063.9,1503.1) scale(0.92,1)" font-size="33" text-anchor="middle">4000</text>
<text transform="translate(1163.75,1503.1) scale(0.92,1)" font-size="33" text-anchor="middle">6000</text>
<text transform="translate(1263.6,1503.1) scale(0.92,1)" font-size="33" text-anchor="middle">8000</text>
<text transform="translate(1363.45,1503.1) scale(0.92,1)" font-size="33" text-anchor="middle">10&#8201;000</text>
<text transform="translate(859.5,1373.28) scale(0.92,1)" font-size="33" text-anchor="end">500</text>
<text transform="translate(859.5,1265.15) scale(0.92,1)" font-size="33" text-anchor="end">1000</text>
<text transform="translate(859.5,1157.03) scale(0.92,1)" font-size="33" text-anchor="end">1500</text>
<text transform="translate(859.5,1048.9) scale(0.92,1)" font-size="33" text-anchor="end">2000</text>
<text transform="translate(859.5,940.77) scale(0.92,1)" font-size="33" text-anchor="end">2500</text>
<text transform="translate(859.5,832.65) scale(0.92,1)" font-size="33" text-anchor="end">3000</text>
<path d="M864.07,1468.7 L864.42,1464.77 L864.78,1459.77 L865.13,1454.81 L865.49,1449.88 L865.84,1444.98 L866.19,1440.11 L866.54,1435.28 L866.89,1430.49 L867.24,1425.73 L867.58,1421.01 L867.93,1416.32 L868.27,1411.66 L868.62,1407.05 L868.96,1402.46 L869.3,1397.91 L869.65,1393.4 L869.99,1388.91 L870.33,1384.47 L870.67,1380.05 L871,1375.67 L871.34,1371.32 L871.68,1367.01 L872.02,1362.73 L872.35,1358.48 L872.69,1354.26 L873.02,1350.08 L873.35,1345.93 L873.69,1341.81 L874.02,1337.72 L874.35,1333.66 L874.69,1329.63 L875.02,1325.64 L875.35,1321.67 L875.68,1317.74 L876.01,1313.83 L876.34,1309.96 L876.67,1306.12 L877,1302.3 L877.33,1298.51 L877.66,1294.76 L877.99,1291.03 L878.32,1287.33 L878.65,1283.66 L878.97,1280.02 L879.3,1276.4 L879.63,1272.82 L879.96,1269.26 L880.28,1265.73 L880.61,1262.22 L880.94,1258.74 L881.27,1255.29 L881.59,1251.87 L881.92,1248.47 L882.25,1245.1 L882.57,1241.76 L882.9,1238.44 L883.22,1235.14 L883.55,1231.87 L883.88,1228.63 L884.2,1225.41 L884.53,1222.22 L884.85,1219.05 L885.18,1215.91 L885.51,1212.79 L885.83,1209.69 L886.16,1206.62 L886.48,1203.57 L886.81,1200.55 L887.14,1197.55 L887.46,1194.57 L887.79,1191.62 L888.11,1188.68 L888.44,1185.77 L888.77,1182.89 L889.09,1180.02 L889.42,1177.18 L889.74,1174.36 L890.07,1171.56 L890.4,1168.79 L890.72,1166.03 L891.05,1163.3 L891.37,1160.59 L891.7,1157.89 L892.03,1155.22 L892.35,1152.57 L892.68,1149.94 L893.01,1147.34 L893.33,1144.75 L893.66,1142.18 L893.99,1139.63 L894.31,1137.1 L894.64,1134.59 L894.97,1132.1 L895.29,1129.63 L895.62,1127.18 L895.95,1124.75 L896.28,1122.33 L896.6,1119.94 L896.93,1117.56 L897.26,1115.21 L897.59,1112.87 L897.91,1110.55 L898.24,1108.24 L898.57,1105.96 L898.9,1103.69 L899.23,1101.44 L899.55,1099.21 L899.88,1096.99 L900.21,1094.79 L900.54,1092.61 L900.87,1090.45 L901.2,1088.3 L901.53,1086.17 L901.86,1084.06 L902.18,1081.96 L902.51,1079.88 L902.84,1077.81 L903.17,1075.76 L903.5,1073.73 L903.83,1071.71 L904.16,1069.71 L904.49,1067.73 L904.82,1065.76 L905.15,1063.8 L905.48,1061.86 L905.81,1059.94 L906.14,1058.03 L906.47,1056.13 L906.8,1054.25 L907.13,1052.39 L907.46,1050.53 L907.79,1048.7 L908.12,1046.87 L908.45,1045.07 L908.78,1043.27 L909.11,1041.49 L909.44,1039.73 L909.77,1037.97 L910.11,1036.23 L910.44,1034.51 L910.77,1032.8 L911.1,1031.1 L911.43,1029.41 L911.76,1027.74 L912.09,1026.08 L912.43,1024.43 L912.76,1022.8 L913.09,1021.18 L913.42,1019.57 L913.75,1017.97 L914.08,1016.39 L914.42,1014.82 L914.75,1013.26 L915.08,1011.71 L915.41,1010.18 L915.75,1008.66 L916.08,1007.15 L916.41,1005.65 L916.74,1004.16 L917.08,1002.68 L917.41,1001.22 L917.74,999.77 L918.07,998.33 L918.41,996.9 L918.74,995.48 L919.07,994.07 L919.4,992.67 L919.74,991.28 L920.07,989.91 L920.4,988.54 L920.74,987.19 L921.07,985.85 L921.4,984.51 L921.74,983.19 L922.07,981.88 L922.4,980.58 L922.74,979.28 L923.07,978 L923.41,976.73 L923.74,975.47 L924.07,974.22 L924.41,972.97 L924.74,971.74 L925.07,970.52 L925.41,969.3 L925.74,968.1 L926.08,966.91 L926.41,965.72 L926.74,964.54 L927.08,963.38 L927.41,962.22 L927.75,961.07 L928.08,959.93 L928.42,958.8 L928.75,957.68 L929.08,956.56 L929.42,955.46 L929.75,954.36 L930.09,953.28 L930.42,952.2 L930.76,951.13 L931.09,950.06 L931.43,949.01 L931.76,947.96 L932.1,946.93 L932.43,945.9 L932.77,944.88 L933.1,943.86 L933.44,942.86 L933.77,941.86 L934.1,940.87 L934.44,939.89 L934.77,938.91 L935.11,937.95 L935.44,936.99 L935.78,936.03 L936.11,935.09 L936.45,934.15 L936.79,933.22 L937.12,932.3 L937.46,931.39 L937.79,930.48 L938.13,929.58 L938.46,928.68 L938.8,927.8 L939.13,926.92 L939.47,926.04 L939.8,925.18 L940.14,924.32 L940.47,923.46 L940.81,922.62 L941.14,921.78 L941.48,920.95 L941.81,920.12 L942.15,919.3 L942.49,918.49 L942.82,917.68 L943.16,916.88 L943.49,916.08 L943.83,915.29 L944.16,914.51 L944.5,913.74 L944.84,912.97 L945.17,912.2 L945.51,911.44 L945.84,910.69 L946.18,909.95 L946.52,909.21 L946.85,908.47 L947.19,907.74 L947.52,907.02 L947.86,906.3 L948.2,905.59 L948.53,904.89 L948.87,904.19 L949.2,903.49 L949.54,902.8 L949.88,902.12 L950.21,901.44 L950.55,900.76 L950.89,900.1 L951.22,899.43 L951.56,898.78 L951.9,898.12 L952.23,897.48 L952.57,896.83 L952.91,896.2 L953.24,895.57 L953.58,894.94 L953.92,894.32 L954.25,893.7 L954.59,893.09 L954.93,892.48 L955.26,891.88 L955.6,891.28 L955.94,890.69 L956.27,890.1 L956.61,889.51 L956.95,888.93 L957.28,888.36 L957.62,887.79 L957.96,887.22 L958.29,886.66 L958.63,886.1 L958.97,885.55 L959.31,885 L959.64,884.46 L959.98,883.92 L960.32,883.39 L960.65,882.85 L960.99,882.33 L961.33,881.81 L961.66,881.29 L962,880.77 L962.34,880.26 L962.67,879.76 L963.01,879.25 L963.35,878.76 L963.69,878.26 L964.02,877.77 L964.36,877.28 L964.7,876.8 L965.03,876.32 L965.37,875.85 L965.71,875.38 L966.04,874.91 L966.38,874.44 L966.72,873.98 L967.05,873.53 L967.39,873.07 L967.72,872.62 L968.06,872.18 L968.4,871.73 L968.73,871.3 L969.07,870.86 L969.41,870.43 L969.74,870 L970.08,869.57 L970.41,869.15 L970.75,868.73 L971.09,868.32 L971.42,867.9 L971.76,867.5 L972.09,867.09 L972.43,866.69 L972.77,866.29 L973.1,865.89 L973.44,865.5 L973.77,865.11 L974.11,864.72 L974.44,864.34 L974.78,863.96 L975.12,863.58 L975.45,863.2 L975.79,862.83 L976.12,862.46 L976.46,862.1 L976.79,861.73 L977.13,861.37 L977.46,861.01 L977.8,860.66 L978.13,860.31 L978.47,859.96 L978.8,859.61 L979.14,859.27 L979.47,858.93 L979.81,858.59 L980.14,858.25 L980.48,857.92 L980.81,857.59 L981.15,857.26 L981.48,856.93 L981.82,856.61 L982.15,856.29 L982.48,855.97 L982.82,855.66 L983.15,855.34 L983.49,855.03 L983.82,854.72 L984.16,854.42 L984.49,854.11 L984.82,853.81 L985.16,853.51 L985.49,853.22 L985.83,852.92 L986.16,852.63 L986.49,852.34 L986.83,852.06 L987.16,851.77 L987.5,851.49 L987.83,851.21 L988.16,850.93 L988.5,850.65 L988.83,850.38 L989.16,850.11 L989.5,849.84 L989.83,849.57 L990.17,849.3 L990.5,849.04 L990.83,848.78 L991.17,848.52 L991.5,848.26 L991.83,848 L992.17,847.75 L992.5,847.5 L992.83,847.25 L993.17,847 L993.5,846.76 L993.83,846.51 L994.16,846.27 L994.5,846.03 L994.83,845.79 L995.16,845.55 L995.5,845.32 L995.83,845.09 L996.16,844.85 L996.5,844.63 L996.83,844.4 L997.16,844.17 L997.49,843.95 L997.83,843.73 L998.16,843.51 L998.49,843.29 L998.83,843.07 L999.16,842.85 L999.49,842.64 L999.82,842.43 L1000.16,842.22 L1000.49,842.01 L1000.82,841.8 L1001.16,841.59 L1001.49,841.39 L1001.82,841.19 L1002.15,840.99 L1002.49,840.79 L1002.82,840.59 L1003.15,840.39 L1003.48,840.2 L1003.82,840.01 L1004.15,839.81 L1004.48,839.62 L1004.81,839.43 L1005.15,839.25 L1005.48,839.06 L1005.81,838.88 L1006.14,838.69 L1006.48,838.51 L1006.81,838.33 L1007.14,838.15 L1007.47,837.97 L1007.81,837.8 L1008.14,837.62 L1008.47,837.45 L1008.8,837.28 L1009.14,837.11 L1009.47,836.94 L1009.8,836.77 L1010.13,836.6 L1010.47,836.44 L1010.8,836.27 L1011.13,836.11 L1011.46,835.95 L1011.8,835.79 L1012.13,835.63 L1012.46,835.47 L1012.79,835.31 L1013.13,835.16 L1013.46,835 L1013.79,834.85 L1014.12,834.7 L1014.46,834.55 L1014.79,834.4 L1015.12,834.25 L1015.45,834.1 L1015.79,833.95 L1016.12,833.81 L1016.45,833.66 L1016.78,833.52 L1017.12,833.38 L1017.45,833.24 L1017.78,833.1 L1018.11,832.96 L1018.45,832.82 L1018.78,832.69 L1019.11,832.55 L1019.44,832.42 L1019.78,832.28 L1020.11,832.15 L1020.44,832.02 L1020.77,831.89 L1021.11,831.76 L1021.44,831.63 L1021.77,831.51 L1022.1,831.38 L1022.44,831.25 L1022.77,831.13 L1023.1,831.01 L1023.43,830.88 L1023.77,830.76 L1024.1,830.64 L1024.43,830.52 L1024.76,830.4 L1025.1,830.29 L1025.43,830.17 L1025.76,830.05 L1026.09,829.94 L1026.43,829.82 L1026.76,829.71 L1027.09,829.6 L1027.43,829.49 L1027.76,829.38 L1028.09,829.27 L1028.42,829.16 L1028.76,829.05 L1029.09,828.94 L1029.42,828.84 L1029.75,828.73 L1030.09,828.63 L1030.42,828.52 L1030.75,828.42 L1031.08,828.32 L1031.42,828.21 L1031.75,828.11 L1032.08,828.01 L1032.41,827.91 L1032.75,827.82 L1033.08,827.72 L1033.41,827.62 L1033.75,827.52 L1034.08,827.43 L1034.41,827.33 L1034.74,827.24 L1035.08,827.15 L1035.41,827.05 L1035.74,826.96 L1036.07,826.87 L1036.41,826.78 L1036.74,826.69 L1037.07,826.6 L1037.4,826.51 L1037.74,826.43 L1038.07,826.34 L1038.4,826.25 L1038.74,826.17 L1039.07,826.08 L1039.4,826 L1039.73,825.92 L1040.07,825.83 L1040.4,825.75 L1040.73,825.67 L1041.07,825.59 L1041.4,825.51 L1041.73,825.43 L1042.06,825.35 L1042.4,825.27 L1042.73,825.19 L1043.06,825.12 L1043.39,825.04 L1043.73,824.96 L1044.06,824.89 L1044.39,824.81 L1044.73,824.74 L1045.06,824.66 L1045.39,824.59 L1045.72,824.52 L1046.06,824.45 L1046.39,824.38 L1046.72,824.3 L1047.06,824.23 L1047.39,824.16 L1047.72,824.1 L1048.05,824.03 L1048.39,823.96 L1048.72,823.89 L1049.05,823.82 L1049.39,823.76 L1049.72,823.69 L1050.05,823.63 L1050.38,823.56 L1050.72,823.5 L1051.05,823.43 L1051.38,823.37 L1051.72,823.31 L1052.05,823.24 L1052.38,823.18 L1052.71,823.12 L1053.05,823.06 L1053.38,823 L1053.71,822.94 L1054.05,822.88 L1054.38,822.82 L1054.71,822.76 L1055.05,822.7 L1055.38,822.65 L1055.71,822.59 L1056.04,822.53 L1056.38,822.47 L1056.71,822.42 L1057.04,822.36 L1057.38,822.31 L1057.71,822.25 L1058.04,822.2 L1058.37,822.15 L1058.71,822.09 L1059.04,822.04 L1059.37,821.99 L1059.71,821.93 L1060.04,821.88 L1060.37,821.83 L1060.71,821.78 L1061.04,821.73 L1061.37,821.68 L1061.7,821.63 L1062.04,821.58 L1062.37,821.53 L1062.7,821.48 L1063.04,821.44 L1063.37,821.39 L1063.7,821.34 L1064.04,821.29 L1064.37,821.25 L1064.7,821.2 L1065.03,821.15 L1065.37,821.11 L1065.7,821.06 L1066.03,821.02 L1066.37,820.97 L1066.7,820.93 L1067.03,820.89 L1067.37,820.84 L1067.7,820.8 L1068.03,820.76 L1068.36,820.71 L1068.7,820.67 L1069.03,820.63 L1069.36,820.59 L1069.7,820.55 L1070.03,820.51 L1070.36,820.47 L1070.7,820.43 L1071.03,820.39 L1071.36,820.35 L1071.69,820.31 L1072.03,820.27 L1072.36,820.23 L1072.69,820.19 L1073.03,820.15 L1073.36,820.12 L1073.69,820.08 L1074.03,820.04 L1074.36,820 L1074.69,819.97 L1075.02,819.93 L1075.36,819.9 L1075.69,819.86 L1076.02,819.83 L1076.36,819.79 L1076.69,819.76 L1077.02,819.72 L1077.36,819.69 L1077.69,819.65 L1078.02,819.62 L1078.35,819.59 L1078.69,819.55 L1079.02,819.52 L1079.35,819.49 L1079.69,819.45 L1080.02,819.42 L1080.35,819.39 L1080.69,819.36 L1081.02,819.33 L1081.35,819.3 L1081.68,819.26 L1082.02,819.23 L1082.35,819.2 L1082.68,819.17 L1083.02,819.14 L1083.35,819.11 L1083.68,819.08 L1084.02,819.05 L1084.35,819.03 L1084.68,819 L1085.02,818.97 L1085.35,818.94 L1085.68,818.91 L1086.01,818.88 L1086.35,818.86 L1086.68,818.83 L1087.01,818.8 L1087.35,818.77 L1087.68,818.75 L1088.01,818.72 L1088.35,818.69 L1088.68,818.67 L1089.01,818.64 L1089.35,818.62 L1089.68,818.59 L1090.01,818.57 L1090.34,818.54 L1090.68,818.52 L1091.01,818.49 L1091.34,818.47 L1091.68,818.44 L1092.01,818.42 L1092.34,818.39 L1092.68,818.37 L1093.01,818.35 L1093.34,818.32 L1093.67,818.3 L1094.01,818.28 L1094.34,818.25 L1094.67,818.23 L1095.01,818.21 L1095.34,818.19 L1095.67,818.16 L1096.01,818.14 L1096.34,818.12 L1096.67,818.1 L1097.01,818.08 L1097.34,818.06 L1097.67,818.04 L1098,818.01 L1098.34,817.99 L1098.67,817.97 L1099,817.95 L1099.34,817.93 L1099.67,817.91 L1100,817.89 L1100.34,817.87 L1100.67,817.85 L1101,817.83 L1101.33,817.81 L1101.67,817.79 L1102,817.78 L1102.33,817.76 L1102.67,817.74 L1103,817.72 L1103.33,817.7 L1103.67,817.68 L1104,817.66 L1104.33,817.65 L1104.67,817.63 L1105,817.61 L1105.33,817.59 L1105.66,817.58 L1106,817.56 L1106.33,817.54 L1106.66,817.52 L1107,817.51 L1107.33,817.49 L1107.66,817.47 L1108,817.46 L1108.33,817.44 L1108.66,817.43 L1109,817.41 L1109.33,817.39 L1109.66,817.38 L1109.99,817.36 L1110.33,817.35 L1110.66,817.33 L1110.99,817.32 L1111.33,817.3 L1111.66,817.29 L1111.99,817.27 L1112.33,817.26 L1112.66,817.24 L1112.99,817.23 L1113.33,817.21 L1113.66,817.2 L1113.99,817.18 L1114.32,817.17 L1114.66,817.16 L1114.99,817.14 L1115.32,817.13 L1115.66,817.11 L1115.99,817.1 L1116.32,817.09 L1116.66,817.07 L1116.99,817.06 L1117.32,817.05 L1117.65,817.03 L1117.99,817.02 L1118.32,817.01 L1118.65,817 L1118.99,816.98 L1119.32,816.97 L1119.65,816.96 L1119.99,816.95 L1120.32,816.93 L1120.65,816.92 L1120.99,816.91 L1121.32,816.9 L1121.65,816.89 L1121.98,816.87 L1122.32,816.86 L1122.65,816.85 L1122.98,816.84 L1123.32,816.83 L1123.65,816.82 L1123.98,816.81 L1124.32,816.8 L1124.65,816.78 L1124.98,816.77 L1125.32,816.76 L1125.65,816.75 L1125.98,816.74 L1126.31,816.73 L1126.65,816.72 L1126.98,816.71 L1127.31,816.7 L1127.65,816.69 L1127.98,816.68 L1128.31,816.67 L1128.65,816.66 L1128.98,816.65 L1129.31,816.64 L1129.65,816.63 L1129.98,816.62 L1130.31,816.61 L1130.64,816.6 L1130.98,816.59 L1131.31,816.58 L1131.64,816.57 L1131.98,816.56 L1132.31,816.56 L1132.64,816.55 L1132.98,816.54 L1133.31,816.53 L1133.64,816.52 L1133.97,816.51 L1134.31,816.5 L1134.64,816.49 L1134.97,816.49 L1135.31,816.48 L1135.64,816.47 L1135.97,816.46 L1136.31,816.45 L1136.64,816.44 L1136.97,816.44 L1137.31,816.43 L1137.64,816.42 L1137.97,816.41 L1138.3,816.4 L1138.64,816.4 L1138.97,816.39 L1139.3,816.38 L1139.64,816.37 L1139.97,816.37 L1140.3,816.36 L1140.64,816.35 L1140.97,816.34 L1141.3,816.34 L1141.64,816.33 L1141.97,816.32 L1142.3,816.32 L1142.63,816.31 L1142.97,816.3 L1143.3,816.29 L1143.63,816.29 L1143.97,816.28 L1144.3,816.27 L1144.63,816.27 L1144.97,816.26 L1145.3,816.25 L1145.63,816.25 L1145.97,816.24 L1146.3,816.23 L1146.63,816.23 L1146.96,816.22 L1147.3,816.22 L1147.63,816.21 L1147.96,816.2 L1148.3,816.2 L1148.63,816.19 L1148.96,816.19 L1149.3,816.18 L1149.63,816.17 L1149.96,816.17 L1150.29,816.16 L1150.63,816.16 L1150.96,816.15 L1151.29,816.14 L1151.63,816.14 L1151.96,816.13 L1152.29,816.13 L1152.63,816.12 L1152.96,816.12 L1153.29,816.11 L1153.63,816.11 L1153.96,816.1 L1154.29,816.1 L1154.62,816.09 L1154.96,816.09 L1155.29,816.08 L1155.62,816.08 L1155.96,816.07 L1156.29,816.07 L1156.62,816.06 L1156.96,816.06 L1157.29,816.05 L1157.62,816.05 L1157.96,816.04 L1158.29,816.04 L1158.62,816.03 L1158.95,816.03 L1159.29,816.02 L1159.62,816.02 L1159.95,816.01 L1160.29,816.01 L1160.62,816 L1160.95,816 L1161.29,816 L1161.62,815.99 L1161.95,815.99 L1162.28,815.98 L1162.62,815.98 L1162.95,815.97 L1163.28,815.97 L1163.62,815.97 L1163.95,815.96 L1164.28,815.96 L1164.62,815.95 L1164.95,815.95 L1165.28,815.95 L1165.62,815.94 L1165.95,815.94 L1166.28,815.93 L1166.61,815.93 L1166.95,815.93 L1167.28,815.92 L1167.61,815.92 L1167.95,815.92 L1168.28,815.91 L1168.61,815.91 L1168.95,815.9 L1169.28,815.9 L1169.61,815.9 L1169.95,815.89 L1170.28,815.89 L1170.61,815.89 L1170.94,815.88 L1171.28,815.88 L1171.61,815.88 L1171.94,815.87 L1172.28,815.87 L1172.61,815.87 L1172.94,815.86 L1173.28,815.86 L1173.61,815.86 L1173.94,815.85 L1174.27,815.85 L1174.61,815.85 L1174.94,815.84 L1175.27,815.84 L1175.61,815.84 L1175.94,815.84 L1176.27,815.83 L1176.61,815.83 L1176.94,815.83 L1177.27,815.82 L1177.61,815.82 L1177.94,815.82 L1178.27,815.82 L1178.6,815.81 L1178.94,815.81 L1179.27,815.81 L1179.6,815.8 L1179.94,815.8 L1180.27,815.8 L1180.6,815.8 L1180.94,815.79 L1181.27,815.79 L1181.6,815.79 L1181.94,815.79 L1182.27,815.78 L1182.6,815.78 L1182.93,815.78 L1183.27,815.78 L1183.6,815.77 L1183.93,815.77 L1184.27,815.77 L1184.6,815.77 L1184.93,815.76 L1185.27,815.76 L1185.6,815.76 L1185.93,815.76 L1186.26,815.75 L1186.6,815.75 L1186.93,815.75 L1187.26,815.75 L1187.6,815.74 L1187.93,815.74 L1188.26,815.74 L1188.6,815.74 L1188.93,815.74 L1189.26,815.73 L1189.6,815.73 L1189.93,815.73 L1190.26,815.73 L1190.59,815.73 L1190.93,815.72 L1191.26,815.72 L1191.59,815.72 L1191.93,815.72 L1192.26,815.72 L1192.59,815.71 L1192.93,815.71 L1193.26,815.71 L1193.59,815.71 L1193.93,815.71 L1194.26,815.7 L1194.59,815.7 L1194.92,815.7 L1195.26,815.7 L1195.59,815.7 L1195.92,815.7 L1196.26,815.69 L1196.59,815.69 L1196.92,815.69 L1197.26,815.69 L1197.59,815.69 L1197.92,815.68 L1198.25,815.68 L1198.59,815.68 L1198.92,815.68 L1199.25,815.68 L1199.59,815.68 L1199.92,815.68 L1200.25,815.67 L1200.59,815.67 L1200.92,815.67 L1201.25,815.67 L1201.59,815.67 L1201.92,815.67 L1202.25,815.66 L1202.58,815.66 L1202.92,815.66 L1203.25,815.66 L1203.58,815.66 L1203.92,815.66 L1204.25,815.66 L1204.58,815.65 L1204.92,815.65 L1205.25,815.65 L1205.58,815.65 L1205.92,815.65 L1206.25,815.65 L1206.58,815.65 L1206.91,815.64 L1207.25,815.64 L1207.58,815.64 L1207.91,815.64 L1208.25,815.64 L1208.58,815.64 L1208.91,815.64 L1209.25,815.63 L1209.58,815.63 L1209.91,815.63 L1210.24,815.63 L1210.58,815.63 L1210.91,815.63 L1211.24,815.63 L1211.58,815.63 L1211.91,815.63 L1212.24,815.62 L1212.58,815.62 L1212.91,815.62 L1213.24,815.62 L1213.58,815.62 L1213.91,815.62 L1214.24,815.62 L1214.57,815.62 L1214.91,815.61 L1215.24,815.61 L1215.57,815.61 L1215.91,815.61 L1216.24,815.61 L1216.57,815.61 L1216.91,815.61 L1217.24,815.61 L1217.57,815.61 L1217.91,815.61 L1218.24,815.6 L1218.57,815.6 L1218.9,815.6 L1219.24,815.6 L1219.57,815.6 L1219.9,815.6 L1220.24,815.6 L1220.57,815.6 L1220.9,815.6 L1221.24,815.6 L1221.57,815.59 L1221.9,815.59 L1222.23,815.59 L1222.57,815.59 L1222.9,815.59 L1223.23,815.59 L1223.57,815.59 L1223.9,815.59 L1224.23,815.59 L1224.57,815.59 L1224.9,815.58 L1225.23,815.58 L1225.57,815.58 L1225.9,815.58 L1226.23,815.58 L1226.56,815.58 L1226.9,815.58 L1227.23,815.58 L1227.56,815.58 L1227.9,815.58 L1228.23,815.58 L1228.56,815.58 L1228.9,815.57 L1229.23,815.57 L1229.56,815.57 L1229.9,815.57 L1230.23,815.57 L1230.56,815.57 L1230.89,815.57 L1231.23,815.57 L1231.56,815.57 L1231.89,815.57 L1232.23,815.57 L1232.56,815.57 L1232.89,815.57 L1233.23,815.56 L1233.56,815.56 L1233.89,815.56 L1234.22,815.56 L1234.56,815.56 L1234.89,815.56 L1235.22,815.56 L1235.56,815.56 L1235.89,815.56 L1236.22,815.56 L1236.56,815.56 L1236.89,815.56 L1237.22,815.56 L1237.56,815.55 L1237.89,815.55 L1238.22,815.55 L1238.55,815.55 L1238.89,815.55 L1239.22,815.55 L1239.55,815.55 L1239.89,815.55 L1240.22,815.55 L1240.55,815.55 L1240.89,815.55 L1241.22,815.55 L1241.55,815.55 L1241.88,815.55 L1242.22,815.55 L1242.55,815.54 L1242.88,815.54 L1243.22,815.54 L1243.55,815.54 L1243.88,815.54 L1244.22,815.54 L1244.55,815.54 L1244.88,815.54 L1245.22,815.54 L1245.55,815.54 L1245.88,815.54 L1246.21,815.54 L1246.55,815.54 L1246.88,815.54 L1247.21,815.54 L1247.55,815.53 L1247.88,815.53 L1248.21,815.53 L1248.55,815.53 L1248.88,815.53 L1249.21,815.53 L1249.55,815.53 L1249.88,815.53 L1250.21,815.53 L1250.54,815.53 L1250.88,815.53 L1251.21,815.53 L1251.54,815.53 L1251.88,815.53 L1252.21,815.53 L1252.54,815.53 L1252.88,815.53 L1253.21,815.52 L1253.54,815.52 L1253.87,815.52 L1254.21,815.52 L1254.54,815.52 L1254.87,815.52 L1255.21,815.52 L1255.54,815.52 L1255.87,815.52 L1256.21,815.52 L1256.54,815.52 L1256.87,815.52 L1257.21,815.52 L1257.54,815.52 L1257.87,815.52 L1258.2,815.52 L1258.54,815.51 L1258.87,815.51 L1259.2,815.51 L1259.54,815.51 L1259.87,815.51 L1260.2,815.51 L1260.54,815.51 L1260.87,815.51 L1261.2,815.51 L1261.54,815.51 L1261.87,815.51 L1262.2,815.51 L1262.53,815.51 L1262.87,815.51 L1263.2,815.51 L1263.53,815.51 L1263.87,815.51 L1264.2,815.5 L1264.53,815.5 L1264.87,815.5 L1265.2,815.5 L1265.53,815.5 L1265.86,815.5 L1266.2,815.5 L1266.53,815.5 L1266.86,815.5 L1267.2,815.5 L1267.53,815.5 L1267.86,815.5 L1268.2,815.5 L1268.53,815.5 L1268.86,815.5 L1269.2,815.5 L1269.53,815.5 L1269.86,815.49 L1270.19,815.49 L1270.53,815.49 L1270.86,815.49 L1271.19,815.49 L1271.53,815.49 L1271.86,815.49 L1272.19,815.49 L1272.53,815.49 L1272.86,815.49 L1273.19,815.49 L1273.53,815.49 L1273.86,815.49 L1274.19,815.49 L1274.52,815.49 L1274.86,815.49 L1275.19,815.48 L1275.52,815.48 L1275.86,815.48 L1276.19,815.48 L1276.52,815.48 L1276.86,815.48 L1277.19,815.48 L1277.52,815.48 L1277.85,815.48 L1278.19,815.48 L1278.52,815.48 L1278.85,815.48 L1279.19,815.48 L1279.52,815.48 L1279.85,815.48 L1280.19,815.47 L1280.52,815.47 L1280.85,815.47 L1281.19,815.47 L1281.52,815.47 L1281.85,815.47 L1282.18,815.47 L1282.52,815.47 L1282.85,815.47 L1283.18,815.47 L1283.52,815.47 L1283.85,815.47 L1284.18,815.47 L1284.52,815.47 L1284.85,815.47 L1285.18,815.46 L1285.52,815.46 L1285.85,815.46 L1286.18,815.46 L1286.51,815.46 L1286.85,815.46 L1287.18,815.46 L1287.51,815.46 L1287.85,815.46 L1288.18,815.46 L1288.51,815.46 L1288.85,815.46 L1289.18,815.46 L1289.51,815.46 L1289.84,815.45 L1290.18,815.45 L1290.51,815.45 L1290.84,815.45 L1291.18,815.45 L1291.51,815.45 L1291.84,815.45 L1292.18,815.45 L1292.51,815.45 L1292.84,815.45 L1293.18,815.45 L1293.51,815.45 L1293.84,815.45 L1294.17,815.45 L1294.51,815.44 L1294.84,815.44 L1295.17,815.44 L1295.51,815.44 L1295.84,815.44 L1296.17,815.44 L1296.51,815.44 L1296.84,815.44 L1297.17,815.44 L1297.51,815.44 L1297.84,815.44 L1298.17,815.44 L1298.5,815.43 L1298.84,815.43 L1299.17,815.43 L1299.5,815.43 L1299.84,815.43 L1300.17,815.43 L1300.5,815.43 L1300.84,815.43 L1301.17,815.43 L1301.5,815.43 L1301.83,815.43 L1302.17,815.43 L1302.5,815.42 L1302.83,815.42 L1303.17,815.42 L1303.5,815.42 L1303.83,815.42 L1304.17,815.42 L1304.5,815.42 L1304.83,815.42 L1305.17,815.42 L1305.5,815.42 L1305.83,815.42 L1306.16,815.42 L1306.5,815.41 L1306.83,815.41 L1307.16,815.41 L1307.5,815.41 L1307.83,815.41 L1308.16,815.41 L1308.5,815.41 L1308.83,815.41 L1309.16,815.41 L1309.5,815.41 L1309.83,815.41 L1310.16,815.4 L1310.49,815.4 L1310.83,815.4 L1311.16,815.4 L1311.49,815.4 L1311.83,815.4 L1312.16,815.4 L1312.49,815.4 L1312.83,815.4 L1313.16,815.4 L1313.49,815.39 L1313.82,815.39 L1314.16,815.39 L1314.49,815.39 L1314.82,815.39 L1315.16,815.39 L1315.49,815.39 L1315.82,815.39 L1316.16,815.39 L1316.49,815.39 L1316.82,815.38 L1317.16,815.38 L1317.49,815.38 L1317.82,815.38 L1318.15,815.38 L1318.49,815.38 L1318.82,815.38 L1319.15,815.38 L1319.49,815.38 L1319.82,815.37 L1320.15,815.37 L1320.49,815.37 L1320.82,815.37 L1321.15,815.37 L1321.49,815.37 L1321.82,815.37 L1322.15,815.37 L1322.48,815.37 L1322.82,815.36 L1323.15,815.36 L1323.48,815.36 L1323.82,815.36 L1324.15,815.36 L1324.48,815.36 L1324.82,815.36 L1325.15,815.36 L1325.48,815.36 L1325.81,815.35 L1326.15,815.35 L1326.48,815.35 L1326.81,815.35 L1327.15,815.35 L1327.48,815.35 L1327.81,815.35 L1328.15,815.35 L1328.48,815.34 L1328.81,815.34 L1329.15,815.34 L1329.48,815.34 L1329.81,815.34 L1330.14,815.34 L1330.48,815.34 L1330.81,815.34 L1331.14,815.33 L1331.48,815.33 L1331.81,815.33 L1332.14,815.33 L1332.48,815.33 L1332.81,815.33 L1333.14,815.33 L1333.48,815.33 L1333.81,815.32 L1334.14,815.32 L1334.47,815.32 L1334.81,815.32 L1335.14,815.32 L1335.47,815.32 L1335.81,815.32 L1336.14,815.32 L1336.47,815.31 L1336.81,815.31 L1337.14,815.31 L1337.47,815.31 L1337.8,815.31 L1338.14,815.31 L1338.47,815.31 L1338.8,815.3 L1339.14,815.3 L1339.47,815.3 L1339.8,815.3 L1340.14,815.3 L1340.47,815.3 L1340.8,815.3 L1341.14,815.29 L1341.47,815.29 L1341.8,815.29 L1342.13,815.29 L1342.47,815.29 L1342.8,815.29 L1343.13,815.29 L1343.47,815.28 L1343.8,815.28 L1344.13,815.28 L1344.47,815.28 L1344.8,815.28 L1345.13,815.28 L1345.46,815.28 L1345.8,815.27 L1346.13,815.27 L1346.46,815.27 L1346.8,815.27 L1347.13,815.27 L1347.46,815.27 L1347.8,815.26 L1348.13,815.26 L1348.46,815.26 L1348.8,815.26 L1349.13,815.26 L1349.46,815.26 L1349.79,815.25 L1350.13,815.25 L1350.46,815.25 L1350.79,815.25 L1351.13,815.25 L1351.46,815.25 L1351.79,815.24 L1352.13,815.24 L1352.46,815.24 L1352.79,815.24 L1353.13,815.24 L1353.46,815.24 L1353.79,815.23 L1354.12,815.23 L1354.46,815.23 L1354.79,815.23 L1355.12,815.23 L1355.46,815.23 L1355.79,815.22 L1356.12,815.22 L1356.46,815.22 L1356.79,815.22 L1357.12,815.22 L1357.45,815.22 L1357.79,815.21 L1358.12,815.21 L1358.45,815.21 L1358.79,815.21 L1359.12,815.21 L1359.45,815.21 L1359.79,815.2 L1360.12,815.2 L1360.45,815.2 L1360.79,815.2 L1361.12,815.2 L1361.45,815.19 L1361.78,815.19 L1362.12,815.19 L1362.45,815.19 L1362.78,815.19 L1363.12,815.18 L1363.45,815.18" fill="none" stroke="#0b2a8f" stroke-width="2.3" stroke-linejoin="round" stroke-linecap="butt"/>
<path d="M864.2,1468.7 L864.53,1468.7 L864.84,1468.7 L865.17,1466.96 L865.5,1464.77 L865.83,1462.61 L866.17,1460.46 L866.5,1458.33 L866.83,1456.22 L867.16,1454.12 L867.49,1452.05 L867.82,1449.98 L868.16,1447.94 L868.49,1445.91 L868.82,1443.89 L869.15,1441.9 L869.48,1439.91 L869.82,1437.95 L870.15,1435.99 L870.48,1434.05 L870.81,1432.13 L871.14,1430.22 L871.48,1428.33 L871.81,1426.45 L872.14,1424.58 L872.47,1422.73 L872.8,1420.89 L873.14,1419.06 L873.47,1417.25 L873.8,1415.45 L874.13,1413.67 L874.47,1411.9 L874.8,1410.14 L875.13,1408.39 L875.46,1406.66 L875.8,1404.94 L876.13,1403.24 L876.46,1401.54 L876.79,1399.86 L877.13,1398.19 L877.46,1396.53 L877.79,1394.89 L878.12,1393.26 L878.46,1391.63 L878.79,1390.03 L879.12,1388.43 L879.45,1386.84 L879.79,1385.27 L880.12,1383.71 L880.45,1382.16 L880.78,1380.62 L881.12,1379.09 L881.45,1377.57 L881.78,1376.07 L882.11,1374.57 L882.45,1373.09 L882.78,1371.62 L883.11,1370.15 L883.45,1368.7 L883.78,1367.26 L884.11,1365.83 L884.44,1364.41 L884.78,1363 L885.11,1361.6 L885.44,1360.21 L885.78,1358.83 L886.11,1357.47 L886.44,1356.11 L886.77,1354.76 L887.11,1353.42 L887.44,1352.09 L887.77,1350.77 L888.11,1349.46 L888.44,1348.16 L888.77,1346.87 L889.1,1345.59 L889.44,1344.31 L889.77,1343.05 L890.1,1341.8 L890.44,1340.55 L890.77,1339.32 L891.1,1338.09 L891.44,1336.87 L891.77,1335.66 L892.1,1334.46 L892.43,1333.27 L892.77,1332.09 L893.1,1330.91 L893.43,1329.75 L893.77,1328.59 L894.1,1327.44 L894.43,1326.3 L894.77,1325.17 L895.1,1324.05 L895.43,1322.93 L895.76,1321.82 L896.1,1320.72 L896.43,1319.63 L896.76,1318.55 L897.1,1317.47 L897.43,1316.4 L897.76,1315.34 L898.1,1314.29 L898.43,1313.25 L898.76,1312.21 L899.1,1311.18 L899.43,1310.16 L899.76,1309.14 L900.09,1308.13 L900.43,1307.13 L900.76,1306.14 L901.09,1305.15 L901.43,1304.17 L901.76,1303.2 L902.09,1302.24 L902.43,1301.28 L902.76,1300.33 L903.09,1299.39 L903.43,1298.45 L903.76,1297.52 L904.09,1296.6 L904.43,1295.68 L904.76,1294.77 L905.09,1293.86 L905.42,1292.97 L905.76,1292.08 L906.09,1291.19 L906.42,1290.31 L906.76,1289.44 L907.09,1288.58 L907.42,1287.72 L907.76,1286.87 L908.09,1286.02 L908.42,1285.18 L908.76,1284.34 L909.09,1283.52 L909.42,1282.69 L909.76,1281.88 L910.09,1281.07 L910.42,1280.26 L910.76,1279.46 L911.09,1278.67 L911.42,1277.88 L911.76,1277.1 L912.09,1276.33 L912.42,1275.56 L912.76,1274.79 L913.09,1274.03 L913.42,1273.28 L913.75,1272.53 L914.09,1271.79 L914.42,1271.05 L914.75,1270.32 L915.09,1269.59 L915.42,1268.87 L915.75,1268.15 L916.09,1267.44 L916.42,1266.73 L916.75,1266.03 L917.09,1265.34 L917.42,1264.65 L917.75,1263.96 L918.09,1263.28 L918.42,1262.6 L918.75,1261.93 L919.09,1261.26 L919.42,1260.6 L919.75,1259.95 L920.09,1259.29 L920.42,1258.65 L920.75,1258 L921.09,1257.37 L921.42,1256.73 L921.75,1256.1 L922.09,1255.48 L922.42,1254.86 L922.75,1254.24 L923.09,1253.63 L923.42,1253.03 L923.75,1252.42 L924.09,1251.83 L924.42,1251.23 L924.75,1250.64 L925.09,1250.06 L925.42,1249.48 L925.75,1248.9 L926.09,1248.33 L926.42,1247.76 L926.75,1247.19 L927.08,1246.63 L927.42,1246.08 L927.75,1245.53 L928.08,1244.98 L928.42,1244.43 L928.75,1243.89 L929.08,1243.36 L929.42,1242.82 L929.75,1242.3 L930.08,1241.77 L930.42,1241.25 L930.75,1240.73 L931.08,1240.22 L931.42,1239.71 L931.75,1239.2 L932.08,1238.7 L932.42,1238.2 L932.75,1237.7 L933.08,1237.21 L933.42,1236.72 L933.75,1236.24 L934.08,1235.76 L934.42,1235.28 L934.75,1234.81 L935.08,1234.33 L935.42,1233.87 L935.75,1233.4 L936.08,1232.94 L936.42,1232.48 L936.75,1232.03 L937.08,1231.58 L937.42,1231.13 L937.75,1230.69 L938.08,1230.25 L938.42,1229.81 L938.75,1229.37 L939.08,1228.94 L939.42,1228.51 L939.75,1228.09 L940.08,1227.66 L940.42,1227.24 L940.75,1226.83 L941.08,1226.41 L941.42,1226 L941.75,1225.59 L942.08,1225.19 L942.42,1224.79 L942.75,1224.39 L943.08,1223.99 L943.42,1223.6 L943.75,1223.21 L944.08,1222.82 L944.42,1222.44 L944.75,1222.06 L945.08,1221.68 L945.42,1221.3 L945.75,1220.93 L946.08,1220.55 L946.42,1220.19 L946.75,1219.82 L947.08,1219.46 L947.42,1219.1 L947.75,1218.74 L948.08,1218.38 L948.42,1218.03 L948.75,1217.68 L949.08,1217.33 L949.42,1216.99 L949.75,1216.64 L950.08,1216.3 L950.42,1215.97 L950.75,1215.63 L951.08,1215.3 L951.42,1214.97 L951.75,1214.64 L952.08,1214.31 L952.42,1213.99 L952.75,1213.67 L953.08,1213.35 L953.42,1213.03 L953.75,1212.72 L954.08,1212.41 L954.41,1212.1 L954.75,1211.79 L955.08,1211.48 L955.41,1211.18 L955.75,1210.88 L956.08,1210.58 L956.41,1210.28 L956.75,1209.99 L957.08,1209.7 L957.41,1209.4 L957.75,1209.12 L958.08,1208.83 L958.41,1208.55 L958.75,1208.26 L959.08,1207.98 L959.41,1207.71 L959.75,1207.43 L960.08,1207.16 L960.41,1206.88 L960.75,1206.61 L961.08,1206.34 L961.41,1206.08 L961.75,1205.81 L962.08,1205.55 L962.41,1205.29 L962.75,1205.03 L963.08,1204.78 L963.41,1204.52 L963.75,1204.27 L964.08,1204.02 L964.41,1203.77 L964.75,1203.52 L965.08,1203.27 L965.41,1203.03 L965.75,1202.79 L966.08,1202.54 L966.41,1202.31 L966.75,1202.07 L967.08,1201.83 L967.41,1201.6 L967.75,1201.37 L968.08,1201.14 L968.41,1200.91 L968.75,1200.68 L969.08,1200.45 L969.41,1200.23 L969.75,1200.01 L970.08,1199.79 L970.41,1199.57 L970.75,1199.35 L971.08,1199.13 L971.41,1198.92 L971.75,1198.71 L972.08,1198.49 L972.41,1198.28 L972.75,1198.08 L973.08,1197.87 L973.41,1197.66 L973.75,1197.46 L974.08,1197.26 L974.41,1197.06 L974.75,1196.86 L975.08,1196.66 L975.41,1196.46 L975.75,1196.27 L976.08,1196.07 L976.41,1195.88 L976.75,1195.69 L977.08,1195.5 L977.41,1195.31 L977.74,1195.12 L978.08,1194.94 L978.41,1194.75 L978.74,1194.57 L979.08,1194.39 L979.41,1194.21 L979.74,1194.03 L980.08,1193.85 L980.41,1193.67 L980.74,1193.5 L981.08,1193.32 L981.41,1193.15 L981.74,1192.98 L982.08,1192.81 L982.41,1192.64 L982.74,1192.47 L983.08,1192.31 L983.41,1192.14 L983.74,1191.98 L984.08,1191.81 L984.41,1191.65 L984.74,1191.49 L985.08,1191.33 L985.41,1191.17 L985.74,1191.01 L986.08,1190.86 L986.41,1190.7 L986.74,1190.55 L987.08,1190.4 L987.41,1190.24 L987.74,1190.09 L988.08,1189.94 L988.41,1189.8 L988.74,1189.65 L989.07,1189.5 L989.41,1189.36 L989.74,1189.21 L990.07,1189.07 L990.41,1188.93 L990.74,1188.79 L991.07,1188.65 L991.41,1188.51 L991.74,1188.37 L992.07,1188.23 L992.41,1188.09 L992.74,1187.96 L993.07,1187.82 L993.41,1187.69 L993.74,1187.56 L994.07,1187.43 L994.41,1187.3 L994.74,1187.17 L995.07,1187.04 L995.41,1186.91 L995.74,1186.78 L996.07,1186.66 L996.41,1186.53 L996.74,1186.41 L997.07,1186.29 L997.41,1186.16 L997.74,1186.04 L998.07,1185.92 L998.4,1185.8 L998.74,1185.68 L999.07,1185.57 L999.4,1185.45 L999.74,1185.33 L1000.07,1185.22 L1000.4,1185.1 L1000.74,1184.99 L1001.07,1184.87 L1001.4,1184.76 L1001.74,1184.65 L1002.07,1184.54 L1002.4,1184.43 L1002.74,1184.32 L1003.07,1184.21 L1003.4,1184.11 L1003.74,1184 L1004.07,1183.89 L1004.4,1183.79 L1004.74,1183.68 L1005.07,1183.58 L1005.4,1183.48 L1005.73,1183.38 L1006.07,1183.27 L1006.4,1183.17 L1006.73,1183.07 L1007.07,1182.97 L1007.4,1182.88 L1007.73,1182.78 L1008.07,1182.68 L1008.4,1182.58 L1008.73,1182.49 L1009.07,1182.39 L1009.4,1182.3 L1009.73,1182.21 L1010.07,1182.11 L1010.4,1182.02 L1010.73,1181.93 L1011.07,1181.84 L1011.4,1181.75 L1011.73,1181.66 L1012.07,1181.57 L1012.4,1181.48 L1012.73,1181.39 L1013.06,1181.3 L1013.4,1181.22 L1013.73,1181.13 L1014.06,1181.05 L1014.4,1180.96 L1014.73,1180.88 L1015.06,1180.79 L1015.4,1180.71 L1015.73,1180.63 L1016.06,1180.55 L1016.4,1180.47 L1016.73,1180.39 L1017.06,1180.31 L1017.4,1180.23 L1017.73,1180.15 L1018.06,1180.07 L1018.4,1179.99 L1018.73,1179.91 L1019.06,1179.84 L1019.39,1179.76 L1019.73,1179.69 L1020.06,1179.61 L1020.39,1179.54 L1020.73,1179.46 L1021.06,1179.39 L1021.39,1179.32 L1021.73,1179.24 L1022.06,1179.17 L1022.39,1179.1 L1022.73,1179.03 L1023.06,1178.96 L1023.39,1178.89 L1023.73,1178.82 L1024.06,1178.75 L1024.39,1178.68 L1024.72,1178.62 L1025.06,1178.55 L1025.39,1178.48 L1025.72,1178.42 L1026.06,1178.35 L1026.39,1178.28 L1026.72,1178.22 L1027.06,1178.16 L1027.39,1178.09 L1027.72,1178.03 L1028.06,1177.96 L1028.39,1177.9 L1028.72,1177.84 L1029.06,1177.78 L1029.39,1177.72 L1029.72,1177.66 L1030.05,1177.6 L1030.39,1177.54 L1030.72,1177.48 L1031.05,1177.42 L1031.39,1177.36 L1031.72,1177.3 L1032.05,1177.24 L1032.39,1177.18 L1032.72,1177.13 L1033.05,1177.07 L1033.39,1177.01 L1033.72,1176.96 L1034.05,1176.9 L1034.39,1176.85 L1034.72,1176.79 L1035.05,1176.74 L1035.38,1176.69 L1035.72,1176.63 L1036.05,1176.58 L1036.38,1176.53 L1036.72,1176.47 L1037.05,1176.42 L1037.38,1176.37 L1037.72,1176.32 L1038.05,1176.27 L1038.38,1176.22 L1038.72,1176.17 L1039.05,1176.12 L1039.38,1176.07 L1039.72,1176.02 L1040.05,1175.97 L1040.38,1175.92 L1040.71,1175.87 L1041.05,1175.83 L1041.38,1175.78 L1041.71,1175.73 L1042.05,1175.69 L1042.38,1175.64 L1042.71,1175.59 L1043.05,1175.55 L1043.38,1175.5 L1043.71,1175.46 L1044.05,1175.41 L1044.38,1175.37 L1044.71,1175.33 L1045.04,1175.28 L1045.38,1175.24 L1045.71,1175.2 L1046.04,1175.15 L1046.38,1175.11 L1046.71,1175.07 L1047.04,1175.03 L1047.38,1174.98 L1047.71,1174.94 L1048.04,1174.9 L1048.38,1174.86 L1048.71,1174.82 L1049.04,1174.78 L1049.37,1174.74 L1049.71,1174.7 L1050.04,1174.66 L1050.37,1174.62 L1050.71,1174.58 L1051.04,1174.55 L1051.37,1174.51 L1051.71,1174.47 L1052.04,1174.43 L1052.37,1174.4 L1052.71,1174.36 L1053.04,1174.32 L1053.37,1174.29 L1053.71,1174.25 L1054.04,1174.21 L1054.37,1174.18 L1054.7,1174.14 L1055.04,1174.11 L1055.37,1174.07 L1055.7,1174.04 L1056.04,1174 L1056.37,1173.97 L1056.7,1173.93 L1057.04,1173.9 L1057.37,1173.87 L1057.7,1173.83 L1058.04,1173.8 L1058.37,1173.77 L1058.7,1173.74 L1059.03,1173.7 L1059.37,1173.67 L1059.7,1173.64 L1060.03,1173.61 L1060.37,1173.58 L1060.7,1173.55 L1061.03,1173.51 L1061.37,1173.48 L1061.7,1173.45 L1062.03,1173.42 L1062.37,1173.39 L1062.7,1173.36 L1063.03,1173.33 L1063.36,1173.3 L1063.7,1173.27 L1064.03,1173.25 L1064.36,1173.22 L1064.7,1173.19 L1065.03,1173.16 L1065.36,1173.13 L1065.7,1173.1 L1066.03,1173.08 L1066.36,1173.05 L1066.7,1173.02 L1067.03,1172.99 L1067.36,1172.97 L1067.69,1172.94 L1068.03,1172.91 L1068.36,1172.89 L1068.69,1172.86 L1069.03,1172.83 L1069.36,1172.81 L1069.69,1172.78 L1070.03,1172.76 L1070.36,1172.73 L1070.69,1172.71 L1071.03,1172.68 L1071.36,1172.66 L1071.69,1172.63 L1072.02,1172.61 L1072.36,1172.58 L1072.69,1172.56 L1073.02,1172.54 L1073.36,1172.51 L1073.69,1172.49 L1074.02,1172.47 L1074.36,1172.44 L1074.69,1172.42 L1075.02,1172.4 L1075.36,1172.37 L1075.69,1172.35 L1076.02,1172.33 L1076.35,1172.31 L1076.69,1172.29 L1077.02,1172.26 L1077.35,1172.24 L1077.69,1172.22 L1078.02,1172.2 L1078.35,1172.18 L1078.69,1172.16 L1079.02,1172.14 L1079.35,1172.11 L1079.69,1172.09 L1080.02,1172.07 L1080.35,1172.05 L1080.68,1172.03 L1081.02,1172.01 L1081.35,1171.99 L1081.68,1171.97 L1082.02,1171.95 L1082.35,1171.93 L1082.68,1171.91 L1083.02,1171.89 L1083.35,1171.88 L1083.68,1171.86 L1084.02,1171.84 L1084.35,1171.82 L1084.68,1171.8 L1085.01,1171.78 L1085.35,1171.76 L1085.68,1171.75 L1086.01,1171.73 L1086.35,1171.71 L1086.68,1171.69 L1087.01,1171.67 L1087.35,1171.66 L1087.68,1171.64 L1088.01,1171.62 L1088.35,1171.61 L1088.68,1171.59 L1089.01,1171.57 L1089.34,1171.55 L1089.68,1171.54 L1090.01,1171.52 L1090.34,1171.5 L1090.68,1171.49 L1091.01,1171.47 L1091.34,1171.46 L1091.68,1171.44 L1092.01,1171.42 L1092.34,1171.41 L1092.68,1171.39 L1093.01,1171.38 L1093.34,1171.36 L1093.67,1171.35 L1094.01,1171.33 L1094.34,1171.32 L1094.67,1171.3 L1095.01,1171.29 L1095.34,1171.27 L1095.67,1171.26 L1096.01,1171.24 L1096.34,1171.23 L1096.67,1171.21 L1097,1171.2 L1097.34,1171.19 L1097.67,1171.17 L1098,1171.16 L1098.34,1171.14 L1098.67,1171.13 L1099,1171.12 L1099.34,1171.1 L1099.67,1171.09 L1100,1171.08 L1100.34,1171.06 L1100.67,1171.05 L1101,1171.04 L1101.33,1171.02 L1101.67,1171.01 L1102,1171 L1102.33,1170.99 L1102.67,1170.97 L1103,1170.96 L1103.33,1170.95 L1103.67,1170.94 L1104,1170.92 L1104.33,1170.91 L1104.67,1170.9 L1105,1170.89 L1105.33,1170.88 L1105.66,1170.86 L1106,1170.85 L1106.33,1170.84 L1106.66,1170.83 L1107,1170.82 L1107.33,1170.81 L1107.66,1170.8 L1108,1170.78 L1108.33,1170.77 L1108.66,1170.76 L1109,1170.75 L1109.33,1170.74 L1109.66,1170.73 L1109.99,1170.72 L1110.33,1170.71 L1110.66,1170.7 L1110.99,1170.69 L1111.33,1170.68 L1111.66,1170.67 L1111.99,1170.66 L1112.33,1170.65 L1112.66,1170.64 L1112.99,1170.63 L1113.33,1170.62 L1113.66,1170.61 L1113.99,1170.6 L1114.32,1170.59 L1114.66,1170.58 L1114.99,1170.57 L1115.32,1170.56 L1115.66,1170.55 L1115.99,1170.54 L1116.32,1170.53 L1116.66,1170.52 L1116.99,1170.51 L1117.32,1170.5 L1117.65,1170.49 L1117.99,1170.48 L1118.32,1170.47 L1118.65,1170.47 L1118.99,1170.46 L1119.32,1170.45 L1119.65,1170.44 L1119.99,1170.43 L1120.32,1170.42 L1120.65,1170.41 L1120.99,1170.41 L1121.32,1170.4 L1121.65,1170.39 L1121.98,1170.38 L1122.32,1170.37 L1122.65,1170.36 L1122.98,1170.36 L1123.32,1170.35 L1123.65,1170.34 L1123.98,1170.33 L1124.32,1170.32 L1124.65,1170.32 L1124.98,1170.31 L1125.32,1170.3 L1125.65,1170.29 L1125.98,1170.29 L1126.31,1170.28 L1126.65,1170.27 L1126.98,1170.26 L1127.31,1170.26 L1127.65,1170.25 L1127.98,1170.24 L1128.31,1170.23 L1128.65,1170.23 L1128.98,1170.22 L1129.31,1170.21 L1129.64,1170.21 L1129.98,1170.2 L1130.31,1170.19 L1130.64,1170.18 L1130.98,1170.18 L1131.31,1170.17 L1131.64,1170.16 L1131.98,1170.16 L1132.31,1170.15 L1132.64,1170.14 L1132.98,1170.14 L1133.31,1170.13 L1133.64,1170.13 L1133.97,1170.12 L1134.31,1170.11 L1134.64,1170.11 L1134.97,1170.1 L1135.31,1170.09 L1135.64,1170.09 L1135.97,1170.08 L1136.31,1170.08 L1136.64,1170.07 L1136.97,1170.06 L1137.31,1170.06 L1137.64,1170.05 L1137.97,1170.05 L1138.3,1170.04 L1138.64,1170.03 L1138.97,1170.03 L1139.3,1170.02 L1139.64,1170.02 L1139.97,1170.01 L1140.3,1170.01 L1140.64,1170 L1140.97,1169.99 L1141.3,1169.99 L1141.64,1169.98 L1141.97,1169.98 L1142.3,1169.97 L1142.63,1169.97 L1142.97,1169.96 L1143.3,1169.96 L1143.63,1169.95 L1143.97,1169.95 L1144.3,1169.94 L1144.63,1169.94 L1144.97,1169.93 L1145.3,1169.93 L1145.63,1169.92 L1145.96,1169.92 L1146.3,1169.91 L1146.63,1169.91 L1146.96,1169.9 L1147.3,1169.9 L1147.63,1169.89 L1147.96,1169.89 L1148.3,1169.88 L1148.63,1169.88 L1148.96,1169.87 L1149.3,1169.87 L1149.63,1169.87 L1149.96,1169.86 L1150.29,1169.86 L1150.63,1169.85 L1150.96,1169.85 L1151.29,1169.84 L1151.63,1169.84 L1151.96,1169.83 L1152.29,1169.83 L1152.63,1169.83 L1152.96,1169.82 L1153.29,1169.82 L1153.63,1169.81 L1153.96,1169.81 L1154.29,1169.81 L1154.62,1169.8 L1154.96,1169.8 L1155.29,1169.79 L1155.62,1169.79 L1155.96,1169.79 L1156.29,1169.78 L1156.62,1169.78 L1156.96,1169.77 L1157.29,1169.77 L1157.62,1169.77 L1157.95,1169.76 L1158.29,1169.76 L1158.62,1169.75 L1158.95,1169.75 L1159.29,1169.75 L1159.62,1169.74 L1159.95,1169.74 L1160.29,1169.74 L1160.62,1169.73 L1160.95,1169.73 L1161.29,1169.73 L1161.62,1169.72 L1161.95,1169.72 L1162.28,1169.72 L1162.62,1169.71 L1162.95,1169.71 L1163.28,1169.71 L1163.62,1169.7 L1163.95,1169.7 L1164.28,1169.7 L1164.62,1169.69 L1164.95,1169.69 L1165.28,1169.69 L1165.62,1169.68 L1165.95,1169.68 L1166.28,1169.68 L1166.61,1169.67 L1166.95,1169.67 L1167.28,1169.67 L1167.61,1169.66 L1167.95,1169.66 L1168.28,1169.66 L1168.61,1169.65 L1168.95,1169.65 L1169.28,1169.65 L1169.61,1169.65 L1169.94,1169.64 L1170.28,1169.64 L1170.61,1169.64 L1170.94,1169.63 L1171.28,1169.63 L1171.61,1169.63 L1171.94,1169.63 L1172.28,1169.62 L1172.61,1169.62 L1172.94,1169.62 L1173.28,1169.61 L1173.61,1169.61 L1173.94,1169.61 L1174.27,1169.61 L1174.61,1169.6 L1174.94,1169.6 L1175.27,1169.6 L1175.61,1169.6 L1175.94,1169.59 L1176.27,1169.59 L1176.61,1169.59 L1176.94,1169.59 L1177.27,1169.58 L1177.61,1169.58 L1177.94,1169.58 L1178.27,1169.58 L1178.6,1169.57 L1178.94,1169.57 L1179.27,1169.57 L1179.6,1169.57 L1179.94,1169.56 L1180.27,1169.56 L1180.6,1169.56 L1180.94,1169.56 L1181.27,1169.55 L1181.6,1169.55 L1181.93,1169.55 L1182.27,1169.55 L1182.6,1169.55 L1182.93,1169.54 L1183.27,1169.54 L1183.6,1169.54 L1183.93,1169.54 L1184.27,1169.53 L1184.6,1169.53 L1184.93,1169.53 L1185.27,1169.53 L1185.6,1169.53 L1185.93,1169.52 L1186.26,1169.52 L1186.6,1169.52 L1186.93,1169.52 L1187.26,1169.52 L1187.6,1169.51 L1187.93,1169.51 L1188.26,1169.51 L1188.6,1169.51 L1188.93,1169.51 L1189.26,1169.5 L1189.6,1169.5 L1189.93,1169.5 L1190.26,1169.5 L1190.59,1169.5 L1190.93,1169.5 L1191.26,1169.49 L1191.59,1169.49 L1191.93,1169.49 L1192.26,1169.49 L1192.59,1169.49 L1192.93,1169.48 L1193.26,1169.48 L1193.59,1169.48 L1193.92,1169.48 L1194.26,1169.48 L1194.59,1169.48 L1194.92,1169.47 L1195.26,1169.47 L1195.59,1169.47 L1195.92,1169.47 L1196.26,1169.47 L1196.59,1169.47 L1196.92,1169.46 L1197.26,1169.46 L1197.59,1169.46 L1197.92,1169.46 L1198.25,1169.46 L1198.59,1169.46 L1198.92,1169.45 L1199.25,1169.45 L1199.59,1169.45 L1199.92,1169.45 L1200.25,1169.45 L1200.59,1169.45 L1200.92,1169.45 L1201.25,1169.44 L1201.59,1169.44 L1201.92,1169.44 L1202.25,1169.44 L1202.58,1169.44 L1202.92,1169.44 L1203.25,1169.43 L1203.58,1169.43 L1203.92,1169.43 L1204.25,1169.43 L1204.58,1169.43 L1204.92,1169.43 L1205.25,1169.43 L1205.58,1169.43 L1205.91,1169.42 L1206.25,1169.42 L1206.58,1169.42 L1206.91,1169.42 L1207.25,1169.42 L1207.58,1169.42 L1207.91,1169.42 L1208.25,1169.41 L1208.58,1169.41 L1208.91,1169.41 L1209.25,1169.41 L1209.58,1169.41 L1209.91,1169.41 L1210.24,1169.41 L1210.58,1169.41 L1210.91,1169.4 L1211.24,1169.4 L1211.58,1169.4 L1211.91,1169.4 L1212.24,1169.4 L1212.58,1169.4 L1212.91,1169.4 L1213.24,1169.4 L1213.58,1169.4 L1213.91,1169.39 L1214.24,1169.39 L1214.57,1169.39 L1214.91,1169.39 L1215.24,1169.39 L1215.57,1169.39 L1215.91,1169.39 L1216.24,1169.39 L1216.57,1169.39 L1216.91,1169.38 L1217.24,1169.38 L1217.57,1169.38 L1217.9,1169.38 L1218.24,1169.38 L1218.57,1169.38 L1218.9,1169.38 L1219.24,1169.38 L1219.57,1169.38 L1219.9,1169.38 L1220.24,1169.37 L1220.57,1169.37 L1220.9,1169.37 L1221.24,1169.37 L1221.57,1169.37 L1221.9,1169.37 L1222.23,1169.37 L1222.57,1169.37 L1222.9,1169.37 L1223.23,1169.37 L1223.57,1169.36 L1223.9,1169.36 L1224.23,1169.36 L1224.57,1169.36 L1224.9,1169.36 L1225.23,1169.36 L1225.57,1169.36 L1225.9,1169.36 L1226.23,1169.36 L1226.56,1169.36 L1226.9,1169.36 L1227.23,1169.35 L1227.56,1169.35 L1227.9,1169.35 L1228.23,1169.35 L1228.56,1169.35 L1228.9,1169.35 L1229.23,1169.35 L1229.56,1169.35 L1229.89,1169.35 L1230.23,1169.35 L1230.56,1169.35 L1230.89,1169.35 L1231.23,1169.35 L1231.56,1169.34 L1231.89,1169.34 L1232.23,1169.34 L1232.56,1169.34 L1232.89,1169.34 L1233.23,1169.34 L1233.56,1169.34 L1233.89,1169.34 L1234.22,1169.34 L1234.56,1169.34 L1234.89,1169.34 L1235.22,1169.34 L1235.56,1169.34 L1235.89,1169.33 L1236.22,1169.33 L1236.56,1169.33 L1236.89,1169.33 L1237.22,1169.33 L1237.56,1169.33 L1237.89,1169.33 L1238.22,1169.33 L1238.55,1169.33 L1238.89,1169.33 L1239.22,1169.33 L1239.55,1169.33 L1239.89,1169.33 L1240.22,1169.33 L1240.55,1169.32 L1240.89,1169.32 L1241.22,1169.32 L1241.55,1169.32 L1241.88,1169.32 L1242.22,1169.32 L1242.55,1169.32 L1242.88,1169.32 L1243.22,1169.32 L1243.55,1169.32 L1243.88,1169.32 L1244.22,1169.32 L1244.55,1169.32 L1244.88,1169.32 L1245.22,1169.32 L1245.55,1169.32 L1245.88,1169.32 L1246.21,1169.31 L1246.55,1169.31 L1246.88,1169.31 L1247.21,1169.31 L1247.55,1169.31 L1247.88,1169.31 L1248.21,1169.31 L1248.55,1169.31 L1248.88,1169.31 L1249.21,1169.31 L1249.55,1169.31 L1249.88,1169.31 L1250.21,1169.31 L1250.54,1169.31 L1250.88,1169.31 L1251.21,1169.31 L1251.54,1169.31 L1251.88,1169.31 L1252.21,1169.3 L1252.54,1169.3 L1252.88,1169.3 L1253.21,1169.3 L1253.54,1169.3 L1253.87,1169.3 L1254.21,1169.3 L1254.54,1169.3 L1254.87,1169.3 L1255.21,1169.3 L1255.54,1169.3 L1255.87,1169.3 L1256.21,1169.3 L1256.54,1169.3 L1256.87,1169.3 L1257.21,1169.3 L1257.54,1169.3 L1257.87,1169.3 L1258.2,1169.3 L1258.54,1169.3 L1258.87,1169.29 L1259.2,1169.29 L1259.54,1169.29 L1259.87,1169.29 L1260.2,1169.29 L1260.54,1169.29 L1260.87,1169.29 L1261.2,1169.29 L1261.54,1169.29 L1261.87,1169.29 L1262.2,1169.29 L1262.53,1169.29 L1262.87,1169.29 L1263.2,1169.29 L1263.53,1169.29 L1263.87,1169.29 L1264.2,1169.29 L1264.53,1169.29 L1264.87,1169.29 L1265.2,1169.29 L1265.53,1169.29 L1265.86,1169.29 L1266.2,1169.29 L1266.53,1169.28 L1266.86,1169.28 L1267.2,1169.28 L1267.53,1169.28 L1267.86,1169.28 L1268.2,1169.28 L1268.53,1169.28 L1268.86,1169.28 L1269.2,1169.28 L1269.53,1169.28 L1269.86,1169.28 L1270.19,1169.28 L1270.53,1169.28 L1270.86,1169.28 L1271.19,1169.28 L1271.53,1169.28 L1271.86,1169.28 L1272.19,1169.28 L1272.53,1169.28 L1272.86,1169.28 L1273.19,1169.28 L1273.53,1169.28 L1273.86,1169.28 L1274.19,1169.28 L1274.52,1169.28 L1274.86,1169.28 L1275.19,1169.28 L1275.52,1169.27 L1275.86,1169.27 L1276.19,1169.27 L1276.52,1169.27 L1276.86,1169.27 L1277.19,1169.27 L1277.52,1169.27 L1277.85,1169.27 L1278.19,1169.27 L1278.52,1169.27 L1278.85,1169.27 L1279.19,1169.27 L1279.52,1169.27 L1279.85,1169.27 L1280.19,1169.27 L1280.52,1169.27 L1280.85,1169.27 L1281.19,1169.27 L1281.52,1169.27 L1281.85,1169.27 L1282.18,1169.27 L1282.52,1169.27 L1282.85,1169.27 L1283.18,1169.27 L1283.52,1169.27 L1283.85,1169.27 L1284.18,1169.27 L1284.52,1169.27 L1284.85,1169.27 L1285.18,1169.27 L1285.52,1169.26 L1285.85,1169.26 L1286.18,1169.26 L1286.51,1169.26 L1286.85,1169.26 L1287.18,1169.26 L1287.51,1169.26 L1287.85,1169.26 L1288.18,1169.26 L1288.51,1169.26 L1288.85,1169.26 L1289.18,1169.26 L1289.51,1169.26 L1289.84,1169.26 L1290.18,1169.26 L1290.51,1169.26 L1290.84,1169.26 L1291.18,1169.26 L1291.51,1169.26 L1291.84,1169.26 L1292.18,1169.26 L1292.51,1169.26 L1292.84,1169.26 L1293.18,1169.26 L1293.51,1169.26 L1293.84,1169.26 L1294.17,1169.26 L1294.51,1169.26 L1294.84,1169.26 L1295.17,1169.26 L1295.51,1169.26 L1295.84,1169.26 L1296.17,1169.26 L1296.51,1169.26 L1296.84,1169.26 L1297.17,1169.26 L1297.51,1169.25 L1297.84,1169.25 L1298.17,1169.25 L1298.5,1169.25 L1298.84,1169.25 L1299.17,1169.25 L1299.5,1169.25 L1299.84,1169.25 L1300.17,1169.25 L1300.5,1169.25 L1300.84,1169.25 L1301.17,1169.25 L1301.5,1169.25 L1301.83,1169.25 L1302.17,1169.25 L1302.5,1169.25 L1302.83,1169.25 L1303.17,1169.25 L1303.5,1169.25 L1303.83,1169.25 L1304.17,1169.25 L1304.5,1169.25 L1304.83,1169.25 L1305.17,1169.25 L1305.5,1169.25 L1305.83,1169.25 L1306.16,1169.25 L1306.5,1169.25 L1306.83,1169.25 L1307.16,1169.25 L1307.5,1169.25 L1307.83,1169.25 L1308.16,1169.25 L1308.5,1169.25 L1308.83,1169.25 L1309.16,1169.25 L1309.5,1169.25 L1309.83,1169.25 L1310.16,1169.25 L1310.49,1169.25 L1310.83,1169.25 L1311.16,1169.24 L1311.49,1169.24 L1311.83,1169.24 L1312.16,1169.24 L1312.49,1169.24 L1312.83,1169.24 L1313.16,1169.24 L1313.49,1169.24 L1313.82,1169.24 L1314.16,1169.24 L1314.49,1169.24 L1314.82,1169.24 L1315.16,1169.24 L1315.49,1169.24 L1315.82,1169.24 L1316.16,1169.24 L1316.49,1169.24 L1316.82,1169.24 L1317.16,1169.24 L1317.49,1169.24 L1317.82,1169.24 L1318.15,1169.24 L1318.49,1169.24 L1318.82,1169.24 L1319.15,1169.24 L1319.49,1169.24 L1319.82,1169.24 L1320.15,1169.24 L1320.49,1169.24 L1320.82,1169.24 L1321.15,1169.24 L1321.49,1169.24 L1321.82,1169.24 L1322.15,1169.24 L1322.48,1169.24 L1322.82,1169.24 L1323.15,1169.24 L1323.48,1169.24 L1323.82,1169.24 L1324.15,1169.24 L1324.48,1169.24 L1324.82,1169.24 L1325.15,1169.24 L1325.48,1169.24 L1325.81,1169.24 L1326.15,1169.24 L1326.48,1169.23 L1326.81,1169.23 L1327.15,1169.23 L1327.48,1169.23 L1327.81,1169.23 L1328.15,1169.23 L1328.48,1169.23 L1328.81,1169.23 L1329.15,1169.23 L1329.48,1169.23 L1329.81,1169.23 L1330.14,1169.23 L1330.48,1169.23 L1330.81,1169.23 L1331.14,1169.23 L1331.48,1169.23 L1331.81,1169.23 L1332.14,1169.23 L1332.48,1169.23 L1332.81,1169.23 L1333.14,1169.23 L1333.48,1169.23 L1333.81,1169.23 L1334.14,1169.23 L1334.47,1169.23 L1334.81,1169.23 L1335.14,1169.23 L1335.47,1169.23 L1335.81,1169.23 L1336.14,1169.23 L1336.47,1169.23 L1336.81,1169.23 L1337.14,1169.23 L1337.47,1169.23 L1337.8,1169.23 L1338.14,1169.23 L1338.47,1169.23 L1338.8,1169.23 L1339.14,1169.23 L1339.47,1169.23 L1339.8,1169.23 L1340.14,1169.23 L1340.47,1169.23 L1340.8,1169.23 L1341.14,1169.23 L1341.47,1169.23 L1341.8,1169.23 L1342.13,1169.23 L1342.47,1169.22 L1342.8,1169.22 L1343.13,1169.22 L1343.47,1169.22 L1343.8,1169.22 L1344.13,1169.22 L1344.47,1169.22 L1344.8,1169.22 L1345.13,1169.22 L1345.47,1169.22 L1345.8,1169.22 L1346.13,1169.22 L1346.46,1169.22 L1346.8,1169.22 L1347.13,1169.22 L1347.46,1169.22 L1347.8,1169.22 L1348.13,1169.22 L1348.46,1169.22 L1348.8,1169.22 L1349.13,1169.22 L1349.46,1169.22 L1349.79,1169.22 L1350.13,1169.22 L1350.46,1169.22 L1350.79,1169.22 L1351.13,1169.22 L1351.46,1169.22 L1351.79,1169.22 L1352.13,1169.22 L1352.46,1169.22 L1352.79,1169.22 L1353.13,1169.22 L1353.46,1169.22 L1353.79,1169.22 L1354.12,1169.22 L1354.46,1169.22 L1354.79,1169.22 L1355.12,1169.22 L1355.46,1169.22 L1355.79,1169.22 L1356.12,1169.22 L1356.46,1169.22 L1356.79,1169.22 L1357.12,1169.22 L1357.46,1169.22 L1357.79,1169.22 L1358.12,1169.22 L1358.45,1169.21 L1358.79,1169.21 L1359.12,1169.21 L1359.45,1169.21 L1359.79,1169.21 L1360.12,1169.21 L1360.45,1169.21 L1360.79,1169.21 L1361.12,1169.21 L1361.45,1169.21 L1361.78,1169.21 L1362.12,1169.21 L1362.45,1169.21 L1362.78,1169.21 L1363.12,1169.21 L1363.45,1169.21" fill="none" stroke="#e60000" stroke-width="2.3" stroke-linejoin="round" stroke-linecap="butt"/>
<path d="M864.3,1469 L865.96,1468.79 L867.62,1468.61 L869.29,1468.45 L870.95,1468.31 L872.61,1468.19 L874.27,1468.09 L875.94,1468 L877.6,1467.91 L879.26,1467.84 L880.92,1467.78 L882.59,1467.73 L884.25,1467.68 L885.91,1467.64 L887.57,1467.61 L889.23,1467.58 L890.9,1467.55 L892.56,1467.52 L894.22,1467.5 L895.88,1467.48 L897.55,1467.47 L899.21,1467.45 L900.87,1467.44 L902.53,1467.43 L904.2,1467.42 L905.86,1467.41 L907.52,1467.4 L909.18,1467.39 L910.85,1467.39 L912.51,1467.38 L914.17,1467.38 L915.83,1467.37 L917.49,1467.37 L919.16,1467.36 L920.82,1467.36 L922.48,1467.35 L924.14,1467.35 L925.81,1467.35 L927.47,1467.35 L929.13,1467.34 L930.79,1467.34 L932.46,1467.34 L934.12,1467.33 L935.78,1467.33 L937.44,1467.33 L939.11,1467.33 L940.77,1467.33 L942.43,1467.32 L944.09,1467.32 L945.75,1467.32 L947.42,1467.32 L949.08,1467.32 L950.74,1467.31 L952.4,1467.31 L954.07,1467.31 L955.73,1467.31 L957.39,1467.31 L959.05,1467.31 L960.72,1467.3 L962.38,1467.3 L964.04,1467.3 L965.7,1467.3 L967.36,1467.3 L969.03,1467.3 L970.69,1467.29 L972.35,1467.29 L974.01,1467.29 L975.68,1467.29 L977.34,1467.29 L979,1467.29 L980.66,1467.28 L982.33,1467.28 L983.99,1467.28 L985.65,1467.28 L987.31,1467.28 L988.97,1467.28 L990.64,1467.27 L992.3,1467.27 L993.96,1467.27 L995.62,1467.27 L997.29,1467.27 L998.95,1467.27 L1000.61,1467.26 L1002.27,1467.26 L1003.94,1467.26 L1005.6,1467.26 L1007.26,1467.26 L1008.92,1467.26 L1010.59,1467.25 L1012.25,1467.25 L1013.91,1467.25 L1015.57,1467.25 L1017.23,1467.25 L1018.9,1467.25 L1020.56,1467.24 L1022.22,1467.24 L1023.88,1467.24 L1025.55,1467.24 L1027.21,1467.24 L1028.87,1467.24 L1030.53,1467.23 L1032.2,1467.23 L1033.86,1467.23 L1035.52,1467.23 L1037.18,1467.23 L1038.85,1467.23 L1040.51,1467.22 L1042.17,1467.22 L1043.83,1467.22 L1045.49,1467.22 L1047.16,1467.22 L1048.82,1467.22 L1050.48,1467.21 L1052.14,1467.21 L1053.81,1467.21 L1055.47,1467.21 L1057.13,1467.21 L1058.79,1467.21 L1060.46,1467.2 L1062.12,1467.2 L1063.78,1467.2 L1065.44,1467.2 L1067.1,1467.2 L1068.77,1467.2 L1070.43,1467.19 L1072.09,1467.19 L1073.75,1467.19 L1075.42,1467.19 L1077.08,1467.19 L1078.74,1467.19 L1080.4,1467.18 L1082.07,1467.18 L1083.73,1467.18 L1085.39,1467.18 L1087.05,1467.18 L1088.71,1467.18 L1090.38,1467.17 L1092.04,1467.17 L1093.7,1467.17 L1095.36,1467.17 L1097.03,1467.17 L1098.69,1467.17 L1100.35,1467.16 L1102.01,1467.16 L1103.68,1467.16 L1105.34,1467.16 L1107,1467.16 L1108.66,1467.16 L1110.33,1467.15 L1111.99,1467.15 L1113.65,1467.15 L1115.31,1467.15 L1116.97,1467.15 L1118.64,1467.15 L1120.3,1467.14 L1121.96,1467.14 L1123.62,1467.14 L1125.29,1467.14 L1126.95,1467.14 L1128.61,1467.14 L1130.27,1467.13 L1131.94,1467.13 L1133.6,1467.13 L1135.26,1467.13 L1136.92,1467.13 L1138.59,1467.13 L1140.25,1467.12 L1141.91,1467.12 L1143.57,1467.12 L1145.23,1467.12 L1146.9,1467.12 L1148.56,1467.12 L1150.22,1467.11 L1151.88,1467.11 L1153.55,1467.11 L1155.21,1467.11 L1156.87,1467.11 L1158.53,1467.11 L1160.2,1467.1 L1161.86,1467.1 L1163.52,1467.1 L1165.18,1467.1 L1166.84,1467.1 L1168.51,1467.1 L1170.17,1467.09 L1171.83,1467.09 L1173.49,1467.09 L1175.16,1467.09 L1176.82,1467.09 L1178.48,1467.09 L1180.14,1467.08 L1181.81,1467.08 L1183.47,1467.08 L1185.13,1467.08 L1186.79,1467.08 L1188.45,1467.08 L1190.12,1467.07 L1191.78,1467.07 L1193.44,1467.07 L1195.1,1467.07 L1196.77,1467.07 L1198.43,1467.07 L1200.09,1467.06 L1201.75,1467.06 L1203.42,1467.06 L1205.08,1467.06 L1206.74,1467.06 L1208.4,1467.06 L1210.07,1467.05 L1211.73,1467.05 L1213.39,1467.05 L1215.05,1467.05 L1216.71,1467.05 L1218.38,1467.05 L1220.04,1467.04 L1221.7,1467.04 L1223.36,1467.04 L1225.03,1467.04 L1226.69,1467.04 L1228.35,1467.04 L1230.01,1467.03 L1231.68,1467.03 L1233.34,1467.03 L1235,1467.03 L1236.66,1467.03 L1238.33,1467.03 L1239.99,1467.02 L1241.65,1467.02 L1243.31,1467.02 L1244.97,1467.02 L1246.64,1467.02 L1248.3,1467.02 L1249.96,1467.01 L1251.62,1467.01 L1253.29,1467.01 L1254.95,1467.01 L1256.61,1467.01 L1258.27,1467.01 L1259.94,1467 L1261.6,1467 L1263.26,1467 L1264.92,1467 L1266.58,1467 L1268.25,1467 L1269.91,1466.99 L1271.57,1466.99 L1273.23,1466.99 L1274.9,1466.99 L1276.56,1466.99 L1278.22,1466.99 L1279.88,1466.98 L1281.55,1466.98 L1283.21,1466.98 L1284.87,1466.98 L1286.53,1466.98 L1288.19,1466.98 L1289.86,1466.97 L1291.52,1466.97 L1293.18,1466.97 L1294.84,1466.97 L1296.51,1466.97 L1298.17,1466.97 L1299.83,1466.96 L1301.49,1466.96 L1303.16,1466.96 L1304.82,1466.96 L1306.48,1466.96 L1308.14,1466.96 L1309.81,1466.95 L1311.47,1466.95 L1313.13,1466.95 L1314.79,1466.95 L1316.45,1466.95 L1318.12,1466.95 L1319.78,1466.94 L1321.44,1466.94 L1323.1,1466.94 L1324.77,1466.94 L1326.43,1466.94 L1328.09,1466.94 L1329.75,1466.93 L1331.42,1466.93 L1333.08,1466.93 L1334.74,1466.93 L1336.4,1466.93 L1338.07,1466.93 L1339.73,1466.92 L1341.39,1466.92 L1343.05,1466.92 L1344.71,1466.92 L1346.38,1466.92 L1348.04,1466.92 L1349.7,1466.91 L1351.36,1466.91 L1353.03,1466.91 L1354.69,1466.91 L1356.35,1466.91 L1358.01,1466.91 L1359.68,1466.9 L1361.34,1466.9 L1363,1466.9" fill="none" stroke="#000" stroke-width="2.4" stroke-linejoin="round" stroke-linecap="butt"/>
<text x="1346.7" y="999.2" font-size="46.3" text-anchor="middle" >(d)</text>
<text transform="translate(766.2,1139.5) rotate(-90)" font-size="37.5" text-anchor="middle"><tspan font-style="italic">R</tspan> per cell</text>
<line x1="88.4" y1="2202" x2="653" y2="2202" stroke="#3c3c3c" stroke-width="1.2"/>
<line x1="99.5" y1="1585.6" x2="99.5" y2="2234.5" stroke="#3c3c3c" stroke-width="1.2"/>
<line x1="235.1" y1="2202" x2="235.1" y2="2196.5" stroke="#3c3c3c" stroke-width="1.2"/>
<line x1="370.6" y1="2202" x2="370.6" y2="2196.5" stroke="#3c3c3c" stroke-width="1.2"/>
<line x1="506.1" y1="2202" x2="506.1" y2="2196.5" stroke="#3c3c3c" stroke-width="1.2"/>
<line x1="641.6" y1="2202" x2="641.6" y2="2196.5" stroke="#3c3c3c" stroke-width="1.2"/>
<line x1="126.7" y1="2202" x2="126.7" y2="2198.7" stroke="#3c3c3c" stroke-width="1.2"/>
<line x1="153.8" y1="2202" x2="153.8" y2="2198.7" stroke="#3c3c3c" stroke-width="1.2"/>
<line x1="180.9" y1="2202" x2="180.9" y2="2198.7" stroke="#3c3c3c" stroke-width="1.2"/>
<line x1="208" y1="2202" x2="208" y2="2198.7" stroke="#3c3c3c" stroke-width="1.2"/>
<line x1="262.2" y1="2202" x2="262.2" y2="2198.7" stroke="#3c3c3c" stroke-width="1.2"/>
<line x1="289.3" y1="2202" x2="289.3" y2="2198.7" stroke="#3c3c3c" stroke-width="1.2"/>
<line x1="316.4" y1="2202" x2="316.4" y2="2198.7" stroke="#3c3c3c" stroke-width="1.2"/>
<line x1="343.5" y1="2202" x2="343.5" y2="2198.7" stroke="#3c3c3c" stroke-width="1.2"/>
<line x1="397.7" y1="2202" x2="397.7" y2="2198.7" stroke="#3c3c3c" stroke-width="1.2"/>
<line x1="424.8" y1="2202" x2="424.8" y2="2198.7" stroke="#3c3c3c" stroke-width="1.2"/>
<line x1="451.9" y1="2202" x2="451.9" y2="2198.7" stroke="#3c3c3c" stroke-width="1.2"/>
<line x1="479" y1="2202" x2="479" y2="2198.7" stroke="#3c3c3c" stroke-width="1.2"/>
<line x1="533.2" y1="2202" x2="533.2" y2="2198.7" stroke="#3c3c3c" stroke-width="1.2"/>
<line x1="560.3" y1="2202" x2="560.3" y2="2198.7" stroke="#3c3c3c" stroke-width="1.2"/>
<line x1="587.4" y1="2202" x2="587.4" y2="2198.7" stroke="#3c3c3c" stroke-width="1.2"/>
<line x1="614.5" y1="2202" x2="614.5" y2="2198.7" stroke="#3c3c3c" stroke-width="1.2"/>
<line x1="99.5" y1="2070.3" x2="105" y2="2070.3" stroke="#3c3c3c" stroke-width="1.2"/>
<line x1="99.5" y1="1938.6" x2="105" y2="1938.6" stroke="#3c3c3c" stroke-width="1.2"/>
<line x1="99.5" y1="1806.9" x2="105" y2="1806.9" stroke="#3c3c3c" stroke-width="1.2"/>
<line x1="99.5" y1="1675.2" x2="105" y2="1675.2" stroke="#3c3c3c" stroke-width="1.2"/>
<line x1="99.5" y1="2228.34" x2="102.8" y2="2228.34" stroke="#3c3c3c" stroke-width="1.2"/>
<line x1="99.5" y1="2175.66" x2="102.8" y2="2175.66" stroke="#3c3c3c" stroke-width="1.2"/>
<line x1="99.5" y1="2149.32" x2="102.8" y2="2149.32" stroke="#3c3c3c" stroke-width="1.2"/>
<line x1="99.5" y1="2122.98" x2="102.8" y2="2122.98" stroke="#3c3c3c" stroke-width="1.2"/>
<line x1="99.5" y1="2096.64" x2="102.8" y2="2096.64" stroke="#3c3c3c" stroke-width="1.2"/>
<line x1="99.5" y1="2043.96" x2="102.8" y2="2043.96" stroke="#3c3c3c" stroke-width="1.2"/>
<line x1="99.5" y1="2017.62" x2="102.8" y2="2017.62" stroke="#3c3c3c" stroke-width="1.2"/>
<line x1="99.5" y1="1991.28" x2="102.8" y2="1991.28" stroke="#3c3c3c" stroke-width="1.2"/>
<line x1="99.5" y1="1964.94" x2="102.8" y2="1964.94" stroke="#3c3c3c" stroke-width="1.2"/>
<line x1="99.5" y1="1912.26" x2="102.8" y2="1912.26" stroke="#3c3c3c" stroke-width="1.2"/>
<line x1="99.5" y1="1885.92" x2="102.8" y2="1885.92" stroke="#3c3c3c" stroke-width="1.2"/>
<line x1="99.5" y1="1859.58" x2="102.8" y2="1859.58" stroke="#3c3c3c" stroke-width="1.2"/>
<line x1="99.5" y1="1833.24" x2="102.8" y2="1833.24" stroke="#3c3c3c" stroke-width="1.2"/>
<line x1="99.5" y1="1780.56" x2="102.8" y2="1780.56" stroke="#3c3c3c" stroke-width="1.2"/>
<line x1="99.5" y1="1754.22" x2="102.8" y2="1754.22" stroke="#3c3c3c" stroke-width="1.2"/>
<line x1="99.5" y1="1727.88" x2="102.8" y2="1727.88" stroke="#3c3c3c" stroke-width="1.2"/>
<line x1="99.5" y1="1701.54" x2="102.8" y2="1701.54" stroke="#3c3c3c" stroke-width="1.2"/>
<line x1="99.5" y1="1648.86" x2="102.8" y2="1648.86" stroke="#3c3c3c" stroke-width="1.2"/>
<line x1="99.5" y1="1622.52" x2="102.8" y2="1622.52" stroke="#3c3c3c" stroke-width="1.2"/>
<line x1="99.5" y1="1596.18" x2="102.8" y2="1596.18" stroke="#3c3c3c" stroke-width="1.2"/>
<text transform="translate(235.1,2236.1) scale(0.92,1)" font-size="33" text-anchor="middle">50</text>
<text transform="translate(370.6,2236.1) scale(0.92,1)" font-size="33" text-anchor="middle">100</text>
<text transform="translate(506.1,2236.1) scale(0.92,1)" font-size="33" text-anchor="middle">150</text>
<text transform="translate(641.6,2236.1) scale(0.92,1)" font-size="33" text-anchor="middle">200</text>
<text transform="translate(94.6,2082.7) scale(0.92,1)" font-size="33" text-anchor="end">0.5</text>
<text transform="translate(94.6,1951) scale(0.92,1)" font-size="33" text-anchor="end">1.0</text>
<text transform="translate(94.6,1819.3) scale(0.92,1)" font-size="33" text-anchor="end">1.5</text>
<text transform="translate(94.6,1687.6) scale(0.92,1)" font-size="33" text-anchor="end">2.0</text>
<path d="M99.6,2201.7 L102.31,2201.7 L105.02,2201.7 L107.73,2201.7 L110.44,2201.7 L113.15,2201.7 L115.86,2201.7 L118.57,2201.7 L121.28,2201.7 L123.99,2201.7 L126.7,2201.7 L129.41,2201.68 L132.12,2201.64 L134.83,2201.61 L137.54,2201.57 L140.25,2201.54 L142.96,2201.5 L145.67,2201.47 L148.38,2201.44 L151.09,2201.41 L153.8,2201.39 L156.51,2201.36 L159.22,2201.33 L161.93,2201.31 L164.64,2201.28 L167.35,2201.26 L170.06,2201.24 L172.77,2201.22 L175.48,2201.2 L178.19,2201.18 L180.9,2201.16 L183.61,2201.14 L186.32,2201.12 L189.03,2201.11 L191.74,2201.09 L194.45,2201.08 L197.16,2201.06 L199.87,2201.05 L202.58,2201.03 L205.29,2201.02 L208,2201.01 L210.71,2201 L213.42,2200.98 L216.13,2200.97 L218.84,2200.96 L221.55,2200.95 L224.26,2200.94 L226.97,2200.93 L229.68,2200.92 L232.39,2200.91 L235.1,2200.91 L237.81,2200.9 L240.52,2200.89 L243.23,2200.88 L245.94,2200.88 L248.65,2200.87 L251.36,2200.86 L254.07,2200.86 L256.78,2200.85 L259.49,2200.84 L262.2,2200.84 L264.91,2200.83 L267.62,2200.83 L270.33,2200.82 L273.04,2200.82 L275.75,2200.81 L278.46,2200.81 L281.17,2200.8 L283.88,2200.8 L286.59,2200.8 L289.3,2200.79 L292.01,2200.79 L294.72,2200.79 L297.43,2200.78 L300.14,2200.78 L302.85,2200.78 L305.56,2200.77 L308.27,2200.77 L310.98,2200.77 L313.69,2200.76 L316.4,2200.76 L319.11,2200.76 L321.82,2200.76 L324.53,2200.76 L327.24,2200.75 L329.95,2200.75 L332.66,2200.75 L335.37,2200.75 L338.08,2200.75 L340.79,2200.74 L343.5,2200.74 L346.21,2200.74 L348.92,2200.74 L351.63,2200.74 L354.34,2200.74 L357.05,2200.73 L359.76,2200.73 L362.47,2200.73 L365.18,2200.73 L367.89,2200.73 L370.6,2200.73 L373.31,2200.73 L376.02,2200.73 L378.73,2200.72 L381.44,2200.72 L384.15,2200.72 L386.86,2200.72 L389.57,2200.72 L392.28,2200.72 L394.99,2200.72 L397.7,2200.72 L400.41,2200.72 L403.12,2200.72 L405.83,2200.72 L408.54,2200.72 L411.25,2200.72 L413.96,2200.71 L416.67,2200.71 L419.38,2200.71 L422.09,2200.71 L424.8,2200.71 L427.51,2200.71 L430.22,2200.71 L432.93,2200.71 L435.64,2200.71 L438.35,2200.71 L441.06,2200.71 L443.77,2200.71 L446.48,2200.71 L449.19,2200.71 L451.9,2200.71 L454.61,2200.71 L457.32,2200.71 L460.03,2200.71 L462.74,2200.71 L465.45,2200.71 L468.16,2200.71 L470.87,2200.71 L473.58,2200.71 L476.29,2200.71 L479,2200.71 L481.71,2200.71 L484.42,2200.71 L487.13,2200.71 L489.84,2200.7 L492.55,2200.7 L495.26,2200.7 L497.97,2200.7 L500.68,2200.7 L503.39,2200.7 L506.1,2200.7 L508.81,2200.7 L511.52,2200.7 L514.23,2200.7 L516.94,2200.7 L519.65,2200.7 L522.36,2200.7 L525.07,2200.7 L527.78,2200.7 L530.49,2200.7 L533.2,2200.7 L535.91,2200.7 L538.62,2200.7 L541.33,2200.7 L544.04,2200.7 L546.75,2200.7 L549.46,2200.7 L552.17,2200.7 L554.88,2200.7 L557.59,2200.7 L560.3,2200.7 L563.01,2200.7 L565.72,2200.7 L568.43,2200.7 L571.14,2200.7 L573.85,2200.7 L576.56,2200.7 L579.27,2200.7 L581.98,2200.7 L584.69,2200.7 L587.4,2200.7 L590.11,2200.7 L592.82,2200.7 L595.53,2200.7 L598.24,2200.7 L600.95,2200.7 L603.66,2200.7 L606.37,2200.7 L609.08,2200.7 L611.79,2200.7 L614.5,2200.7 L617.21,2200.7 L619.92,2200.7 L622.63,2200.7 L625.34,2200.7 L628.05,2200.7 L630.76,2200.7 L633.47,2200.7 L636.18,2200.7 L638.89,2200.7 L641.6,2200.7" fill="none" stroke="#e60000" stroke-width="2.3" stroke-linejoin="round" stroke-linecap="butt"/>
<path d="M99.6,2201.7 L99.96,2201.7 L100.32,2201.7 L100.68,2201.7 L101.05,2201.7 L101.41,2201.7 L101.77,2201.7 L102.13,2201.7 L102.49,2201.7 L102.85,2201.7 L103.22,2201.7 L103.58,2201.7 L103.94,2201.7 L104.3,2201.7 L104.66,2201.7 L105.02,2201.7 L105.39,2201.7 L105.75,2201.7 L106.11,2201.7 L106.47,2201.69 L106.83,2201.65 L107.19,2201.61 L107.55,2201.56 L107.92,2201.52 L108.28,2201.48 L108.64,2201.43 L109,2201.39 L109.36,2201.34 L109.72,2201.3 L110.09,2201.26 L110.45,2201.21 L110.81,2201.17 L111.17,2201.13 L111.53,2201.09 L111.89,2201.04 L112.26,2201 L112.62,2200.96 L112.98,2200.92 L113.34,2200.88 L113.7,2200.84 L114.06,2200.81 L114.42,2200.77 L114.79,2200.73 L115.15,2200.7 L115.51,2200.66 L115.87,2200.63 L116.23,2200.6 L116.59,2200.57 L116.96,2200.54 L117.32,2200.51 L117.68,2200.49 L118.04,2200.46 L118.4,2200.44 L118.76,2200.41 L119.13,2200.39 L119.49,2200.37 L119.85,2200.36 L120.21,2200.34 L120.57,2200.32 L120.93,2200.31 L121.29,2200.3 L121.66,2200.29 L122.02,2200.28 L122.38,2200.27 L122.74,2200.26 L123.1,2200.26 L122.74,2200.41 L122.42,2200.64 L122.62,2200.25 L122.94,2199.54 L123.31,2198.66 L123.7,2197.65 L124.11,2196.54 L124.55,2195.35 L125.01,2194.08 L125.48,2192.75 L125.98,2191.36 L126.49,2189.91 L127.01,2188.41 L127.53,2186.87 L128.05,2185.28 L128.56,2183.64 L129.05,2181.97 L129.53,2180.25 L130,2178.5 L130.44,2176.71 L130.88,2174.89 L131.3,2173.04 L131.7,2171.17 L132.1,2169.26 L132.49,2167.34 L132.87,2165.39 L133.25,2163.42 L133.62,2161.43 L134,2159.43 L134.37,2157.4 L134.74,2155.36 L135.12,2153.31 L135.49,2151.24 L135.86,2149.16 L136.23,2147.07 L136.6,2144.97 L136.97,2142.85 L137.34,2140.73 L137.71,2138.59 L138.08,2136.45 L138.45,2134.3 L138.81,2132.14 L139.18,2129.98 L139.55,2127.8 L139.91,2125.62 L140.28,2123.44 L140.64,2121.25 L141.01,2119.06 L141.37,2116.86 L141.74,2114.66 L142.1,2112.46 L142.46,2110.25 L142.82,2108.04 L143.18,2105.83 L143.55,2103.61 L143.91,2101.4 L144.27,2099.18 L144.63,2096.96 L144.99,2094.75 L145.35,2092.53 L145.71,2090.31 L146.06,2088.09 L146.42,2085.88 L146.78,2083.66 L147.14,2081.44 L147.49,2079.23 L147.85,2077.02 L148.21,2074.81 L148.56,2072.6 L148.92,2070.39 L149.27,2068.19 L149.63,2065.99 L149.98,2063.79 L150.34,2061.6 L150.69,2059.4 L151.04,2057.21 L151.4,2055.03 L151.75,2052.85 L152.1,2050.67 L152.46,2048.5 L152.81,2046.33 L153.16,2044.16 L153.51,2042 L153.87,2039.85 L154.22,2037.7 L154.57,2035.55 L154.92,2033.41 L155.27,2031.27 L155.62,2029.14 L155.97,2027.01 L156.32,2024.89 L156.67,2022.78 L157.02,2020.67 L157.37,2018.57 L157.72,2016.47 L158.07,2014.38 L158.42,2012.29 L158.77,2010.21 L159.12,2008.14 L159.47,2006.07 L159.82,2004.01 L160.17,2001.95 L160.52,1999.9 L160.87,1997.86 L161.22,1995.83 L161.57,1993.8 L161.92,1991.77 L162.27,1989.76 L162.62,1987.75 L162.97,1985.75 L163.32,1983.75 L163.67,1981.77 L164.02,1979.78 L164.36,1977.81 L164.71,1975.84 L165.06,1973.88 L165.41,1971.93 L165.76,1969.99 L166.11,1968.05 L166.46,1966.12 L166.81,1964.19 L167.16,1962.28 L167.51,1960.37 L167.86,1958.47 L168.21,1956.57 L168.56,1954.69 L168.91,1952.81 L169.26,1950.94 L169.61,1949.07 L169.96,1947.21 L170.31,1945.37 L170.66,1943.52 L171.01,1941.69 L171.36,1939.86 L171.71,1938.05 L172.06,1936.24 L172.41,1934.43 L172.76,1932.64 L173.11,1930.85 L173.46,1929.07 L173.82,1927.3 L174.17,1925.53 L174.52,1923.77 L174.87,1922.02 L175.22,1920.28 L175.57,1918.55 L175.93,1916.82 L176.28,1915.1 L176.63,1913.39 L176.98,1911.69 L177.34,1910 L177.69,1908.31 L178.04,1906.63 L178.39,1904.96 L178.75,1903.29 L179.1,1901.63 L179.45,1899.99 L179.81,1898.34 L180.16,1896.71 L180.52,1895.08 L180.87,1893.47 L181.22,1891.86 L181.58,1890.25 L181.93,1888.66 L182.29,1887.07 L182.64,1885.49 L183,1883.92 L183.35,1882.35 L183.71,1880.8 L184.07,1879.25 L184.42,1877.7 L184.78,1876.17 L185.13,1874.64 L185.49,1873.12 L185.85,1871.61 L186.2,1870.11 L186.56,1868.61 L186.92,1867.12 L187.27,1865.64 L187.63,1864.16 L187.99,1862.7 L188.35,1861.24 L188.71,1859.79 L189.06,1858.34 L189.42,1856.9 L189.78,1855.47 L190.14,1854.05 L190.5,1852.63 L190.86,1851.23 L191.22,1849.82 L191.57,1848.43 L191.93,1847.04 L192.29,1845.67 L192.65,1844.29 L193.01,1842.93 L193.37,1841.57 L193.73,1840.22 L194.09,1838.88 L194.45,1837.54 L194.81,1836.21 L195.17,1834.89 L195.54,1833.57 L195.9,1832.26 L196.26,1830.96 L196.62,1829.67 L196.98,1828.38 L197.34,1827.1 L197.7,1825.82 L198.06,1824.56 L198.43,1823.3 L198.79,1822.04 L199.15,1820.8 L199.51,1819.56 L199.87,1818.32 L200.24,1817.1 L200.6,1815.88 L200.96,1814.66 L201.32,1813.46 L201.69,1812.26 L202.05,1811.06 L202.41,1809.88 L202.78,1808.7 L203.14,1807.52 L203.5,1806.36 L203.86,1805.19 L204.23,1804.04 L204.59,1802.89 L204.95,1801.75 L205.32,1800.61 L205.68,1799.49 L206.05,1798.36 L206.41,1797.25 L206.77,1796.14 L207.14,1795.03 L207.5,1793.93 L207.87,1792.84 L208.23,1791.76 L208.59,1790.68 L208.96,1789.6 L209.32,1788.54 L209.69,1787.48 L210.05,1786.42 L210.42,1785.37 L210.78,1784.33 L211.15,1783.29 L211.51,1782.26 L211.88,1781.23 L212.24,1780.21 L212.61,1779.2 L212.97,1778.19 L213.34,1777.19 L213.7,1776.19 L214.07,1775.2 L214.43,1774.22 L214.8,1773.24 L215.16,1772.27 L215.53,1771.3 L215.89,1770.34 L216.26,1769.38 L216.62,1768.43 L216.99,1767.48 L217.36,1766.54 L217.72,1765.61 L218.09,1764.68 L218.45,1763.75 L218.82,1762.83 L219.18,1761.92 L219.55,1761.01 L219.92,1760.11 L220.28,1759.21 L220.65,1758.32 L221.01,1757.44 L221.38,1756.55 L221.75,1755.68 L222.11,1754.81 L222.48,1753.94 L222.84,1753.08 L223.21,1752.22 L223.58,1751.37 L223.94,1750.53 L224.31,1749.69 L224.68,1748.85 L225.04,1748.02 L225.41,1747.19 L225.78,1746.37 L226.14,1745.56 L226.51,1744.75 L226.87,1743.94 L227.24,1743.14 L227.61,1742.34 L227.97,1741.55 L228.34,1740.76 L228.71,1739.98 L229.07,1739.2 L229.44,1738.43 L229.81,1737.66 L230.17,1736.9 L230.54,1736.14 L230.91,1735.39 L231.27,1734.64 L231.64,1733.89 L232.01,1733.15 L232.37,1732.41 L232.74,1731.68 L233.11,1730.96 L233.47,1730.23 L233.84,1729.51 L234.21,1728.8 L234.57,1728.09 L234.94,1727.38 L235.31,1726.68 L235.67,1725.99 L236.04,1725.29 L236.41,1724.6 L236.77,1723.92 L237.14,1723.24 L237.51,1722.56 L237.87,1721.89 L238.24,1721.23 L238.61,1720.56 L238.97,1719.9 L239.34,1719.25 L239.71,1718.6 L240.07,1717.95 L240.44,1717.31 L240.81,1716.67 L241.17,1716.03 L241.54,1715.4 L241.91,1714.77 L242.27,1714.15 L242.64,1713.53 L243.01,1712.91 L243.37,1712.3 L243.74,1711.69 L244.11,1711.09 L244.47,1710.49 L244.84,1709.89 L245.21,1709.3 L245.57,1708.71 L245.94,1708.12 L246.3,1707.54 L246.67,1706.96 L247.04,1706.39 L247.4,1705.82 L247.77,1705.25 L248.14,1704.68 L248.5,1704.12 L248.87,1703.57 L249.24,1703.01 L249.6,1702.46 L249.97,1701.91 L250.33,1701.37 L250.7,1700.83 L251.07,1700.29 L251.43,1699.76 L251.8,1699.23 L252.16,1698.71 L252.53,1698.18 L252.9,1697.66 L253.26,1697.15 L253.63,1696.63 L253.99,1696.12 L254.36,1695.62 L254.73,1695.11 L255.09,1694.61 L255.46,1694.11 L255.82,1693.62 L256.19,1693.13 L256.56,1692.64 L256.92,1692.16 L257.29,1691.67 L257.65,1691.2 L258.02,1690.72 L258.38,1690.25 L258.75,1689.78 L259.11,1689.31 L259.48,1688.85 L259.84,1688.39 L260.21,1687.93 L260.57,1687.47 L260.94,1687.02 L261.31,1686.57 L261.67,1686.13 L262.04,1685.68 L262.4,1685.24 L262.77,1684.81 L263.13,1684.37 L263.5,1683.94 L263.86,1683.51 L264.23,1683.08 L264.59,1682.66 L264.95,1682.24 L265.32,1681.82 L265.68,1681.4 L266.05,1680.99 L266.41,1680.58 L266.78,1680.17 L267.14,1679.77 L267.51,1679.36 L267.87,1678.96 L268.24,1678.57 L268.6,1678.17 L268.96,1677.78 L269.33,1677.39 L269.69,1677 L270.06,1676.62 L270.42,1676.23 L270.79,1675.85 L271.15,1675.48 L271.51,1675.1 L271.88,1674.73 L272.24,1674.36 L272.6,1673.99 L272.97,1673.63 L273.33,1673.26 L273.7,1672.9 L274.06,1672.54 L274.42,1672.19 L274.79,1671.83 L275.15,1671.48 L275.51,1671.13 L275.88,1670.79 L276.24,1670.44 L276.61,1670.1 L276.97,1669.76 L277.33,1669.42 L277.7,1669.08 L278.06,1668.75 L278.42,1668.42 L278.78,1668.09 L279.15,1667.76 L279.51,1667.44 L279.87,1667.11 L280.24,1666.79 L280.6,1666.47 L280.96,1666.16 L281.33,1665.84 L281.69,1665.53 L282.05,1665.22 L282.41,1664.91 L282.78,1664.6 L283.14,1664.3 L283.5,1663.99 L283.87,1663.69 L284.23,1663.4 L284.59,1663.1 L284.95,1662.8 L285.32,1662.51 L285.68,1662.22 L286.04,1661.93 L286.4,1661.64 L286.77,1661.36 L287.13,1661.07 L287.49,1660.79 L287.85,1660.51 L288.22,1660.23 L288.58,1659.96 L288.94,1659.68 L289.3,1659.41 L289.66,1659.14 L290.03,1658.87 L290.39,1658.6 L290.75,1658.34 L291.11,1658.07 L291.47,1657.81 L291.84,1657.55 L292.2,1657.29 L292.56,1657.03 L292.92,1656.78 L293.28,1656.52 L293.65,1656.27 L294.01,1656.02 L294.37,1655.77 L294.73,1655.53 L295.09,1655.28 L295.45,1655.04 L295.82,1654.79 L296.18,1654.55 L296.54,1654.31 L296.9,1654.08 L297.26,1653.84 L297.62,1653.6 L297.99,1653.37 L298.35,1653.14 L298.71,1652.91 L299.07,1652.68 L299.43,1652.45 L299.79,1652.23 L300.15,1652 L300.52,1651.78 L300.88,1651.56 L301.24,1651.34 L301.6,1651.12 L301.96,1650.91 L302.32,1650.69 L302.68,1650.48 L303.04,1650.26 L303.4,1650.05 L303.77,1649.84 L304.13,1649.63 L304.49,1649.43 L304.85,1649.22 L305.21,1649.02 L305.57,1648.81 L305.93,1648.61 L306.29,1648.41 L306.65,1648.21 L307.02,1648.01 L307.38,1647.82 L307.74,1647.62 L308.1,1647.43 L308.46,1647.23 L308.82,1647.04 L309.18,1646.85 L309.54,1646.66 L309.9,1646.47 L310.26,1646.29 L310.62,1646.1 L310.98,1645.92 L311.35,1645.73 L311.71,1645.55 L312.07,1645.37 L312.43,1645.19 L312.79,1645.01 L313.15,1644.84 L313.51,1644.66 L313.87,1644.49 L314.23,1644.31 L314.59,1644.14 L314.95,1643.97 L315.31,1643.8 L315.67,1643.63 L316.03,1643.46 L316.39,1643.29 L316.76,1643.13 L317.12,1642.96 L317.48,1642.8 L317.84,1642.64 L318.2,1642.47 L318.56,1642.31 L318.92,1642.15 L319.28,1642 L319.64,1641.84 L320,1641.68 L320.36,1641.53 L320.72,1641.37 L321.08,1641.22 L321.44,1641.07 L321.8,1640.91 L322.16,1640.76 L322.52,1640.62 L322.88,1640.47 L323.25,1640.32 L323.61,1640.17 L323.97,1640.03 L324.33,1639.88 L324.69,1639.74 L325.05,1639.6 L325.41,1639.45 L325.77,1639.31 L326.13,1639.17 L326.49,1639.03 L326.85,1638.9 L327.21,1638.76 L327.57,1638.62 L327.93,1638.49 L328.29,1638.35 L328.65,1638.22 L329.01,1638.09 L329.37,1637.95 L329.73,1637.82 L330.09,1637.69 L330.45,1637.56 L330.81,1637.43 L331.17,1637.31 L331.54,1637.18 L331.9,1637.05 L332.26,1636.93 L332.62,1636.8 L332.98,1636.68 L333.34,1636.56 L333.7,1636.44 L334.06,1636.31 L334.42,1636.19 L334.78,1636.07 L335.14,1635.96 L335.5,1635.84 L335.86,1635.72 L336.22,1635.6 L336.58,1635.49 L336.94,1635.37 L337.3,1635.26 L337.66,1635.14 L338.02,1635.03 L338.38,1634.92 L338.74,1634.81 L339.1,1634.7 L339.46,1634.59 L339.83,1634.48 L340.19,1634.37 L340.55,1634.26 L340.91,1634.16 L341.27,1634.05 L341.63,1633.94 L341.99,1633.84 L342.35,1633.73 L342.71,1633.63 L343.07,1633.53 L343.43,1633.43 L343.79,1633.32 L344.15,1633.22 L344.51,1633.12 L344.87,1633.02 L345.23,1632.92 L345.59,1632.83 L345.95,1632.73 L346.31,1632.63 L346.67,1632.53 L347.04,1632.44 L347.4,1632.34 L347.76,1632.25 L348.12,1632.15 L348.48,1632.06 L348.84,1631.97 L349.2,1631.88 L349.56,1631.78 L349.92,1631.69 L350.28,1631.6 L350.64,1631.51 L351,1631.42 L351.36,1631.34 L351.72,1631.25 L352.08,1631.16 L352.44,1631.07 L352.8,1630.99 L353.16,1630.9 L353.53,1630.82 L353.89,1630.73 L354.25,1630.65 L354.61,1630.56 L354.97,1630.48 L355.33,1630.4 L355.69,1630.32 L356.05,1630.23 L356.41,1630.15 L356.77,1630.07 L357.13,1629.99 L357.49,1629.91 L357.85,1629.84 L358.21,1629.76 L358.57,1629.68 L358.93,1629.6 L359.3,1629.53 L359.66,1629.45 L360.02,1629.37 L360.38,1629.3 L360.74,1629.22 L361.1,1629.15 L361.46,1629.07 L361.82,1629 L362.18,1628.93 L362.54,1628.86 L362.9,1628.78 L363.26,1628.71 L363.62,1628.64 L363.98,1628.57 L364.35,1628.5 L364.71,1628.43 L365.07,1628.36 L365.43,1628.29 L365.79,1628.22 L366.15,1628.16 L366.51,1628.09 L366.87,1628.02 L367.23,1627.96 L367.59,1627.89 L367.95,1627.82 L368.31,1627.76 L368.67,1627.69 L369.04,1627.63 L369.4,1627.56 L369.76,1627.5 L370.12,1627.44 L370.48,1627.37 L370.84,1627.31 L371.2,1627.25 L371.56,1627.19 L371.92,1627.13 L372.28,1627.07 L372.64,1627.01 L373.01,1626.95 L373.37,1626.89 L373.73,1626.83 L374.09,1626.77 L374.45,1626.71 L374.81,1626.65 L375.17,1626.59 L375.53,1626.54 L375.89,1626.48 L376.25,1626.42 L376.61,1626.37 L376.98,1626.31 L377.34,1626.25 L377.7,1626.2 L378.06,1626.14 L378.42,1626.09 L378.78,1626.03 L379.14,1625.98 L379.5,1625.93 L379.86,1625.87 L380.22,1625.82 L380.58,1625.77 L380.95,1625.72 L381.31,1625.66 L381.67,1625.61 L382.03,1625.56 L382.39,1625.51 L382.75,1625.46 L383.11,1625.41 L383.47,1625.36 L383.83,1625.31 L384.19,1625.26 L384.56,1625.21 L384.92,1625.16 L385.28,1625.12 L385.64,1625.07 L386,1625.02 L386.36,1624.97 L386.72,1624.93 L387.08,1624.88 L387.44,1624.83 L387.81,1624.79 L388.17,1624.74 L388.53,1624.69 L388.89,1624.65 L389.25,1624.6 L389.61,1624.56 L389.97,1624.51 L390.33,1624.47 L390.69,1624.43 L391.05,1624.38 L391.42,1624.34 L391.78,1624.3 L392.14,1624.25 L392.5,1624.21 L392.86,1624.17 L393.22,1624.13 L393.58,1624.08 L393.94,1624.04 L394.31,1624 L394.67,1623.96 L395.03,1623.92 L395.39,1623.88 L395.75,1623.84 L396.11,1623.8 L396.47,1623.76 L396.83,1623.72 L397.19,1623.68 L397.56,1623.64 L397.92,1623.6 L398.28,1623.56 L398.64,1623.53 L399,1623.49 L399.36,1623.45 L399.72,1623.41 L400.08,1623.37 L400.45,1623.34 L400.81,1623.3 L401.17,1623.26 L401.53,1623.23 L401.89,1623.19 L402.25,1623.16 L402.61,1623.12 L402.97,1623.08 L403.34,1623.05 L403.7,1623.01 L404.06,1622.98 L404.42,1622.94 L404.78,1622.91 L405.14,1622.88 L405.5,1622.84 L405.86,1622.81 L406.23,1622.77 L406.59,1622.74 L406.95,1622.71 L407.31,1622.67 L407.67,1622.64 L408.03,1622.61 L408.39,1622.58 L408.75,1622.54 L409.12,1622.51 L409.48,1622.48 L409.84,1622.45 L410.2,1622.42 L410.56,1622.39 L410.92,1622.36 L411.28,1622.32 L411.64,1622.29 L412.01,1622.26 L412.37,1622.23 L412.73,1622.2 L413.09,1622.17 L413.45,1622.14 L413.81,1622.11 L414.17,1622.08 L414.54,1622.06 L414.9,1622.03 L415.26,1622 L415.62,1621.97 L415.98,1621.94 L416.34,1621.91 L416.7,1621.88 L417.06,1621.86 L417.43,1621.83 L417.79,1621.8 L418.15,1621.77 L418.51,1621.75 L418.87,1621.72 L419.23,1621.69 L419.59,1621.67 L419.96,1621.64 L420.32,1621.61 L420.68,1621.59 L421.04,1621.56 L421.4,1621.53 L421.76,1621.51 L422.12,1621.48 L422.49,1621.46 L422.85,1621.43 L423.21,1621.41 L423.57,1621.38 L423.93,1621.36 L424.29,1621.33 L424.65,1621.31 L425.02,1621.28 L425.38,1621.26 L425.74,1621.23 L426.1,1621.21 L426.46,1621.19 L426.82,1621.16 L427.18,1621.14 L427.54,1621.12 L427.91,1621.09 L428.27,1621.07 L428.63,1621.05 L428.99,1621.02 L429.35,1621 L429.71,1620.98 L430.07,1620.96 L430.44,1620.93 L430.8,1620.91 L431.16,1620.89 L431.52,1620.87 L431.88,1620.84 L432.24,1620.82 L432.61,1620.8 L432.97,1620.78 L433.33,1620.76 L433.69,1620.74 L434.05,1620.72 L434.41,1620.7 L434.77,1620.68 L435.14,1620.65 L435.5,1620.63 L435.86,1620.61 L436.22,1620.59 L436.58,1620.57 L436.94,1620.55 L437.3,1620.53 L437.67,1620.51 L438.03,1620.49 L438.39,1620.47 L438.75,1620.45 L439.11,1620.43 L439.47,1620.42 L439.83,1620.4 L440.2,1620.38 L440.56,1620.36 L440.92,1620.34 L441.28,1620.32 L441.64,1620.3 L442,1620.28 L442.37,1620.27 L442.73,1620.25 L443.09,1620.23 L443.45,1620.21 L443.81,1620.19 L444.17,1620.18 L444.53,1620.16 L444.9,1620.14 L445.26,1620.12 L445.62,1620.1 L445.98,1620.09 L446.34,1620.07 L446.7,1620.05 L447.06,1620.04 L447.43,1620.02 L447.79,1620 L448.15,1619.99 L448.51,1619.97 L448.87,1619.95 L449.23,1619.94 L449.6,1619.92 L449.96,1619.9 L450.32,1619.89 L450.68,1619.87 L451.04,1619.86 L451.4,1619.84 L451.76,1619.82 L452.13,1619.81 L452.49,1619.79 L452.85,1619.78 L453.21,1619.76 L453.57,1619.75 L453.93,1619.73 L454.3,1619.72 L454.66,1619.7 L455.02,1619.69 L455.38,1619.67 L455.74,1619.66 L456.1,1619.64 L456.46,1619.63 L456.83,1619.61 L457.19,1619.6 L457.55,1619.58 L457.91,1619.57 L458.27,1619.55 L458.63,1619.54 L459,1619.53 L459.36,1619.51 L459.72,1619.5 L460.08,1619.48 L460.44,1619.47 L460.8,1619.46 L461.16,1619.44 L461.53,1619.43 L461.89,1619.42 L462.25,1619.4 L462.61,1619.39 L462.97,1619.38 L463.33,1619.36 L463.7,1619.35 L464.06,1619.34 L464.42,1619.33 L464.78,1619.31 L465.14,1619.3 L465.5,1619.29 L465.86,1619.27 L466.23,1619.26 L466.59,1619.25 L466.95,1619.24 L467.31,1619.22 L467.67,1619.21 L468.03,1619.2 L468.4,1619.19 L468.76,1619.18 L469.12,1619.16 L469.48,1619.15 L469.84,1619.14 L470.2,1619.13 L470.57,1619.12 L470.93,1619.11 L471.29,1619.09 L471.65,1619.08 L472.01,1619.07 L472.37,1619.06 L472.73,1619.05 L473.1,1619.04 L473.46,1619.03 L473.82,1619.02 L474.18,1619 L474.54,1618.99 L474.9,1618.98 L475.27,1618.97 L475.63,1618.96 L475.99,1618.95 L476.35,1618.94 L476.71,1618.93 L477.07,1618.92 L477.44,1618.91 L477.8,1618.9 L478.16,1618.89 L478.52,1618.88 L478.88,1618.87 L479.24,1618.86 L479.6,1618.85 L479.97,1618.84 L480.33,1618.83 L480.69,1618.82 L481.05,1618.81 L481.41,1618.8 L481.77,1618.79 L482.14,1618.78 L482.5,1618.77 L482.86,1618.76 L483.22,1618.75 L483.58,1618.74 L483.94,1618.73 L484.31,1618.72 L484.67,1618.71 L485.03,1618.7 L485.39,1618.69 L485.75,1618.68 L486.11,1618.67 L486.48,1618.67 L486.84,1618.66 L487.2,1618.65 L487.56,1618.64 L487.92,1618.63 L488.28,1618.62 L488.64,1618.61 L489.01,1618.6 L489.37,1618.6 L489.73,1618.59 L490.09,1618.58 L490.45,1618.57 L490.81,1618.56 L491.18,1618.55 L491.54,1618.54 L491.9,1618.54 L492.26,1618.53 L492.62,1618.52 L492.98,1618.51 L493.35,1618.5 L493.71,1618.5 L494.07,1618.49 L494.43,1618.48 L494.79,1618.47 L495.15,1618.46 L495.52,1618.46 L495.88,1618.45 L496.24,1618.44 L496.6,1618.43 L496.96,1618.43 L497.32,1618.42 L497.68,1618.41 L498.05,1618.4 L498.41,1618.4 L498.77,1618.39 L499.13,1618.38 L499.49,1618.37 L499.85,1618.37 L500.22,1618.36 L500.58,1618.35 L500.94,1618.35 L501.3,1618.34 L501.66,1618.33 L502.02,1618.33 L502.39,1618.32 L502.75,1618.31 L503.11,1618.3 L503.47,1618.3 L503.83,1618.29 L504.19,1618.28 L504.56,1618.28 L504.92,1618.27 L505.28,1618.27 L505.64,1618.26 L506,1618.25 L506.36,1618.25 L506.72,1618.24 L507.09,1618.23 L507.45,1618.23 L507.81,1618.22 L508.17,1618.21 L508.53,1618.21 L508.89,1618.2 L509.26,1618.2 L509.62,1618.19 L509.98,1618.18 L510.34,1618.18 L510.7,1618.17 L511.06,1618.17 L511.43,1618.16 L511.79,1618.15 L512.15,1618.15 L512.51,1618.14 L512.87,1618.14 L513.23,1618.13 L513.6,1618.13 L513.96,1618.12 L514.32,1618.12 L514.68,1618.11 L515.04,1618.1 L515.4,1618.1 L515.77,1618.09 L516.13,1618.09 L516.49,1618.08 L516.85,1618.08 L517.21,1618.07 L517.57,1618.07 L517.93,1618.06 L518.3,1618.06 L518.66,1618.05 L519.02,1618.05 L519.38,1618.04 L519.74,1618.04 L520.1,1618.03 L520.47,1618.03 L520.83,1618.02 L521.19,1618.02 L521.55,1618.01 L521.91,1618.01 L522.27,1618 L522.64,1618 L523,1617.99 L523.36,1617.99 L523.72,1617.99 L524.08,1617.98 L524.44,1617.98 L524.81,1617.97 L525.17,1617.97 L525.53,1617.96 L525.89,1617.96 L526.25,1617.95 L526.61,1617.95 L526.97,1617.95 L527.34,1617.94 L527.7,1617.94 L528.06,1617.93 L528.42,1617.93 L528.78,1617.93 L529.14,1617.92 L529.51,1617.92 L529.87,1617.91 L530.23,1617.91 L530.59,1617.91 L530.95,1617.9 L531.31,1617.9 L531.68,1617.89 L532.04,1617.89 L532.4,1617.89 L532.76,1617.88 L533.12,1617.88 L533.48,1617.88 L533.85,1617.87 L534.21,1617.87 L534.57,1617.87 L534.93,1617.86 L535.29,1617.86 L535.65,1617.86 L536.02,1617.85 L536.38,1617.85 L536.74,1617.85 L537.1,1617.84 L537.46,1617.84 L537.82,1617.84 L538.18,1617.83 L538.55,1617.83 L538.91,1617.83 L539.27,1617.82 L539.63,1617.82 L539.99,1617.82 L540.35,1617.81 L540.72,1617.81 L541.08,1617.81 L541.44,1617.81 L541.8,1617.8 L542.16,1617.8 L542.52,1617.8 L542.89,1617.79 L543.25,1617.79 L543.61,1617.79 L543.97,1617.79 L544.33,1617.78 L544.69,1617.78 L545.06,1617.78 L545.42,1617.78 L545.78,1617.77 L546.14,1617.77 L546.5,1617.77 L546.86,1617.77 L547.22,1617.76 L547.59,1617.76 L547.95,1617.76 L548.31,1617.76 L548.67,1617.75 L549.03,1617.75 L549.39,1617.75 L549.76,1617.75 L550.12,1617.75 L550.48,1617.74 L550.84,1617.74 L551.2,1617.74 L551.56,1617.74 L551.93,1617.74 L552.29,1617.73 L552.65,1617.73 L553.01,1617.73 L553.37,1617.73 L553.73,1617.73 L554.1,1617.72 L554.46,1617.72 L554.82,1617.72 L555.18,1617.72 L555.54,1617.72 L555.9,1617.72 L556.26,1617.71 L556.63,1617.71 L556.99,1617.71 L557.35,1617.71 L557.71,1617.71 L558.07,1617.71 L558.43,1617.71 L558.8,1617.7 L559.16,1617.7 L559.52,1617.7 L559.88,1617.7 L560.24,1617.7 L560.6,1617.7 L560.97,1617.7 L561.33,1617.7 L561.69,1617.69 L562.05,1617.69 L562.41,1617.69 L562.77,1617.69 L563.14,1617.69 L563.5,1617.69 L563.86,1617.69 L564.22,1617.69 L564.58,1617.69 L564.94,1617.69 L565.3,1617.69 L565.67,1617.68 L566.03,1617.68 L566.39,1617.68 L566.75,1617.68 L567.11,1617.68 L567.47,1617.68 L567.84,1617.68 L568.2,1617.68 L568.56,1617.68 L568.92,1617.68 L569.28,1617.68 L569.64,1617.68 L570.01,1617.68 L570.37,1617.68 L570.73,1617.68 L571.09,1617.68 L571.45,1617.68 L571.81,1617.68 L572.18,1617.68 L572.54,1617.67 L572.9,1617.67 L573.26,1617.67 L573.62,1617.67 L573.98,1617.67 L574.34,1617.67 L574.71,1617.67 L575.07,1617.67 L575.43,1617.67 L575.79,1617.67 L576.15,1617.67 L576.51,1617.67 L576.88,1617.67 L577.24,1617.67 L577.6,1617.67 L577.96,1617.68 L578.32,1617.68 L578.68,1617.68 L579.05,1617.68 L579.41,1617.68 L579.77,1617.68 L580.13,1617.68 L580.49,1617.68 L580.85,1617.68 L581.22,1617.68 L581.58,1617.68 L581.94,1617.68 L582.3,1617.68 L582.66,1617.68 L583.02,1617.68 L583.38,1617.68 L583.75,1617.68 L584.11,1617.68 L584.47,1617.68 L584.83,1617.69 L585.19,1617.69 L585.55,1617.69 L585.92,1617.69 L586.28,1617.69 L586.64,1617.69 L587,1617.69 L587.36,1617.69 L587.72,1617.69 L588.09,1617.69 L588.45,1617.69 L588.81,1617.7 L589.17,1617.7 L589.53,1617.7 L589.89,1617.7 L590.25,1617.7 L590.62,1617.7 L590.98,1617.7 L591.34,1617.7 L591.7,1617.71 L592.06,1617.71 L592.42,1617.71 L592.79,1617.71 L593.15,1617.71 L593.51,1617.71 L593.87,1617.72 L594.23,1617.72 L594.59,1617.72 L594.96,1617.72 L595.32,1617.72 L595.68,1617.72 L596.04,1617.73 L596.4,1617.73 L596.76,1617.73 L597.13,1617.73 L597.49,1617.73 L597.85,1617.73 L598.21,1617.74 L598.57,1617.74 L598.93,1617.74 L599.29,1617.74 L599.66,1617.74 L600.02,1617.75 L600.38,1617.75 L600.74,1617.75 L601.1,1617.75 L601.46,1617.76 L601.83,1617.76 L602.19,1617.76 L602.55,1617.76 L602.91,1617.76 L603.27,1617.77 L603.63,1617.77 L604,1617.77 L604.36,1617.77 L604.72,1617.78 L605.08,1617.78 L605.44,1617.78 L605.8,1617.78 L606.16,1617.79 L606.53,1617.79 L606.89,1617.79 L607.25,1617.79 L607.61,1617.8 L607.97,1617.8 L608.33,1617.8 L608.7,1617.81 L609.06,1617.81 L609.42,1617.81 L609.78,1617.81 L610.14,1617.82 L610.5,1617.82 L610.87,1617.82 L611.23,1617.83 L611.59,1617.83 L611.95,1617.83 L612.31,1617.84 L612.67,1617.84 L613.03,1617.84 L613.4,1617.85 L613.76,1617.85 L614.12,1617.85 L614.48,1617.86 L614.84,1617.86 L615.2,1617.86 L615.57,1617.87 L615.93,1617.87 L616.29,1617.87 L616.65,1617.88 L617.01,1617.88 L617.37,1617.88 L617.74,1617.89 L618.1,1617.89 L618.46,1617.89 L618.82,1617.9 L619.18,1617.9 L619.54,1617.91 L619.9,1617.91 L620.27,1617.91 L620.63,1617.92 L620.99,1617.92 L621.35,1617.92 L621.71,1617.93 L622.07,1617.93 L622.44,1617.94 L622.8,1617.94 L623.16,1617.95 L623.52,1617.95 L623.88,1617.95 L624.24,1617.96 L624.61,1617.96 L624.97,1617.97 L625.33,1617.97 L625.69,1617.97 L626.05,1617.98 L626.41,1617.98 L626.78,1617.99 L627.14,1617.99 L627.5,1618 L627.86,1618 L628.22,1618.01 L628.58,1618.01 L628.94,1618.02 L629.31,1618.02 L629.67,1618.02 L630.03,1618.03 L630.39,1618.03 L630.75,1618.04 L631.11,1618.04 L631.48,1618.05 L631.84,1618.05 L632.2,1618.06 L632.56,1618.06 L632.92,1618.07 L633.28,1618.07 L633.65,1618.08 L634.01,1618.08 L634.37,1618.09 L634.73,1618.09 L635.09,1618.1 L635.45,1618.1 L635.81,1618.11 L636.18,1618.12 L636.54,1618.12 L636.9,1618.13 L637.26,1618.13 L637.62,1618.14 L637.98,1618.14 L638.35,1618.15 L638.71,1618.15 L639.07,1618.16 L639.43,1618.16 L639.79,1618.17 L640.15,1618.18 L640.52,1618.18 L640.88,1618.19 L641.24,1618.19 L641.6,1618.2" fill="none" stroke="#0b2a8f" stroke-width="2.3" stroke-linejoin="round" stroke-linecap="butt"/>
<path d="M99.6,2202 L641.6,2201.9" fill="none" stroke="#000" stroke-width="2.4" stroke-linejoin="round" stroke-linecap="butt"/>
<text x="612.8" y="1790.4" font-size="46.3" text-anchor="middle" >(e)</text>
<text transform="translate(32.5,1930.9) rotate(-90)" font-size="37.5" text-anchor="middle"><tspan font-style="italic">R</tspan> per cell</text>
<line x1="815.9" y1="2216.4" x2="1388.7" y2="2216.4" stroke="#3c3c3c" stroke-width="1.2"/>
<line x1="827.6" y1="1591.4" x2="827.6" y2="2248.8" stroke="#3c3c3c" stroke-width="1.2"/>
<line x1="937.64" y1="2216.4" x2="937.64" y2="2210.9" stroke="#3c3c3c" stroke-width="1.2"/>
<line x1="1047.68" y1="2216.4" x2="1047.68" y2="2210.9" stroke="#3c3c3c" stroke-width="1.2"/>
<line x1="1157.72" y1="2216.4" x2="1157.72" y2="2210.9" stroke="#3c3c3c" stroke-width="1.2"/>
<line x1="1267.76" y1="2216.4" x2="1267.76" y2="2210.9" stroke="#3c3c3c" stroke-width="1.2"/>
<line x1="1377.8" y1="2216.4" x2="1377.8" y2="2210.9" stroke="#3c3c3c" stroke-width="1.2"/>
<line x1="855.11" y1="2216.4" x2="855.11" y2="2213.1" stroke="#3c3c3c" stroke-width="1.2"/>
<line x1="882.62" y1="2216.4" x2="882.62" y2="2213.1" stroke="#3c3c3c" stroke-width="1.2"/>
<line x1="910.13" y1="2216.4" x2="910.13" y2="2213.1" stroke="#3c3c3c" stroke-width="1.2"/>
<line x1="965.15" y1="2216.4" x2="965.15" y2="2213.1" stroke="#3c3c3c" stroke-width="1.2"/>
<line x1="992.66" y1="2216.4" x2="992.66" y2="2213.1" stroke="#3c3c3c" stroke-width="1.2"/>
<line x1="1020.17" y1="2216.4" x2="1020.17" y2="2213.1" stroke="#3c3c3c" stroke-width="1.2"/>
<line x1="1075.19" y1="2216.4" x2="1075.19" y2="2213.1" stroke="#3c3c3c" stroke-width="1.2"/>
<line x1="1102.7" y1="2216.4" x2="1102.7" y2="2213.1" stroke="#3c3c3c" stroke-width="1.2"/>
<line x1="1130.21" y1="2216.4" x2="1130.21" y2="2213.1" stroke="#3c3c3c" stroke-width="1.2"/>
<line x1="1185.23" y1="2216.4" x2="1185.23" y2="2213.1" stroke="#3c3c3c" stroke-width="1.2"/>
<line x1="1212.74" y1="2216.4" x2="1212.74" y2="2213.1" stroke="#3c3c3c" stroke-width="1.2"/>
<line x1="1240.25" y1="2216.4" x2="1240.25" y2="2213.1" stroke="#3c3c3c" stroke-width="1.2"/>
<line x1="1295.27" y1="2216.4" x2="1295.27" y2="2213.1" stroke="#3c3c3c" stroke-width="1.2"/>
<line x1="1322.78" y1="2216.4" x2="1322.78" y2="2213.1" stroke="#3c3c3c" stroke-width="1.2"/>
<line x1="1350.29" y1="2216.4" x2="1350.29" y2="2213.1" stroke="#3c3c3c" stroke-width="1.2"/>
<line x1="827.6" y1="2061.8" x2="833.1" y2="2061.8" stroke="#3c3c3c" stroke-width="1.2"/>
<line x1="827.6" y1="1907.4" x2="833.1" y2="1907.4" stroke="#3c3c3c" stroke-width="1.2"/>
<line x1="827.6" y1="1753" x2="833.1" y2="1753" stroke="#3c3c3c" stroke-width="1.2"/>
<line x1="827.6" y1="1598.6" x2="833.1" y2="1598.6" stroke="#3c3c3c" stroke-width="1.2"/>
<line x1="827.6" y1="2247.08" x2="830.9" y2="2247.08" stroke="#3c3c3c" stroke-width="1.2"/>
<line x1="827.6" y1="2185.32" x2="830.9" y2="2185.32" stroke="#3c3c3c" stroke-width="1.2"/>
<line x1="827.6" y1="2154.44" x2="830.9" y2="2154.44" stroke="#3c3c3c" stroke-width="1.2"/>
<line x1="827.6" y1="2123.56" x2="830.9" y2="2123.56" stroke="#3c3c3c" stroke-width="1.2"/>
<line x1="827.6" y1="2092.68" x2="830.9" y2="2092.68" stroke="#3c3c3c" stroke-width="1.2"/>
<line x1="827.6" y1="2030.92" x2="830.9" y2="2030.92" stroke="#3c3c3c" stroke-width="1.2"/>
<line x1="827.6" y1="2000.04" x2="830.9" y2="2000.04" stroke="#3c3c3c" stroke-width="1.2"/>
<line x1="827.6" y1="1969.16" x2="830.9" y2="1969.16" stroke="#3c3c3c" stroke-width="1.2"/>
<line x1="827.6" y1="1938.28" x2="830.9" y2="1938.28" stroke="#3c3c3c" stroke-width="1.2"/>
<line x1="827.6" y1="1876.52" x2="830.9" y2="1876.52" stroke="#3c3c3c" stroke-width="1.2"/>
<line x1="827.6" y1="1845.64" x2="830.9" y2="1845.64" stroke="#3c3c3c" stroke-width="1.2"/>
<line x1="827.6" y1="1814.76" x2="830.9" y2="1814.76" stroke="#3c3c3c" stroke-width="1.2"/>
<line x1="827.6" y1="1783.88" x2="830.9" y2="1783.88" stroke="#3c3c3c" stroke-width="1.2"/>
<line x1="827.6" y1="1722.12" x2="830.9" y2="1722.12" stroke="#3c3c3c" stroke-width="1.2"/>
<line x1="827.6" y1="1691.24" x2="830.9" y2="1691.24" stroke="#3c3c3c" stroke-width="1.2"/>
<line x1="827.6" y1="1660.36" x2="830.9" y2="1660.36" stroke="#3c3c3c" stroke-width="1.2"/>
<line x1="827.6" y1="1629.48" x2="830.9" y2="1629.48" stroke="#3c3c3c" stroke-width="1.2"/>
<text transform="translate(937.64,2250.5) scale(0.92,1)" font-size="33" text-anchor="middle">20</text>
<text transform="translate(1047.68,2250.5) scale(0.92,1)" font-size="33" text-anchor="middle">40</text>
<text transform="translate(1157.72,2250.5) scale(0.92,1)" font-size="33" text-anchor="middle">60</text>
<text transform="translate(1267.76,2250.5) scale(0.92,1)" font-size="33" text-anchor="middle">80</text>
<text transform="translate(1377.8,2250.5) scale(0.92,1)" font-size="33" text-anchor="middle">100</text>
<text transform="translate(822.7,2074.2) scale(0.92,1)" font-size="33" text-anchor="end">10</text>
<text transform="translate(822.7,1919.8) scale(0.92,1)" font-size="33" text-anchor="end">20</text>
<text transform="translate(822.7,1765.4) scale(0.92,1)" font-size="33" text-anchor="end">30</text>
<text transform="translate(822.7,1611) scale(0.92,1)" font-size="33" text-anchor="end">40</text>
<path d="M827.6,2215.9 L827.97,2215.9 L828.33,2215.9 L828.7,2215.9 L829.07,2215.9 L829.44,2215.9 L829.8,2215.9 L830.17,2215.9 L830.54,2215.9 L830.9,2215.9 L831.27,2215.9 L831.64,2215.9 L832,2215.9 L832.37,2215.9 L832.74,2215.9 L833.11,2215.9 L833.47,2215.9 L833.84,2215.9 L834.21,2215.9 L834.57,2215.9 L834.94,2215.9 L835.31,2215.9 L835.67,2215.9 L836.04,2215.9 L836.41,2215.9 L836.78,2215.9 L837.14,2215.9 L837.51,2215.9 L837.88,2215.9 L838.24,2215.9 L838.61,2215.9 L838.98,2215.9 L839.34,2215.9 L839.71,2215.9 L840.08,2215.9 L840.45,2215.9 L840.81,2215.9 L841.18,2215.9 L841.55,2215.9 L841.91,2215.9 L842.28,2215.87 L842.65,2215.81 L843.01,2215.75 L843.38,2215.68 L843.74,2215.6 L844.11,2215.51 L844.48,2215.41 L844.84,2215.3 L845.21,2215.17 L845.57,2215.03 L845.94,2214.87 L846.3,2214.69 L846.67,2214.49 L847.03,2214.28 L847.4,2214.04 L847.76,2213.77 L848.13,2213.48 L848.49,2213.17 L848.86,2212.82 L849.22,2212.44 L849.59,2212.03 L849.95,2211.58 L850.32,2211.09 L850.68,2210.56 L851.05,2209.99 L851.41,2209.38 L851.77,2208.72 L852.14,2208 L852.5,2207.24 L852.87,2206.42 L853.23,2205.55 L853.59,2204.61 L853.96,2203.62 L854.32,2202.56 L854.69,2201.43 L855.05,2200.24 L855.41,2198.97 L855.77,2197.64 L856.14,2196.22 L856.5,2194.73 L856.86,2193.17 L857.23,2191.52 L857.59,2189.78 L857.95,2187.97 L858.31,2186.06 L858.67,2184.07 L859.04,2181.99 L859.4,2179.82 L859.76,2177.55 L860.12,2175.19 L860.48,2172.74 L860.84,2170.19 L861.21,2167.55 L861.57,2164.81 L861.93,2161.97 L862.29,2159.04 L862.65,2156 L863.01,2152.88 L863.37,2149.65 L863.73,2146.32 L864.09,2142.9 L864.45,2139.39 L864.82,2135.77 L865.18,2132.07 L865.54,2128.27 L865.9,2124.37 L866.26,2120.39 L866.62,2116.32 L866.98,2112.16 L867.34,2107.91 L867.71,2103.58 L868.07,2099.16 L868.43,2094.67 L868.79,2090.09 L869.16,2085.44 L869.52,2080.72 L869.88,2075.93 L870.24,2071.06 L870.61,2066.14 L870.97,2061.15 L871.34,2056.09 L871.7,2050.99 L872.07,2045.83 L872.43,2040.61 L872.8,2035.35 L873.16,2030.05 L873.53,2024.7 L873.89,2019.31 L874.26,2013.89 L874.63,2008.44 L874.99,2002.96 L875.36,1997.46 L875.73,1991.93 L876.1,1986.38 L876.47,1980.82 L876.83,1975.25 L877.2,1969.67 L877.57,1964.08 L877.94,1958.49 L878.31,1952.91 L878.68,1947.32 L879.05,1941.74 L879.42,1936.18 L879.79,1930.62 L880.16,1925.09 L880.54,1919.57 L880.91,1914.07 L881.28,1908.6 L881.65,1903.15 L882.02,1897.74 L882.39,1892.36 L882.77,1887.01 L883.14,1881.7 L883.51,1876.42 L883.88,1871.19 L884.26,1866.01 L884.63,1860.87 L885,1855.77 L885.37,1850.73 L885.75,1845.74 L886.12,1840.8 L886.49,1835.91 L886.87,1831.08 L887.24,1826.31 L887.61,1821.6 L887.99,1816.95 L888.36,1812.36 L888.73,1807.83 L889.1,1803.36 L889.48,1798.96 L889.85,1794.63 L890.22,1790.35 L890.6,1786.15 L890.97,1782.01 L891.34,1777.94 L891.71,1773.94 L892.09,1770.01 L892.46,1766.14 L892.83,1762.35 L893.2,1758.62 L893.58,1754.96 L893.95,1751.37 L894.32,1747.85 L894.69,1744.4 L895.06,1741.01 L895.44,1737.7 L895.81,1734.45 L896.18,1731.27 L896.55,1728.16 L896.92,1725.12 L897.29,1722.14 L897.66,1719.23 L898.04,1716.38 L898.41,1713.6 L898.78,1710.88 L899.15,1708.23 L899.52,1705.64 L899.89,1703.11 L900.26,1700.64 L900.63,1698.24 L901,1695.89 L901.37,1693.61 L901.74,1691.38 L902.11,1689.21 L902.48,1687.09 L902.85,1685.04 L903.22,1683.03 L903.59,1681.08 L903.96,1679.19 L904.33,1677.34 L904.7,1675.55 L905.07,1673.81 L905.44,1672.11 L905.81,1670.47 L906.18,1668.87 L906.55,1667.32 L906.91,1665.81 L907.28,1664.35 L907.65,1662.93 L908.02,1661.56 L908.39,1660.22 L908.76,1658.93 L909.13,1657.68 L909.5,1656.47 L909.86,1655.29 L910.23,1654.15 L910.6,1653.05 L910.97,1651.98 L911.34,1650.95 L911.71,1649.95 L912.07,1648.98 L912.44,1648.05 L912.81,1647.14 L913.18,1646.27 L913.55,1645.42 L913.91,1644.61 L914.28,1643.82 L914.65,1643.06 L915.02,1642.32 L915.38,1641.61 L915.75,1640.93 L916.12,1640.27 L916.49,1639.63 L916.85,1639.02 L917.22,1638.42 L917.59,1637.85 L917.95,1637.3 L918.32,1636.77 L918.69,1636.26 L919.05,1635.77 L919.42,1635.29 L919.79,1634.84 L920.16,1634.4 L920.52,1633.98 L920.89,1633.57 L921.25,1633.18 L921.62,1632.8 L921.99,1632.44 L922.35,1632.09 L922.72,1631.75 L923.09,1631.43 L923.45,1631.12 L923.82,1630.83 L924.18,1630.54 L924.55,1630.27 L924.92,1630 L925.28,1629.75 L925.65,1629.51 L926.01,1629.27 L926.38,1629.05 L926.75,1628.84 L927.11,1628.63 L927.48,1628.43 L927.84,1628.24 L928.21,1628.06 L928.58,1627.89 L928.94,1627.72 L929.31,1627.56 L929.67,1627.41 L930.04,1627.26 L930.41,1627.12 L930.77,1626.99 L931.14,1626.86 L931.5,1626.73 L931.87,1626.61 L932.24,1626.5 L932.6,1626.39 L932.97,1626.29 L933.33,1626.19 L933.7,1626.1 L934.07,1626.01 L934.43,1625.92 L934.8,1625.84 L935.16,1625.76 L935.53,1625.68 L935.9,1625.61 L936.26,1625.54 L936.63,1625.47 L937,1625.41 L937.36,1625.35 L937.73,1625.29 L938.1,1625.24 L938.46,1625.19 L938.83,1625.14 L939.19,1625.09 L939.56,1625.04 L939.93,1625 L940.29,1624.96 L940.66,1624.92 L941.03,1624.88 L941.39,1624.84 L941.76,1624.81 L942.13,1624.78 L942.49,1624.75 L942.86,1624.72 L943.23,1624.69 L943.59,1624.66 L943.96,1624.64 L944.33,1624.61 L944.69,1624.59 L945.06,1624.57 L945.43,1624.55 L945.79,1624.53 L946.16,1624.51 L946.53,1624.49 L946.89,1624.47 L947.26,1624.46 L947.63,1624.44 L948,1624.43 L948.36,1624.41 L948.73,1624.4 L949.1,1624.39 L949.46,1624.37 L949.83,1624.36 L950.2,1624.35 L950.56,1624.34 L950.93,1624.33 L951.3,1624.32 L951.66,1624.31 L952.03,1624.3 L952.4,1624.3 L952.76,1624.29 L953.13,1624.28 L953.5,1624.28 L953.87,1624.27 L954.23,1624.26 L954.6,1624.26 L954.97,1624.25 L955.33,1624.25 L955.7,1624.24 L956.07,1624.24 L956.43,1624.23 L956.8,1624.23 L957.17,1624.23 L957.54,1624.22 L957.9,1624.22 L958.27,1624.22 L958.64,1624.21 L959,1624.21 L959.37,1624.21 L959.74,1624.2 L960.1,1624.2 L960.47,1624.2 L960.84,1624.2 L961.21,1624.2 L961.57,1624.19 L961.94,1624.19 L962.31,1624.19 L962.67,1624.19 L963.04,1624.19 L963.41,1624.19 L963.77,1624.19 L964.14,1624.18 L964.51,1624.18 L964.88,1624.18 L965.24,1624.18 L965.61,1624.18 L965.98,1624.18 L966.34,1624.18 L966.71,1624.18 L967.08,1624.18 L967.44,1624.18 L967.81,1624.18 L968.18,1624.18 L968.55,1624.18 L968.91,1624.17 L969.28,1624.17 L969.65,1624.17 L970.01,1624.17 L970.38,1624.17 L970.75,1624.17 L971.11,1624.17 L971.48,1624.17 L971.85,1624.17 L972.22,1624.17 L972.58,1624.17 L972.95,1624.17 L973.32,1624.17 L973.68,1624.17 L974.05,1624.17 L974.42,1624.17 L974.79,1624.17 L975.15,1624.17 L975.52,1624.17 L975.89,1624.17 L976.25,1624.17 L976.62,1624.17 L976.99,1624.17 L977.35,1624.17 L977.72,1624.17 L978.09,1624.17 L978.46,1624.17 L978.82,1624.17 L979.19,1624.17 L979.56,1624.17 L979.92,1624.17 L980.29,1624.18 L980.66,1624.18 L981.02,1624.18 L981.39,1624.18 L981.76,1624.18 L982.13,1624.18 L982.49,1624.18 L982.86,1624.18 L983.23,1624.18 L983.59,1624.18 L983.96,1624.18 L984.33,1624.18 L984.7,1624.18 L985.06,1624.18 L985.43,1624.18 L985.8,1624.18 L986.16,1624.18 L986.53,1624.18 L986.9,1624.18 L987.26,1624.18 L987.63,1624.18 L988,1624.18 L988.37,1624.18 L988.73,1624.18 L989.1,1624.18 L989.47,1624.18 L989.83,1624.18 L990.2,1624.18 L990.57,1624.18 L990.93,1624.18 L991.3,1624.18 L991.67,1624.18 L992.04,1624.18 L992.4,1624.18 L992.77,1624.18 L993.14,1624.18 L993.5,1624.18 L993.87,1624.18 L994.24,1624.19 L994.61,1624.19 L994.97,1624.19 L995.34,1624.19 L995.71,1624.19 L996.07,1624.19 L996.44,1624.19 L996.81,1624.19 L997.17,1624.19 L997.54,1624.19 L997.91,1624.19 L998.28,1624.19 L998.64,1624.19 L999.01,1624.19 L999.38,1624.19 L999.74,1624.19 L1000.11,1624.19 L1000.48,1624.19 L1000.85,1624.19 L1001.21,1624.19 L1001.58,1624.19 L1001.95,1624.19 L1002.31,1624.19 L1002.68,1624.19 L1003.05,1624.19 L1003.41,1624.19 L1003.78,1624.19 L1004.15,1624.19 L1004.52,1624.19 L1004.88,1624.19 L1005.25,1624.19 L1005.62,1624.19 L1005.98,1624.19 L1006.35,1624.19 L1006.72,1624.19 L1007.08,1624.2 L1007.45,1624.2 L1007.82,1624.2 L1008.19,1624.2 L1008.55,1624.2 L1008.92,1624.2 L1009.29,1624.2 L1009.65,1624.2 L1010.02,1624.2 L1010.39,1624.2 L1010.76,1624.2 L1011.12,1624.2 L1011.49,1624.2 L1011.86,1624.2 L1012.22,1624.2 L1012.59,1624.2 L1012.96,1624.2 L1013.32,1624.2 L1013.69,1624.2 L1014.06,1624.2 L1014.43,1624.2 L1014.79,1624.2 L1015.16,1624.2 L1015.53,1624.2 L1015.89,1624.2 L1016.26,1624.2 L1016.63,1624.2 L1017,1624.2 L1017.36,1624.2 L1017.73,1624.2 L1018.1,1624.2 L1018.46,1624.2 L1018.83,1624.2 L1019.2,1624.2 L1019.56,1624.2 L1019.93,1624.2 L1020.3,1624.2 L1020.67,1624.2 L1021.03,1624.2 L1021.4,1624.2 L1021.77,1624.2 L1022.13,1624.21 L1022.5,1624.21 L1022.87,1624.21 L1023.23,1624.21 L1023.6,1624.21 L1023.97,1624.21 L1024.34,1624.21 L1024.7,1624.21 L1025.07,1624.21 L1025.44,1624.21 L1025.8,1624.21 L1026.17,1624.21 L1026.54,1624.21 L1026.91,1624.21 L1027.27,1624.21 L1027.64,1624.21 L1028.01,1624.21 L1028.37,1624.21 L1028.74,1624.21 L1029.11,1624.21 L1029.47,1624.21 L1029.84,1624.21 L1030.21,1624.21 L1030.58,1624.21 L1030.94,1624.21 L1031.31,1624.21 L1031.68,1624.21 L1032.04,1624.21 L1032.41,1624.21 L1032.78,1624.21 L1033.15,1624.21 L1033.51,1624.21 L1033.88,1624.21 L1034.25,1624.21 L1034.61,1624.21 L1034.98,1624.21 L1035.35,1624.21 L1035.71,1624.21 L1036.08,1624.21 L1036.45,1624.21 L1036.82,1624.21 L1037.18,1624.21 L1037.55,1624.21 L1037.92,1624.21 L1038.28,1624.21 L1038.65,1624.21 L1039.02,1624.21 L1039.38,1624.21 L1039.75,1624.21 L1040.12,1624.21 L1040.49,1624.22 L1040.85,1624.22 L1041.22,1624.22 L1041.59,1624.22 L1041.95,1624.22 L1042.32,1624.22 L1042.69,1624.22 L1043.06,1624.22 L1043.42,1624.22 L1043.79,1624.22 L1044.16,1624.22 L1044.52,1624.22 L1044.89,1624.22 L1045.26,1624.22 L1045.62,1624.22 L1045.99,1624.22 L1046.36,1624.22 L1046.73,1624.22 L1047.09,1624.22 L1047.46,1624.22 L1047.83,1624.22 L1048.19,1624.22 L1048.56,1624.22 L1048.93,1624.22 L1049.29,1624.22 L1049.66,1624.22 L1050.03,1624.22 L1050.4,1624.22 L1050.76,1624.22 L1051.13,1624.22 L1051.5,1624.22 L1051.86,1624.22 L1052.23,1624.22 L1052.6,1624.22 L1052.97,1624.22 L1053.33,1624.22 L1053.7,1624.22 L1054.07,1624.22 L1054.43,1624.22 L1054.8,1624.22 L1055.17,1624.22 L1055.53,1624.22 L1055.9,1624.22 L1056.27,1624.22 L1056.64,1624.22 L1057,1624.22 L1057.37,1624.22 L1057.74,1624.22 L1058.1,1624.22 L1058.47,1624.22 L1058.84,1624.22 L1059.21,1624.22 L1059.57,1624.22 L1059.94,1624.22 L1060.31,1624.22 L1060.67,1624.22 L1061.04,1624.22 L1061.41,1624.22 L1061.77,1624.22 L1062.14,1624.22 L1062.51,1624.22 L1062.88,1624.22 L1063.24,1624.22 L1063.61,1624.22 L1063.98,1624.22 L1064.34,1624.22 L1064.71,1624.22 L1065.08,1624.22 L1065.44,1624.22 L1065.81,1624.22 L1066.18,1624.22 L1066.55,1624.22 L1066.91,1624.22 L1067.28,1624.22 L1067.65,1624.22 L1068.01,1624.22 L1068.38,1624.22 L1068.75,1624.22 L1069.12,1624.22 L1069.48,1624.22 L1069.85,1624.22 L1070.22,1624.23 L1070.58,1624.23 L1070.95,1624.23 L1071.32,1624.23 L1071.68,1624.23 L1072.05,1624.23 L1072.42,1624.23 L1072.79,1624.23 L1073.15,1624.23 L1073.52,1624.23 L1073.89,1624.23 L1074.25,1624.23 L1074.62,1624.23 L1074.99,1624.23 L1075.36,1624.23 L1075.72,1624.23 L1076.09,1624.23 L1076.46,1624.23 L1076.82,1624.23 L1077.19,1624.23 L1077.56,1624.23 L1077.92,1624.23 L1078.29,1624.23 L1078.66,1624.23 L1079.03,1624.23 L1079.39,1624.23 L1079.76,1624.23 L1080.13,1624.23 L1080.49,1624.23 L1080.86,1624.23 L1081.23,1624.23 L1081.59,1624.23 L1081.96,1624.23 L1082.33,1624.23 L1082.7,1624.23 L1083.06,1624.23 L1083.43,1624.23 L1083.8,1624.23 L1084.16,1624.23 L1084.53,1624.23 L1084.9,1624.23 L1085.27,1624.23 L1085.63,1624.23 L1086,1624.23 L1086.37,1624.23 L1086.73,1624.23 L1087.1,1624.23 L1087.47,1624.23 L1087.83,1624.23 L1088.2,1624.23 L1088.57,1624.23 L1088.94,1624.23 L1089.3,1624.23 L1089.67,1624.23 L1090.04,1624.23 L1090.4,1624.23 L1090.77,1624.23 L1091.14,1624.23 L1091.51,1624.23 L1091.87,1624.23 L1092.24,1624.23 L1092.61,1624.23 L1092.97,1624.23 L1093.34,1624.23 L1093.71,1624.23 L1094.07,1624.23 L1094.44,1624.23 L1094.81,1624.23 L1095.18,1624.23 L1095.54,1624.23 L1095.91,1624.23 L1096.28,1624.23 L1096.64,1624.23 L1097.01,1624.23 L1097.38,1624.23 L1097.74,1624.23 L1098.11,1624.23 L1098.48,1624.23 L1098.85,1624.23 L1099.21,1624.23 L1099.58,1624.23 L1099.95,1624.23 L1100.31,1624.23 L1100.68,1624.23 L1101.05,1624.23 L1101.42,1624.23 L1101.78,1624.23 L1102.15,1624.23 L1102.52,1624.23 L1102.88,1624.23 L1103.25,1624.23 L1103.62,1624.23 L1103.98,1624.23 L1104.35,1624.23 L1104.72,1624.23 L1105.09,1624.23 L1105.45,1624.23 L1105.82,1624.23 L1106.19,1624.23 L1106.55,1624.23 L1106.92,1624.23 L1107.29,1624.23 L1107.66,1624.23 L1108.02,1624.23 L1108.39,1624.23 L1108.76,1624.23 L1109.12,1624.23 L1109.49,1624.22 L1109.86,1624.22 L1110.22,1624.22 L1110.59,1624.22 L1110.96,1624.22 L1111.33,1624.22 L1111.69,1624.22 L1112.06,1624.22 L1112.43,1624.22 L1112.79,1624.22 L1113.16,1624.22 L1113.53,1624.22 L1113.89,1624.22 L1114.26,1624.22 L1114.63,1624.22 L1115,1624.22 L1115.36,1624.22 L1115.73,1624.22 L1116.1,1624.22 L1116.46,1624.22 L1116.83,1624.22 L1117.2,1624.22 L1117.57,1624.22 L1117.93,1624.22 L1118.3,1624.22 L1118.67,1624.22 L1119.03,1624.22 L1119.4,1624.22 L1119.77,1624.22 L1120.13,1624.22 L1120.5,1624.22 L1120.87,1624.22 L1121.24,1624.22 L1121.6,1624.22 L1121.97,1624.22 L1122.34,1624.22 L1122.7,1624.22 L1123.07,1624.22 L1123.44,1624.22 L1123.81,1624.22 L1124.17,1624.22 L1124.54,1624.22 L1124.91,1624.22 L1125.27,1624.22 L1125.64,1624.22 L1126.01,1624.22 L1126.37,1624.22 L1126.74,1624.22 L1127.11,1624.22 L1127.48,1624.22 L1127.84,1624.22 L1128.21,1624.22 L1128.58,1624.22 L1128.94,1624.22 L1129.31,1624.22 L1129.68,1624.22 L1130.04,1624.22 L1130.41,1624.22 L1130.78,1624.22 L1131.15,1624.22 L1131.51,1624.22 L1131.88,1624.22 L1132.25,1624.22 L1132.61,1624.22 L1132.98,1624.22 L1133.35,1624.22 L1133.72,1624.22 L1134.08,1624.22 L1134.45,1624.22 L1134.82,1624.22 L1135.18,1624.22 L1135.55,1624.22 L1135.92,1624.22 L1136.28,1624.22 L1136.65,1624.22 L1137.02,1624.21 L1137.39,1624.21 L1137.75,1624.21 L1138.12,1624.21 L1138.49,1624.21 L1138.85,1624.21 L1139.22,1624.21 L1139.59,1624.21 L1139.96,1624.21 L1140.32,1624.21 L1140.69,1624.21 L1141.06,1624.21 L1141.42,1624.21 L1141.79,1624.21 L1142.16,1624.21 L1142.52,1624.21 L1142.89,1624.21 L1143.26,1624.21 L1143.63,1624.21 L1143.99,1624.21 L1144.36,1624.21 L1144.73,1624.21 L1145.09,1624.21 L1145.46,1624.21 L1145.83,1624.21 L1146.19,1624.21 L1146.56,1624.21 L1146.93,1624.21 L1147.3,1624.21 L1147.66,1624.21 L1148.03,1624.21 L1148.4,1624.21 L1148.76,1624.21 L1149.13,1624.21 L1149.5,1624.21 L1149.87,1624.21 L1150.23,1624.21 L1150.6,1624.21 L1150.97,1624.21 L1151.33,1624.21 L1151.7,1624.21 L1152.07,1624.21 L1152.43,1624.21 L1152.8,1624.21 L1153.17,1624.2 L1153.54,1624.2 L1153.9,1624.2 L1154.27,1624.2 L1154.64,1624.2 L1155,1624.2 L1155.37,1624.2 L1155.74,1624.2 L1156.11,1624.2 L1156.47,1624.2 L1156.84,1624.2 L1157.21,1624.2 L1157.57,1624.2 L1157.94,1624.2 L1158.31,1624.2 L1158.67,1624.2 L1159.04,1624.2 L1159.41,1624.2 L1159.78,1624.2 L1160.14,1624.2 L1160.51,1624.2 L1160.88,1624.2 L1161.24,1624.2 L1161.61,1624.2 L1161.98,1624.2 L1162.34,1624.2 L1162.71,1624.2 L1163.08,1624.2 L1163.45,1624.2 L1163.81,1624.2 L1164.18,1624.2 L1164.55,1624.2 L1164.91,1624.2 L1165.28,1624.19 L1165.65,1624.19 L1166.02,1624.19 L1166.38,1624.19 L1166.75,1624.19 L1167.12,1624.19 L1167.48,1624.19 L1167.85,1624.19 L1168.22,1624.19 L1168.58,1624.19 L1168.95,1624.19 L1169.32,1624.19 L1169.69,1624.19 L1170.05,1624.19 L1170.42,1624.19 L1170.79,1624.19 L1171.15,1624.19 L1171.52,1624.19 L1171.89,1624.19 L1172.25,1624.19 L1172.62,1624.19 L1172.99,1624.19 L1173.36,1624.19 L1173.72,1624.19 L1174.09,1624.19 L1174.46,1624.19 L1174.82,1624.19 L1175.19,1624.19 L1175.56,1624.19 L1175.93,1624.18 L1176.29,1624.18 L1176.66,1624.18 L1177.03,1624.18 L1177.39,1624.18 L1177.76,1624.18 L1178.13,1624.18 L1178.49,1624.18 L1178.86,1624.18 L1179.23,1624.18 L1179.6,1624.18 L1179.96,1624.18 L1180.33,1624.18 L1180.7,1624.18 L1181.06,1624.18 L1181.43,1624.18 L1181.8,1624.18 L1182.17,1624.18 L1182.53,1624.18 L1182.9,1624.18 L1183.27,1624.18 L1183.63,1624.18 L1184,1624.18 L1184.37,1624.18 L1184.73,1624.18 L1185.1,1624.17 L1185.47,1624.17 L1185.84,1624.17 L1186.2,1624.17 L1186.57,1624.17 L1186.94,1624.17 L1187.3,1624.17 L1187.67,1624.17 L1188.04,1624.17 L1188.4,1624.17 L1188.77,1624.17 L1189.14,1624.17 L1189.51,1624.17 L1189.87,1624.17 L1190.24,1624.17 L1190.61,1624.17 L1190.97,1624.17 L1191.34,1624.17 L1191.71,1624.17 L1192.08,1624.17 L1192.44,1624.17 L1192.81,1624.17 L1193.18,1624.17 L1193.54,1624.16 L1193.91,1624.16 L1194.28,1624.16 L1194.64,1624.16 L1195.01,1624.16 L1195.38,1624.16 L1195.75,1624.16 L1196.11,1624.16 L1196.48,1624.16 L1196.85,1624.16 L1197.21,1624.16 L1197.58,1624.16 L1197.95,1624.16 L1198.32,1624.16 L1198.68,1624.16 L1199.05,1624.16 L1199.42,1624.16 L1199.78,1624.16 L1200.15,1624.16 L1200.52,1624.16 L1200.88,1624.15 L1201.25,1624.15 L1201.62,1624.15 L1201.99,1624.15 L1202.35,1624.15 L1202.72,1624.15 L1203.09,1624.15 L1203.45,1624.15 L1203.82,1624.15 L1204.19,1624.15 L1204.55,1624.15 L1204.92,1624.15 L1205.29,1624.15 L1205.66,1624.15 L1206.02,1624.15 L1206.39,1624.15 L1206.76,1624.15 L1207.12,1624.15 L1207.49,1624.15 L1207.86,1624.14 L1208.23,1624.14 L1208.59,1624.14 L1208.96,1624.14 L1209.33,1624.14 L1209.69,1624.14 L1210.06,1624.14 L1210.43,1624.14 L1210.79,1624.14 L1211.16,1624.14 L1211.53,1624.14 L1211.9,1624.14 L1212.26,1624.14 L1212.63,1624.14 L1213,1624.14 L1213.36,1624.14 L1213.73,1624.14 L1214.1,1624.14 L1214.47,1624.13 L1214.83,1624.13 L1215.2,1624.13 L1215.57,1624.13 L1215.93,1624.13 L1216.3,1624.13 L1216.67,1624.13 L1217.03,1624.13 L1217.4,1624.13 L1217.77,1624.13 L1218.14,1624.13 L1218.5,1624.13 L1218.87,1624.13 L1219.24,1624.13 L1219.6,1624.13 L1219.97,1624.13 L1220.34,1624.13 L1220.7,1624.12 L1221.07,1624.12 L1221.44,1624.12 L1221.81,1624.12 L1222.17,1624.12 L1222.54,1624.12 L1222.91,1624.12 L1223.27,1624.12 L1223.64,1624.12 L1224.01,1624.12 L1224.38,1624.12 L1224.74,1624.12 L1225.11,1624.12 L1225.48,1624.12 L1225.84,1624.12 L1226.21,1624.12 L1226.58,1624.11 L1226.94,1624.11 L1227.31,1624.11 L1227.68,1624.11 L1228.05,1624.11 L1228.41,1624.11 L1228.78,1624.11 L1229.15,1624.11 L1229.51,1624.11 L1229.88,1624.11 L1230.25,1624.11 L1230.62,1624.11 L1230.98,1624.11 L1231.35,1624.11 L1231.72,1624.11 L1232.08,1624.1 L1232.45,1624.1 L1232.82,1624.1 L1233.18,1624.1 L1233.55,1624.1 L1233.92,1624.1 L1234.29,1624.1 L1234.65,1624.1 L1235.02,1624.1 L1235.39,1624.1 L1235.75,1624.1 L1236.12,1624.1 L1236.49,1624.1 L1236.85,1624.1 L1237.22,1624.09 L1237.59,1624.09 L1237.96,1624.09 L1238.32,1624.09 L1238.69,1624.09 L1239.06,1624.09 L1239.42,1624.09 L1239.79,1624.09 L1240.16,1624.09 L1240.53,1624.09 L1240.89,1624.09 L1241.26,1624.09 L1241.63,1624.09 L1241.99,1624.09 L1242.36,1624.08 L1242.73,1624.08 L1243.09,1624.08 L1243.46,1624.08 L1243.83,1624.08 L1244.2,1624.08 L1244.56,1624.08 L1244.93,1624.08 L1245.3,1624.08 L1245.66,1624.08 L1246.03,1624.08 L1246.4,1624.08 L1246.77,1624.08 L1247.13,1624.07 L1247.5,1624.07 L1247.87,1624.07 L1248.23,1624.07 L1248.6,1624.07 L1248.97,1624.07 L1249.33,1624.07 L1249.7,1624.07 L1250.07,1624.07 L1250.44,1624.07 L1250.8,1624.07 L1251.17,1624.07 L1251.54,1624.07 L1251.9,1624.06 L1252.27,1624.06 L1252.64,1624.06 L1253,1624.06 L1253.37,1624.06 L1253.74,1624.06 L1254.11,1624.06 L1254.47,1624.06 L1254.84,1624.06 L1255.21,1624.06 L1255.57,1624.06 L1255.94,1624.06 L1256.31,1624.06 L1256.68,1624.05 L1257.04,1624.05 L1257.41,1624.05 L1257.78,1624.05 L1258.14,1624.05 L1258.51,1624.05 L1258.88,1624.05 L1259.24,1624.05 L1259.61,1624.05 L1259.98,1624.05 L1260.35,1624.05 L1260.71,1624.05 L1261.08,1624.04 L1261.45,1624.04 L1261.81,1624.04 L1262.18,1624.04 L1262.55,1624.04 L1262.92,1624.04 L1263.28,1624.04 L1263.65,1624.04 L1264.02,1624.04 L1264.38,1624.04 L1264.75,1624.04 L1265.12,1624.03 L1265.48,1624.03 L1265.85,1624.03 L1266.22,1624.03 L1266.59,1624.03 L1266.95,1624.03 L1267.32,1624.03 L1267.69,1624.03 L1268.05,1624.03 L1268.42,1624.03 L1268.79,1624.03 L1269.15,1624.02 L1269.52,1624.02 L1269.89,1624.02 L1270.26,1624.02 L1270.62,1624.02 L1270.99,1624.02 L1271.36,1624.02 L1271.72,1624.02 L1272.09,1624.02 L1272.46,1624.02 L1272.83,1624.02 L1273.19,1624.01 L1273.56,1624.01 L1273.93,1624.01 L1274.29,1624.01 L1274.66,1624.01 L1275.03,1624.01 L1275.39,1624.01 L1275.76,1624.01 L1276.13,1624.01 L1276.5,1624.01 L1276.86,1624.01 L1277.23,1624 L1277.6,1624 L1277.96,1624 L1278.33,1624 L1278.7,1624 L1279.06,1624 L1279.43,1624 L1279.8,1624 L1280.17,1624 L1280.53,1624 L1280.9,1623.99 L1281.27,1623.99 L1281.63,1623.99 L1282,1623.99 L1282.37,1623.99 L1282.74,1623.99 L1283.1,1623.99 L1283.47,1623.99 L1283.84,1623.99 L1284.2,1623.99 L1284.57,1623.99 L1284.94,1623.98 L1285.3,1623.98 L1285.67,1623.98 L1286.04,1623.98 L1286.41,1623.98 L1286.77,1623.98 L1287.14,1623.98 L1287.51,1623.98 L1287.87,1623.98 L1288.24,1623.97 L1288.61,1623.97 L1288.98,1623.97 L1289.34,1623.97 L1289.71,1623.97 L1290.08,1623.97 L1290.44,1623.97 L1290.81,1623.97 L1291.18,1623.97 L1291.54,1623.97 L1291.91,1623.96 L1292.28,1623.96 L1292.65,1623.96 L1293.01,1623.96 L1293.38,1623.96 L1293.75,1623.96 L1294.11,1623.96 L1294.48,1623.96 L1294.85,1623.96 L1295.21,1623.96 L1295.58,1623.95 L1295.95,1623.95 L1296.32,1623.95 L1296.68,1623.95 L1297.05,1623.95 L1297.42,1623.95 L1297.78,1623.95 L1298.15,1623.95 L1298.52,1623.95 L1298.89,1623.94 L1299.25,1623.94 L1299.62,1623.94 L1299.99,1623.94 L1300.35,1623.94 L1300.72,1623.94 L1301.09,1623.94 L1301.45,1623.94 L1301.82,1623.94 L1302.19,1623.93 L1302.56,1623.93 L1302.92,1623.93 L1303.29,1623.93 L1303.66,1623.93 L1304.02,1623.93 L1304.39,1623.93 L1304.76,1623.93 L1305.13,1623.93 L1305.49,1623.92 L1305.86,1623.92 L1306.23,1623.92 L1306.59,1623.92 L1306.96,1623.92 L1307.33,1623.92 L1307.69,1623.92 L1308.06,1623.92 L1308.43,1623.91 L1308.8,1623.91 L1309.16,1623.91 L1309.53,1623.91 L1309.9,1623.91 L1310.26,1623.91 L1310.63,1623.91 L1311,1623.91 L1311.36,1623.91 L1311.73,1623.9 L1312.1,1623.9 L1312.47,1623.9 L1312.83,1623.9 L1313.2,1623.9 L1313.57,1623.9 L1313.93,1623.9 L1314.3,1623.9 L1314.67,1623.89 L1315.04,1623.89 L1315.4,1623.89 L1315.77,1623.89 L1316.14,1623.89 L1316.5,1623.89 L1316.87,1623.89 L1317.24,1623.89 L1317.6,1623.89 L1317.97,1623.88 L1318.34,1623.88 L1318.71,1623.88 L1319.07,1623.88 L1319.44,1623.88 L1319.81,1623.88 L1320.17,1623.88 L1320.54,1623.88 L1320.91,1623.87 L1321.28,1623.87 L1321.64,1623.87 L1322.01,1623.87 L1322.38,1623.87 L1322.74,1623.87 L1323.11,1623.87 L1323.48,1623.87 L1323.84,1623.86 L1324.21,1623.86 L1324.58,1623.86 L1324.95,1623.86 L1325.31,1623.86 L1325.68,1623.86 L1326.05,1623.86 L1326.41,1623.86 L1326.78,1623.85 L1327.15,1623.85 L1327.51,1623.85 L1327.88,1623.85 L1328.25,1623.85 L1328.62,1623.85 L1328.98,1623.85 L1329.35,1623.84 L1329.72,1623.84 L1330.08,1623.84 L1330.45,1623.84 L1330.82,1623.84 L1331.19,1623.84 L1331.55,1623.84 L1331.92,1623.84 L1332.29,1623.83 L1332.65,1623.83 L1333.02,1623.83 L1333.39,1623.83 L1333.75,1623.83 L1334.12,1623.83 L1334.49,1623.83 L1334.86,1623.82 L1335.22,1623.82 L1335.59,1623.82 L1335.96,1623.82 L1336.32,1623.82 L1336.69,1623.82 L1337.06,1623.82 L1337.43,1623.82 L1337.79,1623.81 L1338.16,1623.81 L1338.53,1623.81 L1338.89,1623.81 L1339.26,1623.81 L1339.63,1623.81 L1339.99,1623.81 L1340.36,1623.8 L1340.73,1623.8 L1341.1,1623.8 L1341.46,1623.8 L1341.83,1623.8 L1342.2,1623.8 L1342.56,1623.8 L1342.93,1623.79 L1343.3,1623.79 L1343.66,1623.79 L1344.03,1623.79 L1344.4,1623.79 L1344.77,1623.79 L1345.13,1623.79 L1345.5,1623.78 L1345.87,1623.78 L1346.23,1623.78 L1346.6,1623.78 L1346.97,1623.78 L1347.34,1623.78 L1347.7,1623.78 L1348.07,1623.77 L1348.44,1623.77 L1348.8,1623.77 L1349.17,1623.77 L1349.54,1623.77 L1349.9,1623.77 L1350.27,1623.77 L1350.64,1623.76 L1351.01,1623.76 L1351.37,1623.76 L1351.74,1623.76 L1352.11,1623.76 L1352.47,1623.76 L1352.84,1623.76 L1353.21,1623.75 L1353.58,1623.75 L1353.94,1623.75 L1354.31,1623.75 L1354.68,1623.75 L1355.04,1623.75 L1355.41,1623.75 L1355.78,1623.74 L1356.14,1623.74 L1356.51,1623.74 L1356.88,1623.74 L1357.25,1623.74 L1357.61,1623.74 L1357.98,1623.74 L1358.35,1623.73 L1358.71,1623.73 L1359.08,1623.73 L1359.45,1623.73 L1359.81,1623.73 L1360.18,1623.73 L1360.55,1623.72 L1360.92,1623.72 L1361.28,1623.72 L1361.65,1623.72 L1362.02,1623.72 L1362.38,1623.72 L1362.75,1623.72 L1363.12,1623.71 L1363.49,1623.71 L1363.85,1623.71 L1364.22,1623.71 L1364.59,1623.71 L1364.95,1623.71 L1365.32,1623.7 L1365.69,1623.7 L1366.05,1623.7 L1366.42,1623.7 L1366.79,1623.7 L1367.16,1623.7 L1367.52,1623.69 L1367.89,1623.69 L1368.26,1623.69 L1368.62,1623.69 L1368.99,1623.69 L1369.36,1623.69 L1369.73,1623.69 L1370.09,1623.68 L1370.46,1623.68 L1370.83,1623.68 L1371.19,1623.68 L1371.56,1623.68 L1371.93,1623.68 L1372.29,1623.67 L1372.66,1623.67 L1373.03,1623.67 L1373.4,1623.67 L1373.76,1623.67 L1374.13,1623.67 L1374.5,1623.66 L1374.86,1623.66 L1375.23,1623.66 L1375.6,1623.66 L1375.96,1623.66 L1376.33,1623.66 L1376.7,1623.65 L1377.07,1623.65 L1377.43,1623.65 L1377.8,1623.65" fill="none" stroke="#0b2a8f" stroke-width="2.3" stroke-linejoin="round" stroke-linecap="butt"/>
<path d="M827.6,2215.9 L827.97,2215.9 L828.33,2215.9 L828.7,2215.9 L829.07,2215.9 L829.44,2215.9 L829.8,2215.9 L830.17,2215.9 L830.54,2215.9 L830.9,2215.9 L831.27,2215.9 L831.64,2215.9 L832,2215.9 L832.37,2215.9 L832.74,2215.9 L833.11,2215.9 L833.47,2215.9 L833.84,2215.9 L834.21,2215.9 L834.57,2215.9 L834.94,2215.9 L835.31,2215.9 L835.67,2215.9 L836.04,2215.9 L836.41,2215.9 L836.78,2215.9 L837.14,2215.9 L837.51,2215.9 L837.88,2215.9 L838.24,2215.9 L838.61,2215.9 L838.98,2215.9 L839.35,2215.9 L839.71,2215.9 L840.08,2215.9 L840.45,2215.9 L840.81,2215.9 L841.18,2215.9 L841.55,2215.9 L841.91,2215.9 L842.28,2215.9 L842.65,2215.9 L843.02,2215.9 L843.38,2215.9 L843.75,2215.9 L844.12,2215.9 L844.48,2215.9 L844.85,2215.9 L845.22,2215.9 L845.58,2215.9 L845.95,2215.9 L846.32,2215.9 L846.69,2215.9 L847.05,2215.9 L847.42,2215.9 L847.79,2215.9 L848.15,2215.9 L848.52,2215.9 L848.89,2215.9 L849.25,2215.9 L849.62,2215.9 L849.99,2215.9 L850.35,2215.9 L850.72,2215.9 L851.09,2215.9 L851.46,2215.9 L851.82,2215.9 L852.19,2215.9 L852.56,2215.9 L852.92,2215.9 L853.29,2215.9 L853.65,2215.9 L854.02,2215.89 L854.39,2215.88 L854.75,2215.87 L855.12,2215.86 L855.49,2215.85 L855.85,2215.83 L856.22,2215.82 L856.58,2215.8 L856.95,2215.78 L857.32,2215.76 L857.68,2215.74 L858.05,2215.71 L858.41,2215.69 L858.78,2215.66 L859.15,2215.63 L859.51,2215.59 L859.88,2215.56 L860.24,2215.52 L860.61,2215.48 L860.97,2215.43 L861.34,2215.38 L861.7,2215.33 L862.07,2215.28 L862.43,2215.22 L862.8,2215.15 L863.16,2215.08 L863.53,2215.01 L863.89,2214.94 L864.26,2214.85 L864.62,2214.77 L864.99,2214.68 L865.35,2214.58 L865.72,2214.48 L866.08,2214.37 L866.45,2214.25 L866.81,2214.13 L867.18,2214.01 L867.54,2213.87 L867.91,2213.73 L868.27,2213.58 L868.64,2213.43 L869,2213.27 L869.37,2213.1 L869.73,2212.92 L870.1,2212.73 L870.47,2212.54 L870.83,2212.34 L871.2,2212.13 L871.56,2211.9 L871.93,2211.68 L872.3,2211.44 L872.66,2211.19 L873.03,2210.93 L873.4,2210.66 L873.76,2210.38 L874.13,2210.09 L874.5,2209.79 L874.87,2209.48 L875.23,2209.16 L875.6,2208.83 L875.97,2208.48 L876.34,2208.13 L876.71,2207.76 L877.08,2207.38 L877.44,2206.99 L877.81,2206.59 L878.18,2206.17 L878.55,2205.75 L878.92,2205.31 L879.29,2204.85 L879.66,2204.39 L880.03,2203.91 L880.4,2203.42 L880.77,2202.91 L881.15,2202.4 L881.52,2201.87 L881.89,2201.32 L882.26,2200.76 L882.63,2200.19 L883,2199.61 L883.38,2199.01 L883.75,2198.4 L884.12,2197.77 L884.49,2197.13 L884.87,2196.48 L885.24,2195.81 L885.61,2195.13 L885.99,2194.44 L886.36,2193.73 L886.74,2193.01 L887.11,2192.27 L887.48,2191.52 L887.86,2190.76 L888.23,2189.98 L888.61,2189.19 L888.98,2188.39 L889.36,2187.57 L889.74,2186.74 L890.11,2185.89 L890.49,2185.04 L890.86,2184.17 L891.24,2183.28 L891.61,2182.38 L891.99,2181.47 L892.37,2180.55 L892.74,2179.62 L893.12,2178.67 L893.5,2177.71 L893.87,2176.73 L894.25,2175.75 L894.63,2174.75 L895,2173.74 L895.38,2172.72 L895.76,2171.69 L896.14,2170.65 L896.51,2169.59 L896.89,2168.52 L897.27,2167.45 L897.64,2166.36 L898.02,2165.26 L898.4,2164.15 L898.77,2163.03 L899.15,2161.9 L899.53,2160.76 L899.9,2159.62 L900.28,2158.46 L900.66,2157.29 L901.03,2156.11 L901.41,2154.93 L901.79,2153.74 L902.16,2152.53 L902.54,2151.33 L902.91,2150.11 L903.29,2148.88 L903.66,2147.65 L904.04,2146.41 L904.41,2145.16 L904.78,2143.91 L905.16,2142.65 L905.53,2141.38 L905.9,2140.11 L906.28,2138.83 L906.65,2137.55 L907.02,2136.26 L907.39,2134.96 L907.76,2133.66 L908.13,2132.36 L908.5,2131.05 L908.87,2129.74 L909.24,2128.42 L909.6,2127.1 L909.97,2125.78 L910.34,2124.45 L910.7,2123.12 L911.07,2121.79 L911.43,2120.46 L911.8,2119.12 L912.16,2117.78 L912.53,2116.44 L912.89,2115.1 L913.25,2113.75 L913.62,2112.41 L913.98,2111.06 L914.34,2109.72 L914.7,2108.37 L915.06,2107.03 L915.42,2105.68 L915.78,2104.33 L916.14,2102.99 L916.5,2101.64 L916.86,2100.3 L917.22,2098.96 L917.58,2097.62 L917.94,2096.28 L918.3,2094.94 L918.66,2093.6 L919.01,2092.27 L919.37,2090.94 L919.73,2089.61 L920.09,2088.28 L920.45,2086.96 L920.81,2085.64 L921.16,2084.33 L921.52,2083.01 L921.88,2081.7 L922.24,2080.4 L922.6,2079.1 L922.95,2077.8 L923.31,2076.51 L923.67,2075.22 L924.03,2073.94 L924.39,2072.66 L924.75,2071.39 L925.11,2070.12 L925.46,2068.86 L925.82,2067.6 L926.18,2066.35 L926.54,2065.1 L926.9,2063.86 L927.26,2062.63 L927.62,2061.4 L927.98,2060.18 L928.34,2058.96 L928.71,2057.76 L929.07,2056.55 L929.43,2055.36 L929.79,2054.17 L930.15,2052.99 L930.51,2051.81 L930.88,2050.64 L931.24,2049.48 L931.6,2048.33 L931.96,2047.18 L932.33,2046.05 L932.69,2044.91 L933.05,2043.79 L933.41,2042.67 L933.78,2041.57 L934.14,2040.47 L934.51,2039.37 L934.87,2038.29 L935.23,2037.21 L935.6,2036.14 L935.96,2035.08 L936.32,2034.03 L936.69,2032.98 L937.05,2031.95 L937.42,2030.92 L937.78,2029.9 L938.15,2028.89 L938.51,2027.88 L938.88,2026.89 L939.24,2025.9 L939.61,2024.92 L939.97,2023.95 L940.34,2022.99 L940.7,2022.04 L941.07,2021.09 L941.43,2020.16 L941.8,2019.23 L942.16,2018.31 L942.53,2017.4 L942.9,2016.5 L943.26,2015.6 L943.63,2014.72 L943.99,2013.84 L944.36,2012.97 L944.72,2012.11 L945.09,2011.26 L945.46,2010.42 L945.82,2009.58 L946.19,2008.76 L946.56,2007.94 L946.92,2007.13 L947.29,2006.33 L947.65,2005.54 L948.02,2004.75 L948.39,2003.98 L948.75,2003.21 L949.12,2002.45 L949.49,2001.7 L949.85,2000.96 L950.22,2000.22 L950.59,1999.49 L950.95,1998.78 L951.32,1998.07 L951.68,1997.36 L952.05,1996.67 L952.42,1995.98 L952.78,1995.3 L953.15,1994.63 L953.52,1993.97 L953.88,1993.32 L954.25,1992.67 L954.62,1992.03 L954.98,1991.4 L955.35,1990.77 L955.72,1990.16 L956.08,1989.55 L956.45,1988.95 L956.82,1988.35 L957.18,1987.77 L957.55,1987.19 L957.92,1986.61 L958.28,1986.05 L958.65,1985.49 L959.02,1984.94 L959.39,1984.4 L959.75,1983.86 L960.12,1983.33 L960.49,1982.81 L960.85,1982.29 L961.22,1981.78 L961.59,1981.28 L961.95,1980.78 L962.32,1980.29 L962.69,1979.81 L963.05,1979.34 L963.42,1978.87 L963.79,1978.4 L964.15,1977.95 L964.52,1977.49 L964.89,1977.05 L965.25,1976.61 L965.62,1976.18 L965.99,1975.75 L966.35,1975.33 L966.72,1974.92 L967.09,1974.51 L967.46,1974.11 L967.82,1973.71 L968.19,1973.32 L968.56,1972.93 L968.92,1972.55 L969.29,1972.18 L969.66,1971.81 L970.02,1971.45 L970.39,1971.09 L970.76,1970.73 L971.12,1970.39 L971.49,1970.04 L971.86,1969.71 L972.22,1969.37 L972.59,1969.05 L972.96,1968.72 L973.33,1968.41 L973.69,1968.09 L974.06,1967.78 L974.43,1967.48 L974.79,1967.18 L975.16,1966.89 L975.53,1966.6 L975.89,1966.31 L976.26,1966.03 L976.63,1965.76 L976.99,1965.48 L977.36,1965.22 L977.73,1964.95 L978.1,1964.69 L978.46,1964.44 L978.83,1964.19 L979.2,1963.94 L979.56,1963.7 L979.93,1963.46 L980.3,1963.22 L980.66,1962.99 L981.03,1962.76 L981.4,1962.54 L981.76,1962.32 L982.13,1962.1 L982.5,1961.89 L982.87,1961.68 L983.23,1961.47 L983.6,1961.27 L983.97,1961.07 L984.33,1960.87 L984.7,1960.68 L985.07,1960.49 L985.43,1960.3 L985.8,1960.12 L986.17,1959.94 L986.54,1959.76 L986.9,1959.59 L987.27,1959.41 L987.64,1959.25 L988,1959.08 L988.37,1958.92 L988.74,1958.76 L989.1,1958.6 L989.47,1958.45 L989.84,1958.29 L990.2,1958.15 L990.57,1958 L990.94,1957.85 L991.31,1957.71 L991.67,1957.57 L992.04,1957.44 L992.41,1957.3 L992.77,1957.17 L993.14,1957.04 L993.51,1956.91 L993.87,1956.79 L994.24,1956.67 L994.61,1956.55 L994.98,1956.43 L995.34,1956.31 L995.71,1956.2 L996.08,1956.09 L996.44,1955.98 L996.81,1955.87 L997.18,1955.76 L997.54,1955.66 L997.91,1955.55 L998.28,1955.45 L998.65,1955.36 L999.01,1955.26 L999.38,1955.16 L999.75,1955.07 L1000.11,1954.98 L1000.48,1954.89 L1000.85,1954.8 L1001.21,1954.71 L1001.58,1954.63 L1001.95,1954.55 L1002.32,1954.46 L1002.68,1954.38 L1003.05,1954.31 L1003.42,1954.23 L1003.78,1954.15 L1004.15,1954.08 L1004.52,1954 L1004.88,1953.93 L1005.25,1953.86 L1005.62,1953.79 L1005.99,1953.73 L1006.35,1953.66 L1006.72,1953.6 L1007.09,1953.53 L1007.45,1953.47 L1007.82,1953.41 L1008.19,1953.35 L1008.55,1953.29 L1008.92,1953.23 L1009.29,1953.17 L1009.66,1953.12 L1010.02,1953.06 L1010.39,1953.01 L1010.76,1952.96 L1011.12,1952.91 L1011.49,1952.86 L1011.86,1952.81 L1012.22,1952.76 L1012.59,1952.71 L1012.96,1952.66 L1013.33,1952.62 L1013.69,1952.57 L1014.06,1952.53 L1014.43,1952.49 L1014.79,1952.44 L1015.16,1952.4 L1015.53,1952.36 L1015.9,1952.32 L1016.26,1952.28 L1016.63,1952.25 L1017,1952.21 L1017.36,1952.17 L1017.73,1952.14 L1018.1,1952.1 L1018.46,1952.07 L1018.83,1952.03 L1019.2,1952 L1019.57,1951.97 L1019.93,1951.94 L1020.3,1951.9 L1020.67,1951.87 L1021.03,1951.84 L1021.4,1951.81 L1021.77,1951.79 L1022.13,1951.76 L1022.5,1951.73 L1022.87,1951.7 L1023.24,1951.68 L1023.6,1951.65 L1023.97,1951.63 L1024.34,1951.6 L1024.7,1951.58 L1025.07,1951.55 L1025.44,1951.53 L1025.8,1951.51 L1026.17,1951.49 L1026.54,1951.46 L1026.91,1951.44 L1027.27,1951.42 L1027.64,1951.4 L1028.01,1951.38 L1028.37,1951.36 L1028.74,1951.34 L1029.11,1951.32 L1029.48,1951.31 L1029.84,1951.29 L1030.21,1951.27 L1030.58,1951.25 L1030.94,1951.24 L1031.31,1951.22 L1031.68,1951.2 L1032.04,1951.19 L1032.41,1951.17 L1032.78,1951.16 L1033.15,1951.14 L1033.51,1951.13 L1033.88,1951.11 L1034.25,1951.1 L1034.61,1951.09 L1034.98,1951.07 L1035.35,1951.06 L1035.71,1951.05 L1036.08,1951.03 L1036.45,1951.02 L1036.82,1951.01 L1037.18,1951 L1037.55,1950.99 L1037.92,1950.98 L1038.28,1950.96 L1038.65,1950.95 L1039.02,1950.94 L1039.39,1950.93 L1039.75,1950.92 L1040.12,1950.91 L1040.49,1950.9 L1040.85,1950.89 L1041.22,1950.89 L1041.59,1950.88 L1041.95,1950.87 L1042.32,1950.86 L1042.69,1950.85 L1043.06,1950.84 L1043.42,1950.83 L1043.79,1950.83 L1044.16,1950.82 L1044.52,1950.81 L1044.89,1950.8 L1045.26,1950.8 L1045.62,1950.79 L1045.99,1950.78 L1046.36,1950.78 L1046.73,1950.77 L1047.09,1950.76 L1047.46,1950.76 L1047.83,1950.75 L1048.19,1950.75 L1048.56,1950.74 L1048.93,1950.73 L1049.3,1950.73 L1049.66,1950.72 L1050.03,1950.72 L1050.4,1950.71 L1050.76,1950.71 L1051.13,1950.7 L1051.5,1950.7 L1051.86,1950.69 L1052.23,1950.69 L1052.6,1950.68 L1052.97,1950.68 L1053.33,1950.67 L1053.7,1950.67 L1054.07,1950.67 L1054.43,1950.66 L1054.8,1950.66 L1055.17,1950.65 L1055.53,1950.65 L1055.9,1950.65 L1056.27,1950.64 L1056.64,1950.64 L1057,1950.64 L1057.37,1950.63 L1057.74,1950.63 L1058.1,1950.63 L1058.47,1950.62 L1058.84,1950.62 L1059.21,1950.62 L1059.57,1950.62 L1059.94,1950.61 L1060.31,1950.61 L1060.67,1950.61 L1061.04,1950.6 L1061.41,1950.6 L1061.77,1950.6 L1062.14,1950.6 L1062.51,1950.59 L1062.88,1950.59 L1063.24,1950.59 L1063.61,1950.59 L1063.98,1950.59 L1064.34,1950.58 L1064.71,1950.58 L1065.08,1950.58 L1065.45,1950.58 L1065.81,1950.58 L1066.18,1950.57 L1066.55,1950.57 L1066.91,1950.57 L1067.28,1950.57 L1067.65,1950.57 L1068.01,1950.57 L1068.38,1950.56 L1068.75,1950.56 L1069.12,1950.56 L1069.48,1950.56 L1069.85,1950.56 L1070.22,1950.56 L1070.58,1950.55 L1070.95,1950.55 L1071.32,1950.55 L1071.68,1950.55 L1072.05,1950.55 L1072.42,1950.55 L1072.79,1950.55 L1073.15,1950.55 L1073.52,1950.54 L1073.89,1950.54 L1074.25,1950.54 L1074.62,1950.54 L1074.99,1950.54 L1075.36,1950.54 L1075.72,1950.54 L1076.09,1950.54 L1076.46,1950.54 L1076.82,1950.54 L1077.19,1950.54 L1077.56,1950.53 L1077.92,1950.53 L1078.29,1950.53 L1078.66,1950.53 L1079.03,1950.53 L1079.39,1950.53 L1079.76,1950.53 L1080.13,1950.53 L1080.49,1950.53 L1080.86,1950.53 L1081.23,1950.53 L1081.59,1950.53 L1081.96,1950.53 L1082.33,1950.53 L1082.7,1950.52 L1083.06,1950.52 L1083.43,1950.52 L1083.8,1950.52 L1084.16,1950.52 L1084.53,1950.52 L1084.9,1950.52 L1085.27,1950.52 L1085.63,1950.52 L1086,1950.52 L1086.37,1950.52 L1086.73,1950.52 L1087.1,1950.52 L1087.47,1950.52 L1087.83,1950.52 L1088.2,1950.52 L1088.57,1950.52 L1088.94,1950.52 L1089.3,1950.52 L1089.67,1950.52 L1090.04,1950.52 L1090.4,1950.52 L1090.77,1950.52 L1091.14,1950.52 L1091.51,1950.51 L1091.87,1950.51 L1092.24,1950.51 L1092.61,1950.51 L1092.97,1950.51 L1093.34,1950.51 L1093.71,1950.51 L1094.07,1950.51 L1094.44,1950.51 L1094.81,1950.51 L1095.18,1950.51 L1095.54,1950.51 L1095.91,1950.51 L1096.28,1950.51 L1096.64,1950.51 L1097.01,1950.51 L1097.38,1950.51 L1097.74,1950.51 L1098.11,1950.51 L1098.48,1950.51 L1098.85,1950.51 L1099.21,1950.51 L1099.58,1950.51 L1099.95,1950.51 L1100.31,1950.51 L1100.68,1950.51 L1101.05,1950.51 L1101.42,1950.51 L1101.78,1950.51 L1102.15,1950.51 L1102.52,1950.51 L1102.88,1950.51 L1103.25,1950.51 L1103.62,1950.51 L1103.98,1950.51 L1104.35,1950.51 L1104.72,1950.51 L1105.09,1950.51 L1105.45,1950.51 L1105.82,1950.51 L1106.19,1950.51 L1106.55,1950.51 L1106.92,1950.51 L1107.29,1950.51 L1107.66,1950.51 L1108.02,1950.51 L1108.39,1950.51 L1108.76,1950.51 L1109.12,1950.51 L1109.49,1950.51 L1109.86,1950.51 L1110.22,1950.51 L1110.59,1950.51 L1110.96,1950.51 L1111.33,1950.51 L1111.69,1950.51 L1112.06,1950.51 L1112.43,1950.51 L1112.79,1950.51 L1113.16,1950.51 L1113.53,1950.51 L1113.89,1950.51 L1114.26,1950.51 L1114.63,1950.51 L1115,1950.51 L1115.36,1950.51 L1115.73,1950.51 L1116.1,1950.51 L1116.46,1950.51 L1116.83,1950.51 L1117.2,1950.51 L1117.57,1950.51 L1117.93,1950.51 L1118.3,1950.51 L1118.67,1950.51 L1119.03,1950.51 L1119.4,1950.51 L1119.77,1950.51 L1120.13,1950.51 L1120.5,1950.51 L1120.87,1950.51 L1121.24,1950.51 L1121.6,1950.51 L1121.97,1950.51 L1122.34,1950.51 L1122.7,1950.51 L1123.07,1950.51 L1123.44,1950.51 L1123.81,1950.51 L1124.17,1950.51 L1124.54,1950.51 L1124.91,1950.51 L1125.27,1950.51 L1125.64,1950.51 L1126.01,1950.51 L1126.37,1950.51 L1126.74,1950.51 L1127.11,1950.51 L1127.48,1950.51 L1127.84,1950.51 L1128.21,1950.51 L1128.58,1950.51 L1128.94,1950.51 L1129.31,1950.51 L1129.68,1950.51 L1130.04,1950.51 L1130.41,1950.51 L1130.78,1950.51 L1131.15,1950.51 L1131.51,1950.51 L1131.88,1950.51 L1132.25,1950.51 L1132.61,1950.51 L1132.98,1950.51 L1133.35,1950.51 L1133.72,1950.51 L1134.08,1950.51 L1134.45,1950.51 L1134.82,1950.51 L1135.18,1950.51 L1135.55,1950.51 L1135.92,1950.51 L1136.28,1950.51 L1136.65,1950.51 L1137.02,1950.51 L1137.39,1950.51 L1137.75,1950.51 L1138.12,1950.51 L1138.49,1950.51 L1138.85,1950.51 L1139.22,1950.51 L1139.59,1950.51 L1139.96,1950.51 L1140.32,1950.51 L1140.69,1950.51 L1141.06,1950.51 L1141.42,1950.51 L1141.79,1950.51 L1142.16,1950.51 L1142.52,1950.51 L1142.89,1950.51 L1143.26,1950.51 L1143.63,1950.51 L1143.99,1950.51 L1144.36,1950.51 L1144.73,1950.51 L1145.09,1950.51 L1145.46,1950.51 L1145.83,1950.51 L1146.19,1950.51 L1146.56,1950.51 L1146.93,1950.51 L1147.3,1950.51 L1147.66,1950.51 L1148.03,1950.51 L1148.4,1950.51 L1148.76,1950.51 L1149.13,1950.51 L1149.5,1950.51 L1149.87,1950.51 L1150.23,1950.51 L1150.6,1950.51 L1150.97,1950.51 L1151.33,1950.51 L1151.7,1950.51 L1152.07,1950.51 L1152.43,1950.51 L1152.8,1950.51 L1153.17,1950.51 L1153.54,1950.51 L1153.9,1950.51 L1154.27,1950.51 L1154.64,1950.51 L1155,1950.51 L1155.37,1950.51 L1155.74,1950.51 L1156.11,1950.51 L1156.47,1950.51 L1156.84,1950.51 L1157.21,1950.51 L1157.57,1950.51 L1157.94,1950.51 L1158.31,1950.51 L1158.67,1950.51 L1159.04,1950.51 L1159.41,1950.51 L1159.78,1950.51 L1160.14,1950.51 L1160.51,1950.51 L1160.88,1950.51 L1161.24,1950.51 L1161.61,1950.51 L1161.98,1950.51 L1162.34,1950.51 L1162.71,1950.51 L1163.08,1950.51 L1163.45,1950.51 L1163.81,1950.51 L1164.18,1950.51 L1164.55,1950.51 L1164.91,1950.51 L1165.28,1950.51 L1165.65,1950.51 L1166.02,1950.51 L1166.38,1950.51 L1166.75,1950.51 L1167.12,1950.51 L1167.48,1950.51 L1167.85,1950.51 L1168.22,1950.51 L1168.58,1950.51 L1168.95,1950.51 L1169.32,1950.51 L1169.69,1950.51 L1170.05,1950.51 L1170.42,1950.51 L1170.79,1950.51 L1171.15,1950.51 L1171.52,1950.51 L1171.89,1950.51 L1172.25,1950.51 L1172.62,1950.51 L1172.99,1950.51 L1173.36,1950.51 L1173.72,1950.51 L1174.09,1950.51 L1174.46,1950.51 L1174.82,1950.51 L1175.19,1950.51 L1175.56,1950.51 L1175.93,1950.51 L1176.29,1950.51 L1176.66,1950.51 L1177.03,1950.51 L1177.39,1950.51 L1177.76,1950.51 L1178.13,1950.51 L1178.49,1950.51 L1178.86,1950.51 L1179.23,1950.51 L1179.6,1950.51 L1179.96,1950.51 L1180.33,1950.51 L1180.7,1950.51 L1181.06,1950.51 L1181.43,1950.51 L1181.8,1950.51 L1182.17,1950.51 L1182.53,1950.51 L1182.9,1950.51 L1183.27,1950.51 L1183.63,1950.51 L1184,1950.51 L1184.37,1950.51 L1184.73,1950.51 L1185.1,1950.51 L1185.47,1950.51 L1185.84,1950.51 L1186.2,1950.51 L1186.57,1950.51 L1186.94,1950.51 L1187.3,1950.51 L1187.67,1950.51 L1188.04,1950.51 L1188.4,1950.51 L1188.77,1950.51 L1189.14,1950.51 L1189.51,1950.51 L1189.87,1950.51 L1190.24,1950.51 L1190.61,1950.51 L1190.97,1950.51 L1191.34,1950.51 L1191.71,1950.51 L1192.08,1950.51 L1192.44,1950.51 L1192.81,1950.51 L1193.18,1950.51 L1193.54,1950.51 L1193.91,1950.51 L1194.28,1950.51 L1194.64,1950.51 L1195.01,1950.51 L1195.38,1950.51 L1195.75,1950.51 L1196.11,1950.51 L1196.48,1950.51 L1196.85,1950.51 L1197.21,1950.51 L1197.58,1950.51 L1197.95,1950.51 L1198.32,1950.51 L1198.68,1950.51 L1199.05,1950.51 L1199.42,1950.51 L1199.78,1950.51 L1200.15,1950.51 L1200.52,1950.51 L1200.88,1950.51 L1201.25,1950.51 L1201.62,1950.51 L1201.99,1950.51 L1202.35,1950.51 L1202.72,1950.51 L1203.09,1950.51 L1203.45,1950.51 L1203.82,1950.51 L1204.19,1950.51 L1204.55,1950.51 L1204.92,1950.51 L1205.29,1950.51 L1205.66,1950.51 L1206.02,1950.51 L1206.39,1950.51 L1206.76,1950.51 L1207.12,1950.51 L1207.49,1950.51 L1207.86,1950.51 L1208.23,1950.51 L1208.59,1950.51 L1208.96,1950.5 L1209.33,1950.5 L1209.69,1950.5 L1210.06,1950.5 L1210.43,1950.5 L1210.79,1950.5 L1211.16,1950.5 L1211.53,1950.5 L1211.9,1950.5 L1212.26,1950.5 L1212.63,1950.5 L1213,1950.5 L1213.36,1950.5 L1213.73,1950.5 L1214.1,1950.5 L1214.47,1950.5 L1214.83,1950.5 L1215.2,1950.5 L1215.57,1950.5 L1215.93,1950.5 L1216.3,1950.5 L1216.67,1950.5 L1217.03,1950.5 L1217.4,1950.5 L1217.77,1950.5 L1218.14,1950.5 L1218.5,1950.5 L1218.87,1950.5 L1219.24,1950.5 L1219.6,1950.5 L1219.97,1950.5 L1220.34,1950.5 L1220.7,1950.5 L1221.07,1950.5 L1221.44,1950.5 L1221.81,1950.5 L1222.17,1950.5 L1222.54,1950.5 L1222.91,1950.5 L1223.27,1950.5 L1223.64,1950.5 L1224.01,1950.5 L1224.38,1950.5 L1224.74,1950.5 L1225.11,1950.5 L1225.48,1950.5 L1225.84,1950.5 L1226.21,1950.5 L1226.58,1950.5 L1226.94,1950.5 L1227.31,1950.5 L1227.68,1950.5 L1228.05,1950.5 L1228.41,1950.5 L1228.78,1950.5 L1229.15,1950.5 L1229.51,1950.5 L1229.88,1950.5 L1230.25,1950.5 L1230.62,1950.5 L1230.98,1950.5 L1231.35,1950.5 L1231.72,1950.5 L1232.08,1950.5 L1232.45,1950.5 L1232.82,1950.5 L1233.18,1950.5 L1233.55,1950.5 L1233.92,1950.49 L1234.29,1950.49 L1234.65,1950.49 L1235.02,1950.49 L1235.39,1950.49 L1235.75,1950.49 L1236.12,1950.49 L1236.49,1950.49 L1236.85,1950.49 L1237.22,1950.49 L1237.59,1950.49 L1237.96,1950.49 L1238.32,1950.49 L1238.69,1950.49 L1239.06,1950.49 L1239.42,1950.49 L1239.79,1950.49 L1240.16,1950.49 L1240.53,1950.49 L1240.89,1950.49 L1241.26,1950.49 L1241.63,1950.49 L1241.99,1950.49 L1242.36,1950.49 L1242.73,1950.49 L1243.09,1950.49 L1243.46,1950.49 L1243.83,1950.49 L1244.2,1950.49 L1244.56,1950.49 L1244.93,1950.49 L1245.3,1950.49 L1245.66,1950.49 L1246.03,1950.49 L1246.4,1950.49 L1246.77,1950.49 L1247.13,1950.49 L1247.5,1950.49 L1247.87,1950.49 L1248.23,1950.49 L1248.6,1950.49 L1248.97,1950.49 L1249.33,1950.49 L1249.7,1950.49 L1250.07,1950.49 L1250.44,1950.48 L1250.8,1950.48 L1251.17,1950.48 L1251.54,1950.48 L1251.9,1950.48 L1252.27,1950.48 L1252.64,1950.48 L1253,1950.48 L1253.37,1950.48 L1253.74,1950.48 L1254.11,1950.48 L1254.47,1950.48 L1254.84,1950.48 L1255.21,1950.48 L1255.57,1950.48 L1255.94,1950.48 L1256.31,1950.48 L1256.68,1950.48 L1257.04,1950.48 L1257.41,1950.48 L1257.78,1950.48 L1258.14,1950.48 L1258.51,1950.48 L1258.88,1950.48 L1259.24,1950.48 L1259.61,1950.48 L1259.98,1950.48 L1260.35,1950.48 L1260.71,1950.48 L1261.08,1950.48 L1261.45,1950.48 L1261.81,1950.48 L1262.18,1950.48 L1262.55,1950.48 L1262.92,1950.48 L1263.28,1950.48 L1263.65,1950.47 L1264.02,1950.47 L1264.38,1950.47 L1264.75,1950.47 L1265.12,1950.47 L1265.48,1950.47 L1265.85,1950.47 L1266.22,1950.47 L1266.59,1950.47 L1266.95,1950.47 L1267.32,1950.47 L1267.69,1950.47 L1268.05,1950.47 L1268.42,1950.47 L1268.79,1950.47 L1269.15,1950.47 L1269.52,1950.47 L1269.89,1950.47 L1270.26,1950.47 L1270.62,1950.47 L1270.99,1950.47 L1271.36,1950.47 L1271.72,1950.47 L1272.09,1950.47 L1272.46,1950.47 L1272.83,1950.47 L1273.19,1950.47 L1273.56,1950.47 L1273.93,1950.47 L1274.29,1950.47 L1274.66,1950.46 L1275.03,1950.46 L1275.39,1950.46 L1275.76,1950.46 L1276.13,1950.46 L1276.5,1950.46 L1276.86,1950.46 L1277.23,1950.46 L1277.6,1950.46 L1277.96,1950.46 L1278.33,1950.46 L1278.7,1950.46 L1279.06,1950.46 L1279.43,1950.46 L1279.8,1950.46 L1280.17,1950.46 L1280.53,1950.46 L1280.9,1950.46 L1281.27,1950.46 L1281.63,1950.46 L1282,1950.46 L1282.37,1950.46 L1282.74,1950.46 L1283.1,1950.46 L1283.47,1950.46 L1283.84,1950.46 L1284.2,1950.45 L1284.57,1950.45 L1284.94,1950.45 L1285.3,1950.45 L1285.67,1950.45 L1286.04,1950.45 L1286.41,1950.45 L1286.77,1950.45 L1287.14,1950.45 L1287.51,1950.45 L1287.87,1950.45 L1288.24,1950.45 L1288.61,1950.45 L1288.98,1950.45 L1289.34,1950.45 L1289.71,1950.45 L1290.08,1950.45 L1290.44,1950.45 L1290.81,1950.45 L1291.18,1950.45 L1291.54,1950.45 L1291.91,1950.45 L1292.28,1950.45 L1292.65,1950.45 L1293.01,1950.44 L1293.38,1950.44 L1293.75,1950.44 L1294.11,1950.44 L1294.48,1950.44 L1294.85,1950.44 L1295.21,1950.44 L1295.58,1950.44 L1295.95,1950.44 L1296.32,1950.44 L1296.68,1950.44 L1297.05,1950.44 L1297.42,1950.44 L1297.78,1950.44 L1298.15,1950.44 L1298.52,1950.44 L1298.89,1950.44 L1299.25,1950.44 L1299.62,1950.44 L1299.99,1950.44 L1300.35,1950.44 L1300.72,1950.44 L1301.09,1950.43 L1301.45,1950.43 L1301.82,1950.43 L1302.19,1950.43 L1302.56,1950.43 L1302.92,1950.43 L1303.29,1950.43 L1303.66,1950.43 L1304.02,1950.43 L1304.39,1950.43 L1304.76,1950.43 L1305.13,1950.43 L1305.49,1950.43 L1305.86,1950.43 L1306.23,1950.43 L1306.59,1950.43 L1306.96,1950.43 L1307.33,1950.43 L1307.69,1950.43 L1308.06,1950.42 L1308.43,1950.42 L1308.8,1950.42 L1309.16,1950.42 L1309.53,1950.42 L1309.9,1950.42 L1310.26,1950.42 L1310.63,1950.42 L1311,1950.42 L1311.36,1950.42 L1311.73,1950.42 L1312.1,1950.42 L1312.47,1950.42 L1312.83,1950.42 L1313.2,1950.42 L1313.57,1950.42 L1313.93,1950.42 L1314.3,1950.42 L1314.67,1950.42 L1315.04,1950.41 L1315.4,1950.41 L1315.77,1950.41 L1316.14,1950.41 L1316.5,1950.41 L1316.87,1950.41 L1317.24,1950.41 L1317.6,1950.41 L1317.97,1950.41 L1318.34,1950.41 L1318.71,1950.41 L1319.07,1950.41 L1319.44,1950.41 L1319.81,1950.41 L1320.17,1950.41 L1320.54,1950.41 L1320.91,1950.41 L1321.28,1950.4 L1321.64,1950.4 L1322.01,1950.4 L1322.38,1950.4 L1322.74,1950.4 L1323.11,1950.4 L1323.48,1950.4 L1323.84,1950.4 L1324.21,1950.4 L1324.58,1950.4 L1324.95,1950.4 L1325.31,1950.4 L1325.68,1950.4 L1326.05,1950.4 L1326.41,1950.4 L1326.78,1950.4 L1327.15,1950.4 L1327.51,1950.39 L1327.88,1950.39 L1328.25,1950.39 L1328.62,1950.39 L1328.98,1950.39 L1329.35,1950.39 L1329.72,1950.39 L1330.08,1950.39 L1330.45,1950.39 L1330.82,1950.39 L1331.19,1950.39 L1331.55,1950.39 L1331.92,1950.39 L1332.29,1950.39 L1332.65,1950.39 L1333.02,1950.38 L1333.39,1950.38 L1333.75,1950.38 L1334.12,1950.38 L1334.49,1950.38 L1334.86,1950.38 L1335.22,1950.38 L1335.59,1950.38 L1335.96,1950.38 L1336.32,1950.38 L1336.69,1950.38 L1337.06,1950.38 L1337.43,1950.38 L1337.79,1950.38 L1338.16,1950.38 L1338.53,1950.37 L1338.89,1950.37 L1339.26,1950.37 L1339.63,1950.37 L1339.99,1950.37 L1340.36,1950.37 L1340.73,1950.37 L1341.1,1950.37 L1341.46,1950.37 L1341.83,1950.37 L1342.2,1950.37 L1342.56,1950.37 L1342.93,1950.37 L1343.3,1950.37 L1343.66,1950.36 L1344.03,1950.36 L1344.4,1950.36 L1344.77,1950.36 L1345.13,1950.36 L1345.5,1950.36 L1345.87,1950.36 L1346.23,1950.36 L1346.6,1950.36 L1346.97,1950.36 L1347.34,1950.36 L1347.7,1950.36 L1348.07,1950.36 L1348.44,1950.35 L1348.8,1950.35 L1349.17,1950.35 L1349.54,1950.35 L1349.9,1950.35 L1350.27,1950.35 L1350.64,1950.35 L1351.01,1950.35 L1351.37,1950.35 L1351.74,1950.35 L1352.11,1950.35 L1352.47,1950.35 L1352.84,1950.35 L1353.21,1950.34 L1353.58,1950.34 L1353.94,1950.34 L1354.31,1950.34 L1354.68,1950.34 L1355.04,1950.34 L1355.41,1950.34 L1355.78,1950.34 L1356.14,1950.34 L1356.51,1950.34 L1356.88,1950.34 L1357.25,1950.34 L1357.61,1950.33 L1357.98,1950.33 L1358.35,1950.33 L1358.71,1950.33 L1359.08,1950.33 L1359.45,1950.33 L1359.81,1950.33 L1360.18,1950.33 L1360.55,1950.33 L1360.92,1950.33 L1361.28,1950.33 L1361.65,1950.33 L1362.02,1950.32 L1362.38,1950.32 L1362.75,1950.32 L1363.12,1950.32 L1363.49,1950.32 L1363.85,1950.32 L1364.22,1950.32 L1364.59,1950.32 L1364.95,1950.32 L1365.32,1950.32 L1365.69,1950.32 L1366.05,1950.32 L1366.42,1950.31 L1366.79,1950.31 L1367.16,1950.31 L1367.52,1950.31 L1367.89,1950.31 L1368.26,1950.31 L1368.62,1950.31 L1368.99,1950.31 L1369.36,1950.31 L1369.73,1950.31 L1370.09,1950.31 L1370.46,1950.3 L1370.83,1950.3 L1371.19,1950.3 L1371.56,1950.3 L1371.93,1950.3 L1372.29,1950.3 L1372.66,1950.3 L1373.03,1950.3 L1373.4,1950.3 L1373.76,1950.3 L1374.13,1950.3 L1374.5,1950.29 L1374.86,1950.29 L1375.23,1950.29 L1375.6,1950.29 L1375.96,1950.29 L1376.33,1950.29 L1376.7,1950.29 L1377.07,1950.29 L1377.43,1950.29 L1377.8,1950.29" fill="none" stroke="#e60000" stroke-width="2.3" stroke-linejoin="round" stroke-linecap="butt"/>
<path d="M827.6,2216.3 L830.34,2216.28 L833.09,2216.26 L835.83,2216.24 L838.58,2216.22 L841.32,2216.2 L844.06,2216.18 L846.81,2216.16 L849.55,2216.14 L852.29,2216.12 L855.04,2216.1 L857.78,2216.08 L860.52,2216.07 L863.27,2216.05 L866.01,2216.03 L868.76,2216.01 L871.5,2215.99 L874.24,2215.98 L876.99,2215.96 L879.73,2215.94 L882.48,2215.92 L885.22,2215.91 L887.96,2215.89 L890.71,2215.87 L893.45,2215.86 L896.19,2215.84 L898.94,2215.82 L901.68,2215.81 L904.43,2215.79 L907.17,2215.77 L909.91,2215.76 L912.66,2215.74 L915.4,2215.73 L918.14,2215.71 L920.89,2215.7 L923.63,2215.68 L926.38,2215.67 L929.12,2215.65 L931.86,2215.64 L934.61,2215.62 L937.35,2215.61 L940.09,2215.59 L942.84,2215.58 L945.58,2215.57 L948.33,2215.55 L951.07,2215.54 L953.81,2215.52 L956.56,2215.51 L959.3,2215.5 L962.04,2215.48 L964.79,2215.47 L967.53,2215.46 L970.27,2215.45 L973.02,2215.43 L975.76,2215.42 L978.51,2215.41 L981.25,2215.4 L983.99,2215.38 L986.74,2215.37 L989.48,2215.36 L992.23,2215.35 L994.97,2215.33 L997.71,2215.32 L1000.46,2215.31 L1003.2,2215.3 L1005.94,2215.29 L1008.69,2215.28 L1011.43,2215.27 L1014.17,2215.25 L1016.92,2215.24 L1019.66,2215.23 L1022.41,2215.22 L1025.15,2215.21 L1027.89,2215.2 L1030.64,2215.19 L1033.38,2215.18 L1036.12,2215.17 L1038.87,2215.16 L1041.61,2215.15 L1044.36,2215.14 L1047.1,2215.13 L1049.84,2215.12 L1052.59,2215.11 L1055.33,2215.1 L1058.08,2215.09 L1060.82,2215.08 L1063.56,2215.07 L1066.31,2215.06 L1069.05,2215.05 L1071.79,2215.04 L1074.54,2215.03 L1077.28,2215.02 L1080.03,2215.01 L1082.77,2215.01 L1085.51,2215 L1088.26,2214.99 L1091,2214.98 L1093.74,2214.97 L1096.49,2214.96 L1099.23,2214.95 L1101.97,2214.95 L1104.72,2214.94 L1107.46,2214.93 L1110.21,2214.92 L1112.95,2214.91 L1115.69,2214.91 L1118.44,2214.9 L1121.18,2214.89 L1123.92,2214.88 L1126.67,2214.87 L1129.41,2214.87 L1132.16,2214.86 L1134.9,2214.85 L1137.64,2214.84 L1140.39,2214.84 L1143.13,2214.83 L1145.88,2214.82 L1148.62,2214.81 L1151.36,2214.81 L1154.11,2214.8 L1156.85,2214.79 L1159.59,2214.79 L1162.34,2214.78 L1165.08,2214.77 L1167.83,2214.77 L1170.57,2214.76 L1173.31,2214.75 L1176.06,2214.75 L1178.8,2214.74 L1181.54,2214.73 L1184.29,2214.73 L1187.03,2214.72 L1189.78,2214.71 L1192.52,2214.71 L1195.26,2214.7 L1198.01,2214.7 L1200.75,2214.69 L1203.49,2214.68 L1206.24,2214.68 L1208.98,2214.67 L1211.72,2214.67 L1214.47,2214.66 L1217.21,2214.66 L1219.96,2214.65 L1222.7,2214.64 L1225.44,2214.64 L1228.19,2214.63 L1230.93,2214.63 L1233.67,2214.62 L1236.42,2214.62 L1239.16,2214.61 L1241.91,2214.61 L1244.65,2214.6 L1247.39,2214.6 L1250.14,2214.59 L1252.88,2214.59 L1255.62,2214.58 L1258.37,2214.58 L1261.11,2214.57 L1263.86,2214.57 L1266.6,2214.56 L1269.34,2214.56 L1272.09,2214.55 L1274.83,2214.55 L1277.58,2214.54 L1280.32,2214.54 L1283.06,2214.53 L1285.81,2214.53 L1288.55,2214.52 L1291.29,2214.52 L1294.04,2214.52 L1296.78,2214.51 L1299.53,2214.51 L1302.27,2214.5 L1305.01,2214.5 L1307.76,2214.49 L1310.5,2214.49 L1313.24,2214.49 L1315.99,2214.48 L1318.73,2214.48 L1321.47,2214.47 L1324.22,2214.47 L1326.96,2214.47 L1329.71,2214.46 L1332.45,2214.46 L1335.19,2214.45 L1337.94,2214.45 L1340.68,2214.45 L1343.42,2214.44 L1346.17,2214.44 L1348.91,2214.44 L1351.66,2214.43 L1354.4,2214.43 L1357.14,2214.42 L1359.89,2214.42 L1362.63,2214.42 L1365.38,2214.41 L1368.12,2214.41 L1370.86,2214.41 L1373.61,2214.4 L1376.35,2214.4" fill="none" stroke="#000" stroke-width="2.4" stroke-linejoin="round" stroke-linecap="butt"/>
<text x="1346.9" y="1790.6" font-size="46.3" text-anchor="middle" >(f)</text>
<text transform="translate(766.2,1930.9) rotate(-90)" font-size="37.5" text-anchor="middle"><tspan font-style="italic">R</tspan> per cell</text>
<text x="-1" y="37.8" font-size="43" font-weight="bold">A</text>
<text x="638.0" y="2292.8" font-size="45">time</text>
<text x="730.8" y="2292.8" font-size="45">(<tspan font-style="italic">s</tspan>)</text>
</svg></body></html>
